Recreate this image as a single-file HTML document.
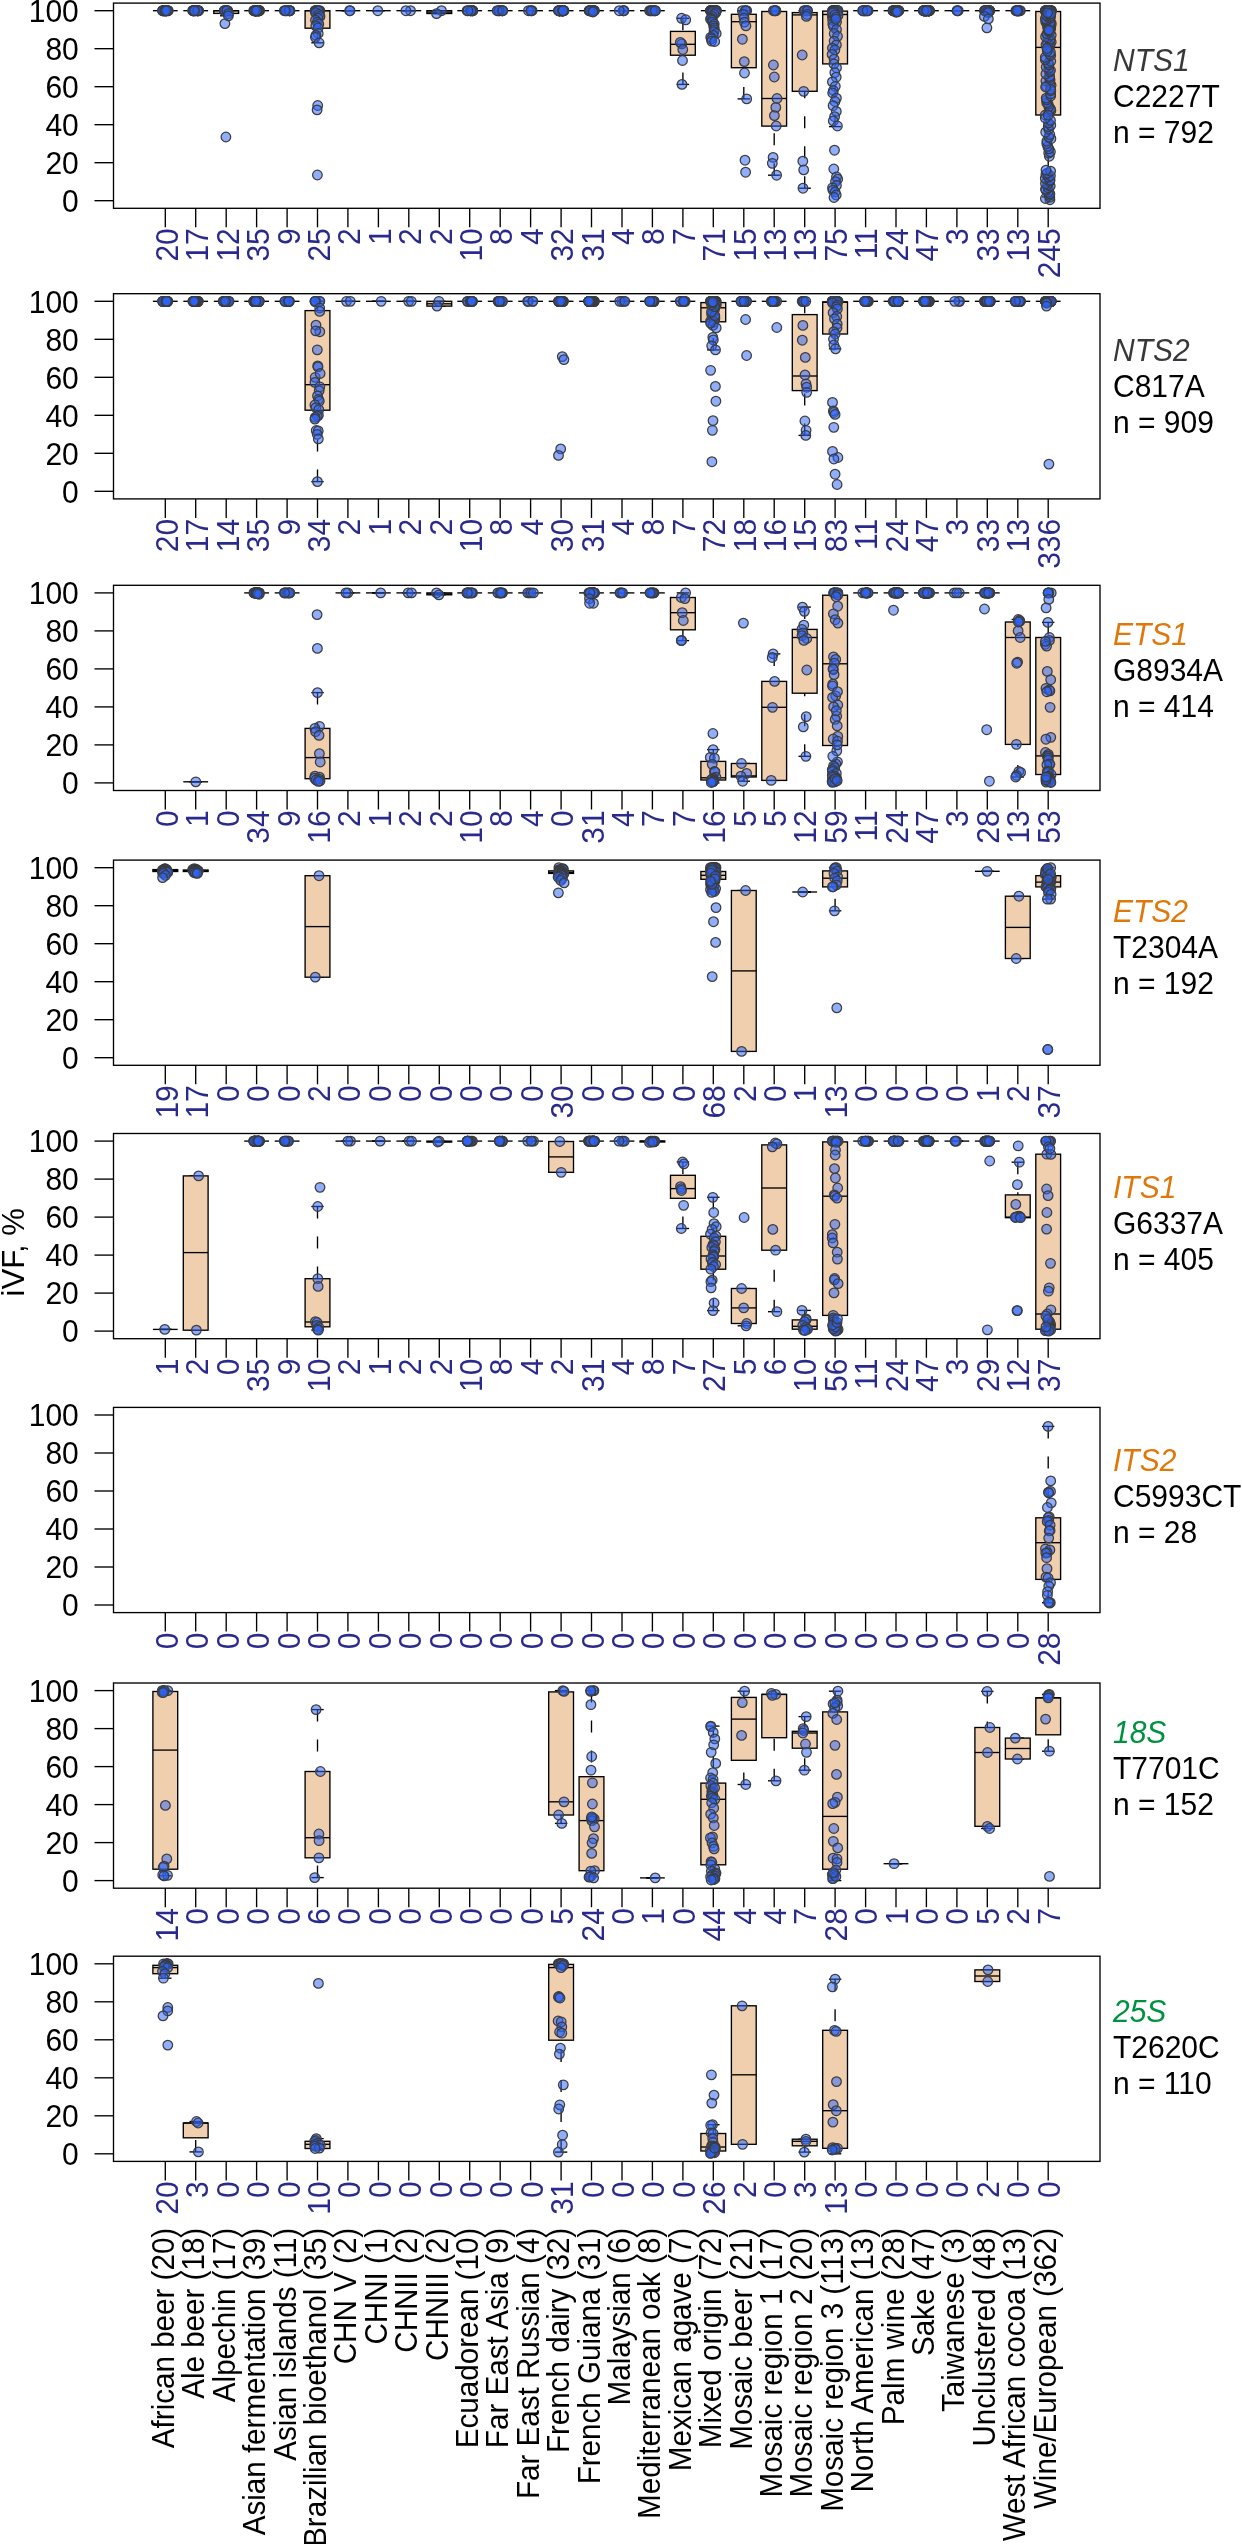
<!DOCTYPE html>
<html><head><meta charset="utf-8"><style>
html,body{margin:0;padding:0;background:#fff;}
body{width:1242px;height:2544px;overflow:hidden;}
svg{display:block;will-change:transform;}
.t{font-family:"Liberation Sans",sans-serif;font-size:30px;fill:#000;}
.c{fill:#2a2a8c;}
.p{fill:rgba(45,100,250,0.52);stroke:#3c3c3c;stroke-width:1.25;}
</style></head><body>
<svg width="1242" height="2544" viewBox="0 0 1242 2544">
<rect width="1242" height="2544" fill="#fff"/>
<line x1="159.1" y1="10.7" x2="171.5" y2="10.7" stroke="#000" stroke-width="1.35"/>
<line x1="159.1" y1="10.7" x2="171.5" y2="10.7" stroke="#000" stroke-width="1.35"/>
<rect x="152.9" y="10.7" width="24.8" height="0.0" fill="#f0cfaf" stroke="#000" stroke-width="1.35"/>
<line x1="152.9" y1="10.7" x2="177.7" y2="10.7" stroke="#000" stroke-width="1.35"/>
<circle class="p" cx="166.9" cy="10.7" r="4.8"/>
<circle class="p" cx="166.3" cy="10.7" r="4.8"/>
<circle class="p" cx="162.9" cy="10.7" r="4.8"/>
<circle class="p" cx="164.4" cy="10.7" r="4.8"/>
<circle class="p" cx="165.1" cy="10.7" r="4.8"/>
<circle class="p" cx="165.5" cy="10.7" r="4.8"/>
<circle class="p" cx="168.1" cy="10.7" r="4.8"/>
<circle class="p" cx="163.0" cy="10.7" r="4.8"/>
<circle class="p" cx="166.3" cy="10.7" r="4.8"/>
<circle class="p" cx="164.4" cy="10.7" r="4.8"/>
<circle class="p" cx="165.2" cy="10.7" r="4.8"/>
<circle class="p" cx="163.5" cy="10.7" r="4.8"/>
<circle class="p" cx="166.3" cy="10.7" r="4.8"/>
<circle class="p" cx="163.6" cy="10.7" r="4.8"/>
<circle class="p" cx="165.0" cy="10.7" r="4.8"/>
<circle class="p" cx="162.5" cy="10.7" r="4.8"/>
<circle class="p" cx="168.1" cy="10.7" r="4.8"/>
<circle class="p" cx="165.2" cy="10.7" r="4.8"/>
<circle class="p" cx="165.0" cy="10.7" r="4.8"/>
<circle class="p" cx="166.5" cy="10.7" r="4.8"/>
<line x1="189.5" y1="10.7" x2="201.9" y2="10.7" stroke="#000" stroke-width="1.35"/>
<line x1="189.5" y1="10.7" x2="201.9" y2="10.7" stroke="#000" stroke-width="1.35"/>
<rect x="183.3" y="10.7" width="24.8" height="0.0" fill="#f0cfaf" stroke="#000" stroke-width="1.35"/>
<line x1="183.3" y1="10.7" x2="208.1" y2="10.7" stroke="#000" stroke-width="1.35"/>
<circle class="p" cx="195.2" cy="10.7" r="4.8"/>
<circle class="p" cx="198.0" cy="10.7" r="4.8"/>
<circle class="p" cx="192.8" cy="10.7" r="4.8"/>
<circle class="p" cx="197.7" cy="10.7" r="4.8"/>
<circle class="p" cx="195.5" cy="10.7" r="4.8"/>
<circle class="p" cx="197.6" cy="10.7" r="4.8"/>
<circle class="p" cx="198.4" cy="10.7" r="4.8"/>
<circle class="p" cx="198.6" cy="10.7" r="4.8"/>
<circle class="p" cx="193.8" cy="10.7" r="4.8"/>
<circle class="p" cx="196.9" cy="10.7" r="4.8"/>
<circle class="p" cx="193.4" cy="10.7" r="4.8"/>
<circle class="p" cx="193.7" cy="10.7" r="4.8"/>
<circle class="p" cx="193.3" cy="10.7" r="4.8"/>
<circle class="p" cx="194.6" cy="10.7" r="4.8"/>
<circle class="p" cx="192.8" cy="10.7" r="4.8"/>
<circle class="p" cx="197.8" cy="10.7" r="4.8"/>
<circle class="p" cx="194.5" cy="10.7" r="4.8"/>
<line x1="226.2" y1="15.8" x2="226.2" y2="13.4" stroke="#000" stroke-width="1.35" stroke-dasharray="12 18"/>
<line x1="220.0" y1="10.7" x2="232.4" y2="10.7" stroke="#000" stroke-width="1.35"/>
<line x1="220.0" y1="15.8" x2="232.4" y2="15.8" stroke="#000" stroke-width="1.35"/>
<rect x="213.8" y="10.7" width="24.8" height="2.7" fill="#f0cfaf" stroke="#000" stroke-width="1.35"/>
<line x1="213.8" y1="10.7" x2="238.6" y2="10.7" stroke="#000" stroke-width="1.35"/>
<circle class="p" cx="227.8" cy="10.7" r="4.8"/>
<circle class="p" cx="226.4" cy="10.7" r="4.8"/>
<circle class="p" cx="224.3" cy="10.7" r="4.8"/>
<circle class="p" cx="224.9" cy="10.7" r="4.8"/>
<circle class="p" cx="225.1" cy="10.7" r="4.8"/>
<circle class="p" cx="227.1" cy="10.7" r="4.8"/>
<circle class="p" cx="224.5" cy="10.7" r="4.8"/>
<circle class="p" cx="226.9" cy="10.7" r="4.8"/>
<circle class="p" cx="228.5" cy="13.6" r="4.8"/>
<circle class="p" cx="228.4" cy="15.8" r="4.8"/>
<circle class="p" cx="224.9" cy="23.6" r="4.8"/>
<circle class="p" cx="225.9" cy="137.0" r="4.8"/>
<line x1="250.4" y1="10.7" x2="262.8" y2="10.7" stroke="#000" stroke-width="1.35"/>
<line x1="250.4" y1="10.7" x2="262.8" y2="10.7" stroke="#000" stroke-width="1.35"/>
<rect x="244.2" y="10.7" width="24.8" height="0.0" fill="#f0cfaf" stroke="#000" stroke-width="1.35"/>
<line x1="244.2" y1="10.7" x2="269.0" y2="10.7" stroke="#000" stroke-width="1.35"/>
<circle class="p" cx="256.5" cy="10.7" r="4.8"/>
<circle class="p" cx="255.3" cy="10.7" r="4.8"/>
<circle class="p" cx="255.6" cy="10.7" r="4.8"/>
<circle class="p" cx="259.5" cy="10.7" r="4.8"/>
<circle class="p" cx="253.7" cy="10.7" r="4.8"/>
<circle class="p" cx="254.5" cy="10.7" r="4.8"/>
<circle class="p" cx="257.5" cy="10.7" r="4.8"/>
<circle class="p" cx="254.1" cy="10.7" r="4.8"/>
<circle class="p" cx="255.4" cy="10.7" r="4.8"/>
<circle class="p" cx="258.4" cy="10.7" r="4.8"/>
<circle class="p" cx="259.1" cy="10.7" r="4.8"/>
<circle class="p" cx="255.8" cy="10.7" r="4.8"/>
<circle class="p" cx="254.8" cy="10.7" r="4.8"/>
<circle class="p" cx="258.9" cy="10.7" r="4.8"/>
<circle class="p" cx="257.4" cy="10.7" r="4.8"/>
<circle class="p" cx="256.6" cy="10.7" r="4.8"/>
<circle class="p" cx="255.6" cy="10.7" r="4.8"/>
<circle class="p" cx="255.7" cy="10.7" r="4.8"/>
<circle class="p" cx="255.4" cy="10.7" r="4.8"/>
<circle class="p" cx="258.2" cy="10.7" r="4.8"/>
<circle class="p" cx="256.5" cy="10.7" r="4.8"/>
<circle class="p" cx="254.8" cy="10.7" r="4.8"/>
<circle class="p" cx="258.8" cy="10.7" r="4.8"/>
<circle class="p" cx="258.1" cy="10.7" r="4.8"/>
<circle class="p" cx="258.8" cy="10.7" r="4.8"/>
<circle class="p" cx="259.2" cy="10.7" r="4.8"/>
<circle class="p" cx="255.1" cy="10.7" r="4.8"/>
<circle class="p" cx="259.0" cy="10.7" r="4.8"/>
<circle class="p" cx="258.2" cy="10.7" r="4.8"/>
<circle class="p" cx="256.1" cy="10.7" r="4.8"/>
<circle class="p" cx="255.5" cy="10.7" r="4.8"/>
<circle class="p" cx="257.0" cy="10.7" r="4.8"/>
<circle class="p" cx="257.1" cy="10.7" r="4.8"/>
<circle class="p" cx="254.6" cy="10.7" r="4.8"/>
<circle class="p" cx="256.5" cy="10.7" r="4.8"/>
<line x1="280.9" y1="10.7" x2="293.3" y2="10.7" stroke="#000" stroke-width="1.35"/>
<line x1="280.9" y1="10.7" x2="293.3" y2="10.7" stroke="#000" stroke-width="1.35"/>
<rect x="274.7" y="10.7" width="24.8" height="0.0" fill="#f0cfaf" stroke="#000" stroke-width="1.35"/>
<line x1="274.7" y1="10.7" x2="299.5" y2="10.7" stroke="#000" stroke-width="1.35"/>
<circle class="p" cx="289.7" cy="10.7" r="4.8"/>
<circle class="p" cx="286.9" cy="10.7" r="4.8"/>
<circle class="p" cx="286.4" cy="10.7" r="4.8"/>
<circle class="p" cx="289.6" cy="10.7" r="4.8"/>
<circle class="p" cx="290.0" cy="10.7" r="4.8"/>
<circle class="p" cx="289.7" cy="10.7" r="4.8"/>
<circle class="p" cx="284.3" cy="10.7" r="4.8"/>
<circle class="p" cx="289.2" cy="10.7" r="4.8"/>
<circle class="p" cx="285.3" cy="10.7" r="4.8"/>
<line x1="317.5" y1="42.8" x2="317.5" y2="28.2" stroke="#000" stroke-width="1.35" stroke-dasharray="12 18"/>
<line x1="311.3" y1="10.7" x2="323.7" y2="10.7" stroke="#000" stroke-width="1.35"/>
<line x1="311.3" y1="42.8" x2="323.7" y2="42.8" stroke="#000" stroke-width="1.35"/>
<rect x="305.1" y="10.7" width="24.8" height="17.5" fill="#f0cfaf" stroke="#000" stroke-width="1.35"/>
<line x1="305.1" y1="10.7" x2="329.9" y2="10.7" stroke="#000" stroke-width="1.35"/>
<circle class="p" cx="316.6" cy="10.7" r="4.8"/>
<circle class="p" cx="319.8" cy="10.7" r="4.8"/>
<circle class="p" cx="315.1" cy="10.7" r="4.8"/>
<circle class="p" cx="315.3" cy="10.7" r="4.8"/>
<circle class="p" cx="316.1" cy="10.7" r="4.8"/>
<circle class="p" cx="315.8" cy="10.7" r="4.8"/>
<circle class="p" cx="316.5" cy="10.7" r="4.8"/>
<circle class="p" cx="318.9" cy="10.7" r="4.8"/>
<circle class="p" cx="318.3" cy="10.7" r="4.8"/>
<circle class="p" cx="315.5" cy="12.6" r="4.8"/>
<circle class="p" cx="319.1" cy="14.5" r="4.8"/>
<circle class="p" cx="320.0" cy="16.4" r="4.8"/>
<circle class="p" cx="318.0" cy="18.3" r="4.8"/>
<circle class="p" cx="315.5" cy="20.2" r="4.8"/>
<circle class="p" cx="317.4" cy="22.1" r="4.8"/>
<circle class="p" cx="318.8" cy="24.0" r="4.8"/>
<circle class="p" cx="315.8" cy="25.9" r="4.8"/>
<circle class="p" cx="318.2" cy="27.8" r="4.8"/>
<circle class="p" cx="318.2" cy="33.5" r="4.8"/>
<circle class="p" cx="315.9" cy="35.4" r="4.8"/>
<circle class="p" cx="315.4" cy="37.3" r="4.8"/>
<circle class="p" cx="319.1" cy="42.8" r="4.8"/>
<circle class="p" cx="317.7" cy="105.5" r="4.8"/>
<circle class="p" cx="317.1" cy="109.9" r="4.8"/>
<circle class="p" cx="317.4" cy="175.0" r="4.8"/>
<line x1="341.7" y1="10.7" x2="354.1" y2="10.7" stroke="#000" stroke-width="1.35"/>
<line x1="341.7" y1="10.7" x2="354.1" y2="10.7" stroke="#000" stroke-width="1.35"/>
<rect x="335.5" y="10.7" width="24.8" height="0.0" fill="#f0cfaf" stroke="#000" stroke-width="1.35"/>
<line x1="335.5" y1="10.7" x2="360.3" y2="10.7" stroke="#000" stroke-width="1.35"/>
<circle class="p" cx="349.7" cy="10.7" r="4.8"/>
<circle class="p" cx="350.0" cy="10.7" r="4.8"/>
<line x1="372.2" y1="10.7" x2="384.6" y2="10.7" stroke="#000" stroke-width="1.35"/>
<line x1="372.2" y1="10.7" x2="384.6" y2="10.7" stroke="#000" stroke-width="1.35"/>
<rect x="366.0" y="10.7" width="24.8" height="0.0" fill="#f0cfaf" stroke="#000" stroke-width="1.35"/>
<line x1="366.0" y1="10.7" x2="390.8" y2="10.7" stroke="#000" stroke-width="1.35"/>
<circle class="p" cx="377.8" cy="10.7" r="4.8"/>
<line x1="402.6" y1="10.7" x2="415.0" y2="10.7" stroke="#000" stroke-width="1.35"/>
<line x1="402.6" y1="10.7" x2="415.0" y2="10.7" stroke="#000" stroke-width="1.35"/>
<rect x="396.4" y="10.7" width="24.8" height="0.0" fill="#f0cfaf" stroke="#000" stroke-width="1.35"/>
<line x1="396.4" y1="10.7" x2="421.2" y2="10.7" stroke="#000" stroke-width="1.35"/>
<circle class="p" cx="410.5" cy="10.7" r="4.8"/>
<circle class="p" cx="405.9" cy="10.7" r="4.8"/>
<line x1="433.1" y1="10.7" x2="445.5" y2="10.7" stroke="#000" stroke-width="1.35"/>
<line x1="433.1" y1="13.6" x2="445.5" y2="13.6" stroke="#000" stroke-width="1.35"/>
<rect x="426.9" y="10.7" width="24.8" height="2.8" fill="#f0cfaf" stroke="#000" stroke-width="1.35"/>
<line x1="426.9" y1="12.1" x2="451.7" y2="12.1" stroke="#000" stroke-width="1.35"/>
<circle class="p" cx="441.5" cy="10.7" r="4.8"/>
<circle class="p" cx="436.5" cy="13.6" r="4.8"/>
<line x1="463.5" y1="10.7" x2="475.9" y2="10.7" stroke="#000" stroke-width="1.35"/>
<line x1="463.5" y1="10.7" x2="475.9" y2="10.7" stroke="#000" stroke-width="1.35"/>
<rect x="457.3" y="10.7" width="24.8" height="0.0" fill="#f0cfaf" stroke="#000" stroke-width="1.35"/>
<line x1="457.3" y1="10.7" x2="482.1" y2="10.7" stroke="#000" stroke-width="1.35"/>
<circle class="p" cx="472.6" cy="10.7" r="4.8"/>
<circle class="p" cx="472.7" cy="10.7" r="4.8"/>
<circle class="p" cx="470.4" cy="10.7" r="4.8"/>
<circle class="p" cx="472.1" cy="10.7" r="4.8"/>
<circle class="p" cx="470.8" cy="10.7" r="4.8"/>
<circle class="p" cx="467.1" cy="10.7" r="4.8"/>
<circle class="p" cx="470.9" cy="10.7" r="4.8"/>
<circle class="p" cx="472.7" cy="10.7" r="4.8"/>
<circle class="p" cx="471.0" cy="10.7" r="4.8"/>
<circle class="p" cx="468.0" cy="10.7" r="4.8"/>
<line x1="494.0" y1="10.7" x2="506.4" y2="10.7" stroke="#000" stroke-width="1.35"/>
<line x1="494.0" y1="10.7" x2="506.4" y2="10.7" stroke="#000" stroke-width="1.35"/>
<rect x="487.8" y="10.7" width="24.8" height="0.0" fill="#f0cfaf" stroke="#000" stroke-width="1.35"/>
<line x1="487.8" y1="10.7" x2="512.6" y2="10.7" stroke="#000" stroke-width="1.35"/>
<circle class="p" cx="499.7" cy="10.7" r="4.8"/>
<circle class="p" cx="502.4" cy="10.7" r="4.8"/>
<circle class="p" cx="502.0" cy="10.7" r="4.8"/>
<circle class="p" cx="498.5" cy="10.7" r="4.8"/>
<circle class="p" cx="502.1" cy="10.7" r="4.8"/>
<circle class="p" cx="499.2" cy="10.7" r="4.8"/>
<circle class="p" cx="497.2" cy="10.7" r="4.8"/>
<circle class="p" cx="502.8" cy="10.7" r="4.8"/>
<line x1="524.4" y1="10.7" x2="536.8" y2="10.7" stroke="#000" stroke-width="1.35"/>
<line x1="524.4" y1="10.7" x2="536.8" y2="10.7" stroke="#000" stroke-width="1.35"/>
<rect x="518.2" y="10.7" width="24.8" height="0.0" fill="#f0cfaf" stroke="#000" stroke-width="1.35"/>
<line x1="518.2" y1="10.7" x2="543.0" y2="10.7" stroke="#000" stroke-width="1.35"/>
<circle class="p" cx="531.1" cy="10.7" r="4.8"/>
<circle class="p" cx="532.1" cy="10.7" r="4.8"/>
<circle class="p" cx="528.5" cy="10.7" r="4.8"/>
<circle class="p" cx="530.9" cy="10.7" r="4.8"/>
<line x1="554.9" y1="10.7" x2="567.3" y2="10.7" stroke="#000" stroke-width="1.35"/>
<line x1="554.9" y1="10.7" x2="567.3" y2="10.7" stroke="#000" stroke-width="1.35"/>
<rect x="548.7" y="10.7" width="24.8" height="0.0" fill="#f0cfaf" stroke="#000" stroke-width="1.35"/>
<line x1="548.7" y1="10.7" x2="573.5" y2="10.7" stroke="#000" stroke-width="1.35"/>
<circle class="p" cx="563.6" cy="10.7" r="4.8"/>
<circle class="p" cx="559.0" cy="10.7" r="4.8"/>
<circle class="p" cx="563.9" cy="10.7" r="4.8"/>
<circle class="p" cx="561.8" cy="10.7" r="4.8"/>
<circle class="p" cx="562.4" cy="10.7" r="4.8"/>
<circle class="p" cx="562.2" cy="10.7" r="4.8"/>
<circle class="p" cx="562.7" cy="10.7" r="4.8"/>
<circle class="p" cx="559.3" cy="10.7" r="4.8"/>
<circle class="p" cx="561.7" cy="10.7" r="4.8"/>
<circle class="p" cx="559.5" cy="10.7" r="4.8"/>
<circle class="p" cx="558.7" cy="10.7" r="4.8"/>
<circle class="p" cx="560.0" cy="10.7" r="4.8"/>
<circle class="p" cx="563.5" cy="10.7" r="4.8"/>
<circle class="p" cx="563.7" cy="10.7" r="4.8"/>
<circle class="p" cx="561.0" cy="10.7" r="4.8"/>
<circle class="p" cx="561.8" cy="10.7" r="4.8"/>
<circle class="p" cx="559.2" cy="10.7" r="4.8"/>
<circle class="p" cx="559.8" cy="10.7" r="4.8"/>
<circle class="p" cx="562.0" cy="10.7" r="4.8"/>
<circle class="p" cx="559.8" cy="10.7" r="4.8"/>
<circle class="p" cx="562.7" cy="10.7" r="4.8"/>
<circle class="p" cx="563.0" cy="10.7" r="4.8"/>
<circle class="p" cx="560.8" cy="10.7" r="4.8"/>
<circle class="p" cx="560.5" cy="10.7" r="4.8"/>
<circle class="p" cx="559.1" cy="10.7" r="4.8"/>
<circle class="p" cx="559.4" cy="10.7" r="4.8"/>
<circle class="p" cx="563.0" cy="10.7" r="4.8"/>
<circle class="p" cx="559.6" cy="10.7" r="4.8"/>
<circle class="p" cx="558.5" cy="10.7" r="4.8"/>
<circle class="p" cx="562.5" cy="10.7" r="4.8"/>
<circle class="p" cx="562.9" cy="10.7" r="4.8"/>
<circle class="p" cx="563.2" cy="10.7" r="4.8"/>
<line x1="585.3" y1="10.7" x2="597.7" y2="10.7" stroke="#000" stroke-width="1.35"/>
<line x1="585.3" y1="10.7" x2="597.7" y2="10.7" stroke="#000" stroke-width="1.35"/>
<rect x="579.1" y="10.7" width="24.8" height="0.0" fill="#f0cfaf" stroke="#000" stroke-width="1.35"/>
<line x1="579.1" y1="10.7" x2="603.9" y2="10.7" stroke="#000" stroke-width="1.35"/>
<circle class="p" cx="593.1" cy="10.7" r="4.8"/>
<circle class="p" cx="589.4" cy="10.7" r="4.8"/>
<circle class="p" cx="591.4" cy="10.7" r="4.8"/>
<circle class="p" cx="591.2" cy="10.7" r="4.8"/>
<circle class="p" cx="591.6" cy="10.7" r="4.8"/>
<circle class="p" cx="592.8" cy="10.7" r="4.8"/>
<circle class="p" cx="592.7" cy="10.7" r="4.8"/>
<circle class="p" cx="592.8" cy="10.7" r="4.8"/>
<circle class="p" cx="594.2" cy="10.7" r="4.8"/>
<circle class="p" cx="593.3" cy="10.7" r="4.8"/>
<circle class="p" cx="593.2" cy="10.7" r="4.8"/>
<circle class="p" cx="591.1" cy="10.7" r="4.8"/>
<circle class="p" cx="593.5" cy="10.7" r="4.8"/>
<circle class="p" cx="594.3" cy="10.7" r="4.8"/>
<circle class="p" cx="592.6" cy="10.7" r="4.8"/>
<circle class="p" cx="589.1" cy="10.7" r="4.8"/>
<circle class="p" cx="592.5" cy="10.7" r="4.8"/>
<circle class="p" cx="591.6" cy="10.7" r="4.8"/>
<circle class="p" cx="589.8" cy="10.7" r="4.8"/>
<circle class="p" cx="590.8" cy="10.7" r="4.8"/>
<circle class="p" cx="593.2" cy="10.7" r="4.8"/>
<circle class="p" cx="592.5" cy="10.7" r="4.8"/>
<circle class="p" cx="591.0" cy="10.7" r="4.8"/>
<circle class="p" cx="592.7" cy="10.7" r="4.8"/>
<circle class="p" cx="593.0" cy="10.7" r="4.8"/>
<circle class="p" cx="591.2" cy="10.7" r="4.8"/>
<circle class="p" cx="593.9" cy="10.7" r="4.8"/>
<circle class="p" cx="591.2" cy="10.7" r="4.8"/>
<circle class="p" cx="589.7" cy="10.7" r="4.8"/>
<circle class="p" cx="593.7" cy="10.7" r="4.8"/>
<circle class="p" cx="593.0" cy="12.0" r="4.8"/>
<line x1="615.8" y1="10.7" x2="628.2" y2="10.7" stroke="#000" stroke-width="1.35"/>
<line x1="615.8" y1="10.7" x2="628.2" y2="10.7" stroke="#000" stroke-width="1.35"/>
<rect x="609.6" y="10.7" width="24.8" height="0.0" fill="#f0cfaf" stroke="#000" stroke-width="1.35"/>
<line x1="609.6" y1="10.7" x2="634.4" y2="10.7" stroke="#000" stroke-width="1.35"/>
<circle class="p" cx="623.2" cy="10.7" r="4.8"/>
<circle class="p" cx="623.8" cy="10.7" r="4.8"/>
<circle class="p" cx="623.9" cy="10.7" r="4.8"/>
<circle class="p" cx="619.3" cy="10.7" r="4.8"/>
<line x1="646.2" y1="10.7" x2="658.6" y2="10.7" stroke="#000" stroke-width="1.35"/>
<line x1="646.2" y1="10.7" x2="658.6" y2="10.7" stroke="#000" stroke-width="1.35"/>
<rect x="640.0" y="10.7" width="24.8" height="0.0" fill="#f0cfaf" stroke="#000" stroke-width="1.35"/>
<line x1="640.0" y1="10.7" x2="664.8" y2="10.7" stroke="#000" stroke-width="1.35"/>
<circle class="p" cx="651.0" cy="10.7" r="4.8"/>
<circle class="p" cx="654.0" cy="10.7" r="4.8"/>
<circle class="p" cx="649.6" cy="10.7" r="4.8"/>
<circle class="p" cx="653.9" cy="10.7" r="4.8"/>
<circle class="p" cx="650.8" cy="10.7" r="4.8"/>
<circle class="p" cx="655.3" cy="10.7" r="4.8"/>
<circle class="p" cx="652.4" cy="10.7" r="4.8"/>
<circle class="p" cx="655.3" cy="10.7" r="4.8"/>
<line x1="682.9" y1="18.3" x2="682.9" y2="31.4" stroke="#000" stroke-width="1.35" stroke-dasharray="12 18"/>
<line x1="682.9" y1="84.4" x2="682.9" y2="55.2" stroke="#000" stroke-width="1.35" stroke-dasharray="12 18"/>
<line x1="676.7" y1="18.3" x2="689.1" y2="18.3" stroke="#000" stroke-width="1.35"/>
<line x1="676.7" y1="84.4" x2="689.1" y2="84.4" stroke="#000" stroke-width="1.35"/>
<rect x="670.5" y="31.4" width="24.8" height="23.8" fill="#f0cfaf" stroke="#000" stroke-width="1.35"/>
<line x1="670.5" y1="44.3" x2="695.3" y2="44.3" stroke="#000" stroke-width="1.35"/>
<circle class="p" cx="681.6" cy="18.3" r="4.8"/>
<circle class="p" cx="685.7" cy="19.8" r="4.8"/>
<circle class="p" cx="681.7" cy="43.9" r="4.8"/>
<circle class="p" cx="680.3" cy="42.4" r="4.8"/>
<circle class="p" cx="682.8" cy="49.5" r="4.8"/>
<circle class="p" cx="682.5" cy="60.5" r="4.8"/>
<circle class="p" cx="682.0" cy="84.4" r="4.8"/>
<line x1="707.1" y1="10.7" x2="719.5" y2="10.7" stroke="#000" stroke-width="1.35"/>
<line x1="707.1" y1="10.7" x2="719.5" y2="10.7" stroke="#000" stroke-width="1.35"/>
<rect x="700.9" y="10.7" width="24.8" height="0.0" fill="#f0cfaf" stroke="#000" stroke-width="1.35"/>
<line x1="700.9" y1="10.7" x2="725.7" y2="10.7" stroke="#000" stroke-width="1.35"/>
<circle class="p" cx="711.1" cy="10.7" r="4.8"/>
<circle class="p" cx="715.6" cy="10.7" r="4.8"/>
<circle class="p" cx="711.6" cy="10.7" r="4.8"/>
<circle class="p" cx="712.9" cy="10.7" r="4.8"/>
<circle class="p" cx="712.8" cy="10.7" r="4.8"/>
<circle class="p" cx="710.6" cy="10.7" r="4.8"/>
<circle class="p" cx="714.3" cy="10.7" r="4.8"/>
<circle class="p" cx="711.6" cy="10.7" r="4.8"/>
<circle class="p" cx="712.4" cy="10.7" r="4.8"/>
<circle class="p" cx="713.6" cy="10.7" r="4.8"/>
<circle class="p" cx="712.9" cy="10.7" r="4.8"/>
<circle class="p" cx="713.4" cy="10.7" r="4.8"/>
<circle class="p" cx="716.3" cy="10.7" r="4.8"/>
<circle class="p" cx="713.3" cy="10.7" r="4.8"/>
<circle class="p" cx="716.1" cy="10.7" r="4.8"/>
<circle class="p" cx="715.4" cy="10.7" r="4.8"/>
<circle class="p" cx="714.1" cy="10.7" r="4.8"/>
<circle class="p" cx="711.0" cy="10.7" r="4.8"/>
<circle class="p" cx="713.1" cy="10.7" r="4.8"/>
<circle class="p" cx="714.3" cy="10.7" r="4.8"/>
<circle class="p" cx="714.4" cy="10.7" r="4.8"/>
<circle class="p" cx="710.9" cy="10.7" r="4.8"/>
<circle class="p" cx="713.0" cy="10.7" r="4.8"/>
<circle class="p" cx="713.2" cy="10.7" r="4.8"/>
<circle class="p" cx="710.5" cy="10.7" r="4.8"/>
<circle class="p" cx="713.2" cy="10.7" r="4.8"/>
<circle class="p" cx="715.8" cy="10.7" r="4.8"/>
<circle class="p" cx="711.3" cy="10.7" r="4.8"/>
<circle class="p" cx="712.6" cy="10.7" r="4.8"/>
<circle class="p" cx="711.6" cy="10.7" r="4.8"/>
<circle class="p" cx="713.4" cy="10.7" r="4.8"/>
<circle class="p" cx="714.6" cy="10.7" r="4.8"/>
<circle class="p" cx="714.3" cy="10.7" r="4.8"/>
<circle class="p" cx="711.1" cy="10.7" r="4.8"/>
<circle class="p" cx="714.6" cy="10.7" r="4.8"/>
<circle class="p" cx="714.2" cy="10.7" r="4.8"/>
<circle class="p" cx="716.0" cy="10.7" r="4.8"/>
<circle class="p" cx="714.2" cy="10.7" r="4.8"/>
<circle class="p" cx="710.9" cy="10.7" r="4.8"/>
<circle class="p" cx="714.4" cy="10.7" r="4.8"/>
<circle class="p" cx="712.3" cy="10.7" r="4.8"/>
<circle class="p" cx="710.6" cy="10.7" r="4.8"/>
<circle class="p" cx="715.0" cy="10.7" r="4.8"/>
<circle class="p" cx="713.6" cy="10.7" r="4.8"/>
<circle class="p" cx="712.9" cy="10.7" r="4.8"/>
<circle class="p" cx="713.7" cy="10.7" r="4.8"/>
<circle class="p" cx="713.0" cy="10.7" r="4.8"/>
<circle class="p" cx="715.0" cy="10.7" r="4.8"/>
<circle class="p" cx="716.2" cy="10.7" r="4.8"/>
<circle class="p" cx="712.4" cy="10.7" r="4.8"/>
<circle class="p" cx="714.7" cy="10.7" r="4.8"/>
<circle class="p" cx="715.7" cy="10.7" r="4.8"/>
<circle class="p" cx="712.6" cy="11.7" r="4.8"/>
<circle class="p" cx="715.8" cy="12.6" r="4.8"/>
<circle class="p" cx="714.1" cy="14.5" r="4.8"/>
<circle class="p" cx="712.2" cy="16.4" r="4.8"/>
<circle class="p" cx="711.2" cy="18.3" r="4.8"/>
<circle class="p" cx="710.5" cy="19.2" r="4.8"/>
<circle class="p" cx="712.4" cy="20.2" r="4.8"/>
<circle class="p" cx="712.5" cy="22.1" r="4.8"/>
<circle class="p" cx="714.2" cy="24.0" r="4.8"/>
<circle class="p" cx="713.7" cy="25.9" r="4.8"/>
<circle class="p" cx="714.2" cy="27.8" r="4.8"/>
<circle class="p" cx="714.1" cy="29.7" r="4.8"/>
<circle class="p" cx="714.1" cy="31.6" r="4.8"/>
<circle class="p" cx="716.2" cy="33.5" r="4.8"/>
<circle class="p" cx="713.2" cy="35.4" r="4.8"/>
<circle class="p" cx="710.7" cy="37.3" r="4.8"/>
<circle class="p" cx="711.4" cy="38.8" r="4.8"/>
<circle class="p" cx="711.7" cy="41.1" r="4.8"/>
<circle class="p" cx="714.7" cy="41.5" r="4.8"/>
<line x1="743.8" y1="10.7" x2="743.8" y2="14.3" stroke="#000" stroke-width="1.35" stroke-dasharray="12 18"/>
<line x1="743.8" y1="98.9" x2="743.8" y2="67.7" stroke="#000" stroke-width="1.35" stroke-dasharray="12 18"/>
<line x1="737.6" y1="10.7" x2="750.0" y2="10.7" stroke="#000" stroke-width="1.35"/>
<line x1="737.6" y1="98.9" x2="750.0" y2="98.9" stroke="#000" stroke-width="1.35"/>
<rect x="731.4" y="14.3" width="24.8" height="53.4" fill="#f0cfaf" stroke="#000" stroke-width="1.35"/>
<line x1="731.4" y1="21.7" x2="756.2" y2="21.7" stroke="#000" stroke-width="1.35"/>
<circle class="p" cx="742.4" cy="10.7" r="4.8"/>
<circle class="p" cx="746.7" cy="10.7" r="4.8"/>
<circle class="p" cx="745.4" cy="10.7" r="4.8"/>
<circle class="p" cx="745.6" cy="10.7" r="4.8"/>
<circle class="p" cx="743.4" cy="14.5" r="4.8"/>
<circle class="p" cx="744.1" cy="18.3" r="4.8"/>
<circle class="p" cx="744.4" cy="22.1" r="4.8"/>
<circle class="p" cx="745.9" cy="25.9" r="4.8"/>
<circle class="p" cx="742.4" cy="39.2" r="4.8"/>
<circle class="p" cx="744.3" cy="61.6" r="4.8"/>
<circle class="p" cx="744.5" cy="73.0" r="4.8"/>
<circle class="p" cx="746.7" cy="98.9" r="4.8"/>
<circle class="p" cx="745.0" cy="160.2" r="4.8"/>
<circle class="p" cx="745.6" cy="172.2" r="4.8"/>
<line x1="774.2" y1="10.7" x2="774.2" y2="11.5" stroke="#000" stroke-width="1.35" stroke-dasharray="12 18"/>
<line x1="774.2" y1="175.2" x2="774.2" y2="126.0" stroke="#000" stroke-width="1.35" stroke-dasharray="12 18"/>
<line x1="768.0" y1="10.7" x2="780.4" y2="10.7" stroke="#000" stroke-width="1.35"/>
<line x1="768.0" y1="175.2" x2="780.4" y2="175.2" stroke="#000" stroke-width="1.35"/>
<rect x="761.8" y="11.5" width="24.8" height="114.6" fill="#f0cfaf" stroke="#000" stroke-width="1.35"/>
<line x1="761.8" y1="98.5" x2="786.6" y2="98.5" stroke="#000" stroke-width="1.35"/>
<circle class="p" cx="775.9" cy="10.7" r="4.8"/>
<circle class="p" cx="773.4" cy="10.7" r="4.8"/>
<circle class="p" cx="775.6" cy="10.7" r="4.8"/>
<circle class="p" cx="774.7" cy="10.7" r="4.8"/>
<circle class="p" cx="773.4" cy="65.0" r="4.8"/>
<circle class="p" cx="774.3" cy="77.0" r="4.8"/>
<circle class="p" cx="777.0" cy="98.5" r="4.8"/>
<circle class="p" cx="775.8" cy="107.4" r="4.8"/>
<circle class="p" cx="774.4" cy="115.6" r="4.8"/>
<circle class="p" cx="776.2" cy="126.0" r="4.8"/>
<circle class="p" cx="773.1" cy="157.4" r="4.8"/>
<circle class="p" cx="772.3" cy="163.3" r="4.8"/>
<circle class="p" cx="776.6" cy="175.2" r="4.8"/>
<line x1="804.7" y1="10.7" x2="804.7" y2="12.6" stroke="#000" stroke-width="1.35" stroke-dasharray="12 18"/>
<line x1="804.7" y1="188.2" x2="804.7" y2="91.3" stroke="#000" stroke-width="1.35" stroke-dasharray="12 18"/>
<line x1="798.5" y1="10.7" x2="810.9" y2="10.7" stroke="#000" stroke-width="1.35"/>
<line x1="798.5" y1="188.2" x2="810.9" y2="188.2" stroke="#000" stroke-width="1.35"/>
<rect x="792.3" y="12.6" width="24.8" height="78.7" fill="#f0cfaf" stroke="#000" stroke-width="1.35"/>
<line x1="792.3" y1="14.9" x2="817.1" y2="14.9" stroke="#000" stroke-width="1.35"/>
<circle class="p" cx="807.1" cy="10.7" r="4.8"/>
<circle class="p" cx="806.8" cy="10.7" r="4.8"/>
<circle class="p" cx="804.1" cy="10.7" r="4.8"/>
<circle class="p" cx="806.7" cy="10.7" r="4.8"/>
<circle class="p" cx="804.7" cy="10.7" r="4.8"/>
<circle class="p" cx="807.6" cy="10.7" r="4.8"/>
<circle class="p" cx="807.1" cy="14.5" r="4.8"/>
<circle class="p" cx="806.4" cy="16.4" r="4.8"/>
<circle class="p" cx="802.2" cy="55.0" r="4.8"/>
<circle class="p" cx="803.7" cy="91.3" r="4.8"/>
<circle class="p" cx="802.8" cy="161.2" r="4.8"/>
<circle class="p" cx="803.7" cy="169.9" r="4.8"/>
<circle class="p" cx="803.0" cy="188.2" r="4.8"/>
<line x1="835.1" y1="10.7" x2="835.1" y2="11.1" stroke="#000" stroke-width="1.35" stroke-dasharray="12 18"/>
<line x1="835.1" y1="126.6" x2="835.1" y2="63.9" stroke="#000" stroke-width="1.35" stroke-dasharray="12 18"/>
<line x1="828.9" y1="10.7" x2="841.3" y2="10.7" stroke="#000" stroke-width="1.35"/>
<line x1="828.9" y1="126.6" x2="841.3" y2="126.6" stroke="#000" stroke-width="1.35"/>
<rect x="822.7" y="11.1" width="24.8" height="52.8" fill="#f0cfaf" stroke="#000" stroke-width="1.35"/>
<line x1="822.7" y1="14.5" x2="847.5" y2="14.5" stroke="#000" stroke-width="1.35"/>
<circle class="p" cx="835.1" cy="10.7" r="4.8"/>
<circle class="p" cx="835.0" cy="10.7" r="4.8"/>
<circle class="p" cx="835.6" cy="10.7" r="4.8"/>
<circle class="p" cx="833.3" cy="10.7" r="4.8"/>
<circle class="p" cx="838.0" cy="10.7" r="4.8"/>
<circle class="p" cx="835.4" cy="10.7" r="4.8"/>
<circle class="p" cx="835.2" cy="10.7" r="4.8"/>
<circle class="p" cx="833.2" cy="10.7" r="4.8"/>
<circle class="p" cx="833.3" cy="10.7" r="4.8"/>
<circle class="p" cx="837.2" cy="10.7" r="4.8"/>
<circle class="p" cx="836.7" cy="10.7" r="4.8"/>
<circle class="p" cx="837.0" cy="10.7" r="4.8"/>
<circle class="p" cx="832.7" cy="10.7" r="4.8"/>
<circle class="p" cx="832.8" cy="10.7" r="4.8"/>
<circle class="p" cx="836.9" cy="10.7" r="4.8"/>
<circle class="p" cx="837.0" cy="10.7" r="4.8"/>
<circle class="p" cx="833.2" cy="10.7" r="4.8"/>
<circle class="p" cx="836.2" cy="10.7" r="4.8"/>
<circle class="p" cx="832.7" cy="10.7" r="4.8"/>
<circle class="p" cx="834.5" cy="10.7" r="4.8"/>
<circle class="p" cx="833.9" cy="10.7" r="4.8"/>
<circle class="p" cx="837.9" cy="10.7" r="4.8"/>
<circle class="p" cx="832.3" cy="11.7" r="4.8"/>
<circle class="p" cx="837.5" cy="12.6" r="4.8"/>
<circle class="p" cx="835.3" cy="13.6" r="4.8"/>
<circle class="p" cx="832.6" cy="14.5" r="4.8"/>
<circle class="p" cx="838.0" cy="15.4" r="4.8"/>
<circle class="p" cx="832.4" cy="16.4" r="4.8"/>
<circle class="p" cx="834.7" cy="18.3" r="4.8"/>
<circle class="p" cx="832.7" cy="20.2" r="4.8"/>
<circle class="p" cx="836.5" cy="22.1" r="4.8"/>
<circle class="p" cx="832.8" cy="24.0" r="4.8"/>
<circle class="p" cx="833.4" cy="26.3" r="4.8"/>
<circle class="p" cx="836.5" cy="29.5" r="4.8"/>
<circle class="p" cx="834.2" cy="33.5" r="4.8"/>
<circle class="p" cx="837.5" cy="36.3" r="4.8"/>
<circle class="p" cx="834.1" cy="41.1" r="4.8"/>
<circle class="p" cx="836.4" cy="44.9" r="4.8"/>
<circle class="p" cx="832.4" cy="48.1" r="4.8"/>
<circle class="p" cx="834.9" cy="49.8" r="4.8"/>
<circle class="p" cx="832.1" cy="54.4" r="4.8"/>
<circle class="p" cx="834.1" cy="59.2" r="4.8"/>
<circle class="p" cx="833.9" cy="63.9" r="4.8"/>
<circle class="p" cx="836.5" cy="67.7" r="4.8"/>
<circle class="p" cx="834.8" cy="72.6" r="4.8"/>
<circle class="p" cx="836.2" cy="77.2" r="4.8"/>
<circle class="p" cx="832.4" cy="81.9" r="4.8"/>
<circle class="p" cx="835.3" cy="86.3" r="4.8"/>
<circle class="p" cx="833.4" cy="90.5" r="4.8"/>
<circle class="p" cx="832.7" cy="93.0" r="4.8"/>
<circle class="p" cx="836.4" cy="98.1" r="4.8"/>
<circle class="p" cx="835.0" cy="101.5" r="4.8"/>
<circle class="p" cx="833.1" cy="105.7" r="4.8"/>
<circle class="p" cx="836.3" cy="111.4" r="4.8"/>
<circle class="p" cx="834.6" cy="116.7" r="4.8"/>
<circle class="p" cx="833.3" cy="120.9" r="4.8"/>
<circle class="p" cx="837.4" cy="126.0" r="4.8"/>
<circle class="p" cx="834.5" cy="150.2" r="4.8"/>
<circle class="p" cx="833.8" cy="169.0" r="4.8"/>
<circle class="p" cx="836.5" cy="176.8" r="4.8"/>
<circle class="p" cx="837.7" cy="179.2" r="4.8"/>
<circle class="p" cx="835.5" cy="181.7" r="4.8"/>
<circle class="p" cx="836.4" cy="185.5" r="4.8"/>
<circle class="p" cx="832.5" cy="187.8" r="4.8"/>
<circle class="p" cx="832.9" cy="190.2" r="4.8"/>
<circle class="p" cx="835.1" cy="192.0" r="4.8"/>
<circle class="p" cx="836.2" cy="195.0" r="4.8"/>
<circle class="p" cx="834.0" cy="197.5" r="4.8"/>
<circle class="p" cx="833.6" cy="11.3" r="4.8"/>
<circle class="p" cx="833.7" cy="12.2" r="4.8"/>
<circle class="p" cx="832.5" cy="13.0" r="4.8"/>
<circle class="p" cx="834.9" cy="14.9" r="4.8"/>
<circle class="p" cx="836.0" cy="17.3" r="4.8"/>
<circle class="p" cx="835.9" cy="19.2" r="4.8"/>
<line x1="859.4" y1="10.7" x2="871.8" y2="10.7" stroke="#000" stroke-width="1.35"/>
<line x1="859.4" y1="10.7" x2="871.8" y2="10.7" stroke="#000" stroke-width="1.35"/>
<rect x="853.2" y="10.7" width="24.8" height="0.0" fill="#f0cfaf" stroke="#000" stroke-width="1.35"/>
<line x1="853.2" y1="10.7" x2="878.0" y2="10.7" stroke="#000" stroke-width="1.35"/>
<circle class="p" cx="864.5" cy="10.7" r="4.8"/>
<circle class="p" cx="865.2" cy="10.7" r="4.8"/>
<circle class="p" cx="863.5" cy="10.7" r="4.8"/>
<circle class="p" cx="864.3" cy="10.7" r="4.8"/>
<circle class="p" cx="865.3" cy="10.7" r="4.8"/>
<circle class="p" cx="867.1" cy="10.7" r="4.8"/>
<circle class="p" cx="866.9" cy="10.7" r="4.8"/>
<circle class="p" cx="868.1" cy="10.7" r="4.8"/>
<circle class="p" cx="862.8" cy="10.7" r="4.8"/>
<circle class="p" cx="862.8" cy="10.7" r="4.8"/>
<circle class="p" cx="867.1" cy="10.7" r="4.8"/>
<line x1="889.8" y1="10.7" x2="902.2" y2="10.7" stroke="#000" stroke-width="1.35"/>
<line x1="889.8" y1="10.7" x2="902.2" y2="10.7" stroke="#000" stroke-width="1.35"/>
<rect x="883.6" y="10.7" width="24.8" height="0.0" fill="#f0cfaf" stroke="#000" stroke-width="1.35"/>
<line x1="883.6" y1="10.7" x2="908.4" y2="10.7" stroke="#000" stroke-width="1.35"/>
<circle class="p" cx="893.3" cy="10.7" r="4.8"/>
<circle class="p" cx="898.9" cy="10.7" r="4.8"/>
<circle class="p" cx="893.6" cy="10.7" r="4.8"/>
<circle class="p" cx="894.9" cy="10.7" r="4.8"/>
<circle class="p" cx="894.2" cy="10.7" r="4.8"/>
<circle class="p" cx="895.8" cy="10.7" r="4.8"/>
<circle class="p" cx="893.7" cy="10.7" r="4.8"/>
<circle class="p" cx="893.0" cy="10.7" r="4.8"/>
<circle class="p" cx="895.1" cy="10.7" r="4.8"/>
<circle class="p" cx="894.3" cy="10.7" r="4.8"/>
<circle class="p" cx="898.2" cy="10.7" r="4.8"/>
<circle class="p" cx="895.6" cy="10.7" r="4.8"/>
<circle class="p" cx="897.6" cy="10.7" r="4.8"/>
<circle class="p" cx="896.3" cy="10.7" r="4.8"/>
<circle class="p" cx="898.2" cy="10.7" r="4.8"/>
<circle class="p" cx="893.5" cy="10.7" r="4.8"/>
<circle class="p" cx="893.1" cy="10.7" r="4.8"/>
<circle class="p" cx="897.1" cy="10.7" r="4.8"/>
<circle class="p" cx="898.5" cy="10.7" r="4.8"/>
<circle class="p" cx="895.0" cy="10.7" r="4.8"/>
<circle class="p" cx="895.1" cy="10.7" r="4.8"/>
<circle class="p" cx="896.5" cy="10.7" r="4.8"/>
<circle class="p" cx="896.1" cy="12.2" r="4.8"/>
<circle class="p" cx="897.5" cy="11.8" r="4.8"/>
<line x1="920.2" y1="10.7" x2="932.6" y2="10.7" stroke="#000" stroke-width="1.35"/>
<line x1="920.2" y1="10.7" x2="932.6" y2="10.7" stroke="#000" stroke-width="1.35"/>
<rect x="914.0" y="10.7" width="24.8" height="0.0" fill="#f0cfaf" stroke="#000" stroke-width="1.35"/>
<line x1="914.0" y1="10.7" x2="938.8" y2="10.7" stroke="#000" stroke-width="1.35"/>
<circle class="p" cx="923.7" cy="10.7" r="4.8"/>
<circle class="p" cx="924.3" cy="10.7" r="4.8"/>
<circle class="p" cx="925.2" cy="10.7" r="4.8"/>
<circle class="p" cx="924.9" cy="10.7" r="4.8"/>
<circle class="p" cx="925.8" cy="10.7" r="4.8"/>
<circle class="p" cx="926.6" cy="10.7" r="4.8"/>
<circle class="p" cx="928.3" cy="10.7" r="4.8"/>
<circle class="p" cx="924.8" cy="10.7" r="4.8"/>
<circle class="p" cx="929.2" cy="10.7" r="4.8"/>
<circle class="p" cx="928.8" cy="10.7" r="4.8"/>
<circle class="p" cx="925.2" cy="10.7" r="4.8"/>
<circle class="p" cx="929.1" cy="10.7" r="4.8"/>
<circle class="p" cx="928.6" cy="10.7" r="4.8"/>
<circle class="p" cx="924.1" cy="10.7" r="4.8"/>
<circle class="p" cx="926.2" cy="10.7" r="4.8"/>
<circle class="p" cx="925.8" cy="10.7" r="4.8"/>
<circle class="p" cx="928.7" cy="10.7" r="4.8"/>
<circle class="p" cx="928.5" cy="10.7" r="4.8"/>
<circle class="p" cx="923.5" cy="10.7" r="4.8"/>
<circle class="p" cx="929.4" cy="10.7" r="4.8"/>
<circle class="p" cx="928.9" cy="10.7" r="4.8"/>
<circle class="p" cx="928.2" cy="10.7" r="4.8"/>
<circle class="p" cx="927.5" cy="10.7" r="4.8"/>
<circle class="p" cx="926.3" cy="10.7" r="4.8"/>
<circle class="p" cx="925.7" cy="10.7" r="4.8"/>
<circle class="p" cx="925.4" cy="10.7" r="4.8"/>
<circle class="p" cx="928.1" cy="10.7" r="4.8"/>
<circle class="p" cx="924.2" cy="10.7" r="4.8"/>
<circle class="p" cx="923.6" cy="10.7" r="4.8"/>
<circle class="p" cx="926.5" cy="10.7" r="4.8"/>
<circle class="p" cx="924.3" cy="10.7" r="4.8"/>
<circle class="p" cx="926.2" cy="10.7" r="4.8"/>
<circle class="p" cx="926.5" cy="10.7" r="4.8"/>
<circle class="p" cx="928.7" cy="10.7" r="4.8"/>
<circle class="p" cx="928.6" cy="10.7" r="4.8"/>
<circle class="p" cx="926.1" cy="10.7" r="4.8"/>
<circle class="p" cx="928.1" cy="10.7" r="4.8"/>
<circle class="p" cx="923.6" cy="10.7" r="4.8"/>
<circle class="p" cx="925.4" cy="10.7" r="4.8"/>
<circle class="p" cx="924.8" cy="10.7" r="4.8"/>
<circle class="p" cx="926.5" cy="10.7" r="4.8"/>
<circle class="p" cx="928.8" cy="10.7" r="4.8"/>
<circle class="p" cx="929.4" cy="10.7" r="4.8"/>
<circle class="p" cx="928.4" cy="10.7" r="4.8"/>
<circle class="p" cx="926.8" cy="10.7" r="4.8"/>
<circle class="p" cx="923.7" cy="10.7" r="4.8"/>
<circle class="p" cx="926.6" cy="10.7" r="4.8"/>
<line x1="950.7" y1="10.7" x2="963.1" y2="10.7" stroke="#000" stroke-width="1.35"/>
<line x1="950.7" y1="10.7" x2="963.1" y2="10.7" stroke="#000" stroke-width="1.35"/>
<rect x="944.5" y="10.7" width="24.8" height="0.0" fill="#f0cfaf" stroke="#000" stroke-width="1.35"/>
<line x1="944.5" y1="10.7" x2="969.3" y2="10.7" stroke="#000" stroke-width="1.35"/>
<circle class="p" cx="958.2" cy="10.7" r="4.8"/>
<circle class="p" cx="957.1" cy="10.7" r="4.8"/>
<circle class="p" cx="957.2" cy="10.7" r="4.8"/>
<line x1="981.1" y1="10.7" x2="993.5" y2="10.7" stroke="#000" stroke-width="1.35"/>
<line x1="981.1" y1="10.7" x2="993.5" y2="10.7" stroke="#000" stroke-width="1.35"/>
<rect x="974.9" y="10.7" width="24.8" height="0.0" fill="#f0cfaf" stroke="#000" stroke-width="1.35"/>
<line x1="974.9" y1="10.7" x2="999.7" y2="10.7" stroke="#000" stroke-width="1.35"/>
<circle class="p" cx="989.1" cy="10.7" r="4.8"/>
<circle class="p" cx="987.8" cy="10.7" r="4.8"/>
<circle class="p" cx="985.9" cy="10.7" r="4.8"/>
<circle class="p" cx="987.0" cy="10.7" r="4.8"/>
<circle class="p" cx="987.2" cy="10.7" r="4.8"/>
<circle class="p" cx="984.5" cy="10.7" r="4.8"/>
<circle class="p" cx="987.3" cy="10.7" r="4.8"/>
<circle class="p" cx="987.2" cy="10.7" r="4.8"/>
<circle class="p" cx="989.2" cy="10.7" r="4.8"/>
<circle class="p" cx="985.0" cy="10.7" r="4.8"/>
<circle class="p" cx="988.1" cy="10.7" r="4.8"/>
<circle class="p" cx="989.6" cy="10.7" r="4.8"/>
<circle class="p" cx="985.4" cy="10.7" r="4.8"/>
<circle class="p" cx="984.8" cy="10.7" r="4.8"/>
<circle class="p" cx="987.2" cy="10.7" r="4.8"/>
<circle class="p" cx="986.3" cy="10.7" r="4.8"/>
<circle class="p" cx="986.0" cy="10.7" r="4.8"/>
<circle class="p" cx="987.8" cy="10.7" r="4.8"/>
<circle class="p" cx="989.3" cy="10.7" r="4.8"/>
<circle class="p" cx="989.0" cy="10.7" r="4.8"/>
<circle class="p" cx="988.9" cy="10.7" r="4.8"/>
<circle class="p" cx="988.1" cy="10.7" r="4.8"/>
<circle class="p" cx="989.4" cy="10.7" r="4.8"/>
<circle class="p" cx="989.5" cy="10.7" r="4.8"/>
<circle class="p" cx="988.7" cy="10.7" r="4.8"/>
<circle class="p" cx="986.3" cy="10.7" r="4.8"/>
<circle class="p" cx="986.3" cy="10.7" r="4.8"/>
<circle class="p" cx="985.4" cy="10.7" r="4.8"/>
<circle class="p" cx="987.3" cy="11.7" r="4.8"/>
<circle class="p" cx="988.3" cy="12.6" r="4.8"/>
<circle class="p" cx="984.4" cy="16.4" r="4.8"/>
<circle class="p" cx="988.4" cy="18.9" r="4.8"/>
<circle class="p" cx="986.9" cy="27.8" r="4.8"/>
<line x1="1011.6" y1="10.7" x2="1024.0" y2="10.7" stroke="#000" stroke-width="1.35"/>
<line x1="1011.6" y1="10.7" x2="1024.0" y2="10.7" stroke="#000" stroke-width="1.35"/>
<rect x="1005.4" y="10.7" width="24.8" height="0.0" fill="#f0cfaf" stroke="#000" stroke-width="1.35"/>
<line x1="1005.4" y1="10.7" x2="1030.2" y2="10.7" stroke="#000" stroke-width="1.35"/>
<circle class="p" cx="1017.6" cy="10.7" r="4.8"/>
<circle class="p" cx="1017.3" cy="10.7" r="4.8"/>
<circle class="p" cx="1018.6" cy="10.7" r="4.8"/>
<circle class="p" cx="1018.2" cy="10.7" r="4.8"/>
<circle class="p" cx="1015.9" cy="10.7" r="4.8"/>
<circle class="p" cx="1016.6" cy="10.7" r="4.8"/>
<circle class="p" cx="1019.1" cy="10.7" r="4.8"/>
<circle class="p" cx="1018.9" cy="10.7" r="4.8"/>
<circle class="p" cx="1019.5" cy="10.7" r="4.8"/>
<circle class="p" cx="1020.3" cy="10.7" r="4.8"/>
<circle class="p" cx="1016.5" cy="10.7" r="4.8"/>
<circle class="p" cx="1018.0" cy="10.7" r="4.8"/>
<circle class="p" cx="1017.0" cy="10.7" r="4.8"/>
<line x1="1048.2" y1="10.7" x2="1048.2" y2="11.5" stroke="#000" stroke-width="1.35" stroke-dasharray="12 18"/>
<line x1="1048.2" y1="196.9" x2="1048.2" y2="115.0" stroke="#000" stroke-width="1.35" stroke-dasharray="12 18"/>
<line x1="1042.0" y1="10.7" x2="1054.4" y2="10.7" stroke="#000" stroke-width="1.35"/>
<line x1="1042.0" y1="196.9" x2="1054.4" y2="196.9" stroke="#000" stroke-width="1.35"/>
<rect x="1035.8" y="11.5" width="24.8" height="103.5" fill="#f0cfaf" stroke="#000" stroke-width="1.35"/>
<line x1="1035.8" y1="47.4" x2="1060.6" y2="47.4" stroke="#000" stroke-width="1.35"/>
<circle class="p" cx="1048.2" cy="10.7" r="4.8"/>
<circle class="p" cx="1046.4" cy="10.7" r="4.8"/>
<circle class="p" cx="1046.0" cy="10.7" r="4.8"/>
<circle class="p" cx="1046.0" cy="10.7" r="4.8"/>
<circle class="p" cx="1051.1" cy="10.7" r="4.8"/>
<circle class="p" cx="1046.3" cy="10.7" r="4.8"/>
<circle class="p" cx="1048.7" cy="10.7" r="4.8"/>
<circle class="p" cx="1049.8" cy="10.7" r="4.8"/>
<circle class="p" cx="1051.2" cy="10.7" r="4.8"/>
<circle class="p" cx="1049.6" cy="10.7" r="4.8"/>
<circle class="p" cx="1050.3" cy="10.7" r="4.8"/>
<circle class="p" cx="1046.9" cy="10.7" r="4.8"/>
<circle class="p" cx="1047.8" cy="10.7" r="4.8"/>
<circle class="p" cx="1048.6" cy="10.7" r="4.8"/>
<circle class="p" cx="1045.3" cy="10.7" r="4.8"/>
<circle class="p" cx="1048.5" cy="10.7" r="4.8"/>
<circle class="p" cx="1049.8" cy="10.7" r="4.8"/>
<circle class="p" cx="1047.5" cy="10.7" r="4.8"/>
<circle class="p" cx="1046.9" cy="10.7" r="4.8"/>
<circle class="p" cx="1047.0" cy="10.7" r="4.8"/>
<circle class="p" cx="1046.6" cy="10.7" r="4.8"/>
<circle class="p" cx="1051.2" cy="10.7" r="4.8"/>
<circle class="p" cx="1046.5" cy="10.7" r="4.8"/>
<circle class="p" cx="1048.5" cy="10.7" r="4.8"/>
<circle class="p" cx="1048.2" cy="10.7" r="4.8"/>
<circle class="p" cx="1049.7" cy="10.7" r="4.8"/>
<circle class="p" cx="1045.4" cy="10.7" r="4.8"/>
<circle class="p" cx="1051.1" cy="10.7" r="4.8"/>
<circle class="p" cx="1047.8" cy="10.7" r="4.8"/>
<circle class="p" cx="1050.4" cy="10.7" r="4.8"/>
<circle class="p" cx="1046.3" cy="11.3" r="4.8"/>
<circle class="p" cx="1047.1" cy="11.0" r="4.8"/>
<circle class="p" cx="1050.2" cy="11.9" r="4.8"/>
<circle class="p" cx="1051.0" cy="10.8" r="4.8"/>
<circle class="p" cx="1048.5" cy="11.7" r="4.8"/>
<circle class="p" cx="1046.2" cy="11.4" r="4.8"/>
<circle class="p" cx="1050.0" cy="10.8" r="4.8"/>
<circle class="p" cx="1048.4" cy="11.7" r="4.8"/>
<circle class="p" cx="1046.5" cy="10.8" r="4.8"/>
<circle class="p" cx="1046.8" cy="11.5" r="4.8"/>
<circle class="p" cx="1045.5" cy="10.8" r="4.8"/>
<circle class="p" cx="1046.3" cy="10.9" r="4.8"/>
<circle class="p" cx="1047.5" cy="11.5" r="4.8"/>
<circle class="p" cx="1049.4" cy="12.3" r="4.8"/>
<circle class="p" cx="1048.2" cy="10.9" r="4.8"/>
<circle class="p" cx="1048.5" cy="29.8" r="4.8"/>
<circle class="p" cx="1050.7" cy="28.7" r="4.8"/>
<circle class="p" cx="1047.7" cy="27.7" r="4.8"/>
<circle class="p" cx="1050.0" cy="27.0" r="4.8"/>
<circle class="p" cx="1047.6" cy="26.2" r="4.8"/>
<circle class="p" cx="1051.1" cy="24.9" r="4.8"/>
<circle class="p" cx="1049.5" cy="24.5" r="4.8"/>
<circle class="p" cx="1051.2" cy="23.2" r="4.8"/>
<circle class="p" cx="1050.1" cy="22.6" r="4.8"/>
<circle class="p" cx="1045.7" cy="21.8" r="4.8"/>
<circle class="p" cx="1046.4" cy="20.9" r="4.8"/>
<circle class="p" cx="1046.6" cy="19.9" r="4.8"/>
<circle class="p" cx="1045.4" cy="18.7" r="4.8"/>
<circle class="p" cx="1050.2" cy="18.2" r="4.8"/>
<circle class="p" cx="1048.3" cy="17.1" r="4.8"/>
<circle class="p" cx="1050.6" cy="16.1" r="4.8"/>
<circle class="p" cx="1046.3" cy="15.4" r="4.8"/>
<circle class="p" cx="1049.1" cy="14.4" r="4.8"/>
<circle class="p" cx="1050.9" cy="13.7" r="4.8"/>
<circle class="p" cx="1047.6" cy="12.8" r="4.8"/>
<circle class="p" cx="1047.9" cy="48.9" r="4.8"/>
<circle class="p" cx="1048.0" cy="47.2" r="4.8"/>
<circle class="p" cx="1049.9" cy="46.0" r="4.8"/>
<circle class="p" cx="1046.0" cy="44.8" r="4.8"/>
<circle class="p" cx="1047.6" cy="43.2" r="4.8"/>
<circle class="p" cx="1051.2" cy="42.0" r="4.8"/>
<circle class="p" cx="1050.0" cy="40.7" r="4.8"/>
<circle class="p" cx="1050.3" cy="39.0" r="4.8"/>
<circle class="p" cx="1047.9" cy="37.7" r="4.8"/>
<circle class="p" cx="1045.6" cy="36.7" r="4.8"/>
<circle class="p" cx="1051.2" cy="35.1" r="4.8"/>
<circle class="p" cx="1047.0" cy="33.8" r="4.8"/>
<circle class="p" cx="1049.7" cy="32.1" r="4.8"/>
<circle class="p" cx="1048.2" cy="30.9" r="4.8"/>
<circle class="p" cx="1048.9" cy="29.9" r="4.8"/>
<circle class="p" cx="1046.5" cy="86.2" r="4.8"/>
<circle class="p" cx="1051.1" cy="85.3" r="4.8"/>
<circle class="p" cx="1049.9" cy="83.2" r="4.8"/>
<circle class="p" cx="1045.9" cy="81.0" r="4.8"/>
<circle class="p" cx="1050.1" cy="79.8" r="4.8"/>
<circle class="p" cx="1049.6" cy="77.7" r="4.8"/>
<circle class="p" cx="1049.6" cy="76.3" r="4.8"/>
<circle class="p" cx="1045.9" cy="73.9" r="4.8"/>
<circle class="p" cx="1049.6" cy="71.9" r="4.8"/>
<circle class="p" cx="1050.5" cy="70.3" r="4.8"/>
<circle class="p" cx="1048.8" cy="68.2" r="4.8"/>
<circle class="p" cx="1046.2" cy="67.0" r="4.8"/>
<circle class="p" cx="1048.8" cy="64.8" r="4.8"/>
<circle class="p" cx="1048.3" cy="63.1" r="4.8"/>
<circle class="p" cx="1050.8" cy="61.3" r="4.8"/>
<circle class="p" cx="1045.3" cy="59.6" r="4.8"/>
<circle class="p" cx="1045.3" cy="57.4" r="4.8"/>
<circle class="p" cx="1050.7" cy="55.5" r="4.8"/>
<circle class="p" cx="1049.8" cy="54.2" r="4.8"/>
<circle class="p" cx="1050.4" cy="52.1" r="4.8"/>
<circle class="p" cx="1047.3" cy="51.0" r="4.8"/>
<circle class="p" cx="1047.0" cy="48.5" r="4.8"/>
<circle class="p" cx="1045.3" cy="115.0" r="4.8"/>
<circle class="p" cx="1048.8" cy="112.4" r="4.8"/>
<circle class="p" cx="1050.9" cy="110.4" r="4.8"/>
<circle class="p" cx="1050.4" cy="108.9" r="4.8"/>
<circle class="p" cx="1048.8" cy="106.6" r="4.8"/>
<circle class="p" cx="1048.1" cy="104.0" r="4.8"/>
<circle class="p" cx="1046.7" cy="102.7" r="4.8"/>
<circle class="p" cx="1046.6" cy="99.9" r="4.8"/>
<circle class="p" cx="1046.2" cy="98.1" r="4.8"/>
<circle class="p" cx="1050.7" cy="96.0" r="4.8"/>
<circle class="p" cx="1050.6" cy="93.9" r="4.8"/>
<circle class="p" cx="1050.8" cy="90.7" r="4.8"/>
<circle class="p" cx="1050.6" cy="89.4" r="4.8"/>
<circle class="p" cx="1045.6" cy="87.0" r="4.8"/>
<circle class="p" cx="1049.3" cy="156.2" r="4.8"/>
<circle class="p" cx="1048.7" cy="153.1" r="4.8"/>
<circle class="p" cx="1050.4" cy="151.8" r="4.8"/>
<circle class="p" cx="1048.9" cy="148.9" r="4.8"/>
<circle class="p" cx="1047.8" cy="146.4" r="4.8"/>
<circle class="p" cx="1046.8" cy="143.5" r="4.8"/>
<circle class="p" cx="1046.9" cy="141.2" r="4.8"/>
<circle class="p" cx="1050.9" cy="138.7" r="4.8"/>
<circle class="p" cx="1048.8" cy="137.1" r="4.8"/>
<circle class="p" cx="1049.8" cy="134.5" r="4.8"/>
<circle class="p" cx="1045.7" cy="132.2" r="4.8"/>
<circle class="p" cx="1048.6" cy="129.1" r="4.8"/>
<circle class="p" cx="1048.2" cy="126.6" r="4.8"/>
<circle class="p" cx="1050.8" cy="125.3" r="4.8"/>
<circle class="p" cx="1048.5" cy="122.9" r="4.8"/>
<circle class="p" cx="1050.5" cy="120.4" r="4.8"/>
<circle class="p" cx="1045.3" cy="118.0" r="4.8"/>
<circle class="p" cx="1048.2" cy="115.2" r="4.8"/>
<circle class="p" cx="1049.9" cy="199.7" r="4.8"/>
<circle class="p" cx="1045.4" cy="198.5" r="4.8"/>
<circle class="p" cx="1049.8" cy="197.2" r="4.8"/>
<circle class="p" cx="1049.2" cy="195.3" r="4.8"/>
<circle class="p" cx="1049.9" cy="193.9" r="4.8"/>
<circle class="p" cx="1048.1" cy="192.2" r="4.8"/>
<circle class="p" cx="1046.0" cy="190.3" r="4.8"/>
<circle class="p" cx="1045.5" cy="189.1" r="4.8"/>
<circle class="p" cx="1048.2" cy="187.7" r="4.8"/>
<circle class="p" cx="1050.2" cy="186.1" r="4.8"/>
<circle class="p" cx="1047.7" cy="184.6" r="4.8"/>
<circle class="p" cx="1045.5" cy="183.6" r="4.8"/>
<circle class="p" cx="1049.7" cy="181.4" r="4.8"/>
<circle class="p" cx="1050.1" cy="180.0" r="4.8"/>
<circle class="p" cx="1045.3" cy="178.4" r="4.8"/>
<circle class="p" cx="1048.3" cy="177.0" r="4.8"/>
<circle class="p" cx="1050.4" cy="175.8" r="4.8"/>
<circle class="p" cx="1045.9" cy="174.3" r="4.8"/>
<circle class="p" cx="1047.3" cy="173.1" r="4.8"/>
<circle class="p" cx="1050.6" cy="171.1" r="4.8"/>
<circle class="p" cx="1046.0" cy="170.1" r="4.8"/>
<rect x="113.5" y="3.1" width="986.5" height="205.2" fill="none" stroke="#000" stroke-width="1.35"/>
<line x1="94.5" y1="200.7" x2="113.5" y2="200.7" stroke="#000" stroke-width="1.35"/>
<text transform="translate(78.8,212.0) scale(1,1.06)" text-anchor="end" class="t">0</text>
<line x1="94.5" y1="162.7" x2="113.5" y2="162.7" stroke="#000" stroke-width="1.35"/>
<text transform="translate(78.8,174.0) scale(1,1.06)" text-anchor="end" class="t">20</text>
<line x1="94.5" y1="124.7" x2="113.5" y2="124.7" stroke="#000" stroke-width="1.35"/>
<text transform="translate(78.8,136.0) scale(1,1.06)" text-anchor="end" class="t">40</text>
<line x1="94.5" y1="86.7" x2="113.5" y2="86.7" stroke="#000" stroke-width="1.35"/>
<text transform="translate(78.8,98.0) scale(1,1.06)" text-anchor="end" class="t">60</text>
<line x1="94.5" y1="48.7" x2="113.5" y2="48.7" stroke="#000" stroke-width="1.35"/>
<text transform="translate(78.8,60.0) scale(1,1.06)" text-anchor="end" class="t">80</text>
<line x1="94.5" y1="10.7" x2="113.5" y2="10.7" stroke="#000" stroke-width="1.35"/>
<text transform="translate(78.8,22.0) scale(1,1.06)" text-anchor="end" class="t">100</text>
<line x1="165.3" y1="208.3" x2="165.3" y2="227.3" stroke="#000" stroke-width="1.35"/>
<text transform="translate(177.9,228.2) rotate(-90) scale(1,1.06)" text-anchor="end" class="t c">20</text>
<line x1="195.7" y1="208.3" x2="195.7" y2="227.3" stroke="#000" stroke-width="1.35"/>
<text transform="translate(208.3,228.2) rotate(-90) scale(1,1.06)" text-anchor="end" class="t c">17</text>
<line x1="226.2" y1="208.3" x2="226.2" y2="227.3" stroke="#000" stroke-width="1.35"/>
<text transform="translate(238.7,228.2) rotate(-90) scale(1,1.06)" text-anchor="end" class="t c">12</text>
<line x1="256.6" y1="208.3" x2="256.6" y2="227.3" stroke="#000" stroke-width="1.35"/>
<text transform="translate(269.1,228.2) rotate(-90) scale(1,1.06)" text-anchor="end" class="t c">35</text>
<line x1="287.1" y1="208.3" x2="287.1" y2="227.3" stroke="#000" stroke-width="1.35"/>
<text transform="translate(299.5,228.2) rotate(-90) scale(1,1.06)" text-anchor="end" class="t c">9</text>
<line x1="317.5" y1="208.3" x2="317.5" y2="227.3" stroke="#000" stroke-width="1.35"/>
<text transform="translate(329.9,228.2) rotate(-90) scale(1,1.06)" text-anchor="end" class="t c">25</text>
<line x1="347.9" y1="208.3" x2="347.9" y2="227.3" stroke="#000" stroke-width="1.35"/>
<text transform="translate(360.3,228.2) rotate(-90) scale(1,1.06)" text-anchor="end" class="t c">2</text>
<line x1="378.4" y1="208.3" x2="378.4" y2="227.3" stroke="#000" stroke-width="1.35"/>
<text transform="translate(390.7,228.2) rotate(-90) scale(1,1.06)" text-anchor="end" class="t c">1</text>
<line x1="408.8" y1="208.3" x2="408.8" y2="227.3" stroke="#000" stroke-width="1.35"/>
<text transform="translate(421.1,228.2) rotate(-90) scale(1,1.06)" text-anchor="end" class="t c">2</text>
<line x1="439.3" y1="208.3" x2="439.3" y2="227.3" stroke="#000" stroke-width="1.35"/>
<text transform="translate(451.5,228.2) rotate(-90) scale(1,1.06)" text-anchor="end" class="t c">2</text>
<line x1="469.7" y1="208.3" x2="469.7" y2="227.3" stroke="#000" stroke-width="1.35"/>
<text transform="translate(481.9,228.2) rotate(-90) scale(1,1.06)" text-anchor="end" class="t c">10</text>
<line x1="500.2" y1="208.3" x2="500.2" y2="227.3" stroke="#000" stroke-width="1.35"/>
<text transform="translate(512.3,228.2) rotate(-90) scale(1,1.06)" text-anchor="end" class="t c">8</text>
<line x1="530.6" y1="208.3" x2="530.6" y2="227.3" stroke="#000" stroke-width="1.35"/>
<text transform="translate(542.7,228.2) rotate(-90) scale(1,1.06)" text-anchor="end" class="t c">4</text>
<line x1="561.1" y1="208.3" x2="561.1" y2="227.3" stroke="#000" stroke-width="1.35"/>
<text transform="translate(573.1,228.2) rotate(-90) scale(1,1.06)" text-anchor="end" class="t c">32</text>
<line x1="591.5" y1="208.3" x2="591.5" y2="227.3" stroke="#000" stroke-width="1.35"/>
<text transform="translate(603.5,228.2) rotate(-90) scale(1,1.06)" text-anchor="end" class="t c">31</text>
<line x1="622.0" y1="208.3" x2="622.0" y2="227.3" stroke="#000" stroke-width="1.35"/>
<text transform="translate(633.9,228.2) rotate(-90) scale(1,1.06)" text-anchor="end" class="t c">4</text>
<line x1="652.4" y1="208.3" x2="652.4" y2="227.3" stroke="#000" stroke-width="1.35"/>
<text transform="translate(664.3,228.2) rotate(-90) scale(1,1.06)" text-anchor="end" class="t c">8</text>
<line x1="682.9" y1="208.3" x2="682.9" y2="227.3" stroke="#000" stroke-width="1.35"/>
<text transform="translate(694.7,228.2) rotate(-90) scale(1,1.06)" text-anchor="end" class="t c">7</text>
<line x1="713.3" y1="208.3" x2="713.3" y2="227.3" stroke="#000" stroke-width="1.35"/>
<text transform="translate(725.1,228.2) rotate(-90) scale(1,1.06)" text-anchor="end" class="t c">71</text>
<line x1="743.8" y1="208.3" x2="743.8" y2="227.3" stroke="#000" stroke-width="1.35"/>
<text transform="translate(755.5,228.2) rotate(-90) scale(1,1.06)" text-anchor="end" class="t c">15</text>
<line x1="774.2" y1="208.3" x2="774.2" y2="227.3" stroke="#000" stroke-width="1.35"/>
<text transform="translate(785.9,228.2) rotate(-90) scale(1,1.06)" text-anchor="end" class="t c">13</text>
<line x1="804.7" y1="208.3" x2="804.7" y2="227.3" stroke="#000" stroke-width="1.35"/>
<text transform="translate(816.3,228.2) rotate(-90) scale(1,1.06)" text-anchor="end" class="t c">13</text>
<line x1="835.1" y1="208.3" x2="835.1" y2="227.3" stroke="#000" stroke-width="1.35"/>
<text transform="translate(846.7,228.2) rotate(-90) scale(1,1.06)" text-anchor="end" class="t c">75</text>
<line x1="865.6" y1="208.3" x2="865.6" y2="227.3" stroke="#000" stroke-width="1.35"/>
<text transform="translate(877.1,228.2) rotate(-90) scale(1,1.06)" text-anchor="end" class="t c">11</text>
<line x1="896.0" y1="208.3" x2="896.0" y2="227.3" stroke="#000" stroke-width="1.35"/>
<text transform="translate(907.5,228.2) rotate(-90) scale(1,1.06)" text-anchor="end" class="t c">24</text>
<line x1="926.4" y1="208.3" x2="926.4" y2="227.3" stroke="#000" stroke-width="1.35"/>
<text transform="translate(937.9,228.2) rotate(-90) scale(1,1.06)" text-anchor="end" class="t c">47</text>
<line x1="956.9" y1="208.3" x2="956.9" y2="227.3" stroke="#000" stroke-width="1.35"/>
<text transform="translate(968.3,228.2) rotate(-90) scale(1,1.06)" text-anchor="end" class="t c">3</text>
<line x1="987.3" y1="208.3" x2="987.3" y2="227.3" stroke="#000" stroke-width="1.35"/>
<text transform="translate(998.7,228.2) rotate(-90) scale(1,1.06)" text-anchor="end" class="t c">33</text>
<line x1="1017.8" y1="208.3" x2="1017.8" y2="227.3" stroke="#000" stroke-width="1.35"/>
<text transform="translate(1029.1,228.2) rotate(-90) scale(1,1.06)" text-anchor="end" class="t c">13</text>
<line x1="1048.2" y1="208.3" x2="1048.2" y2="227.3" stroke="#000" stroke-width="1.35"/>
<text transform="translate(1059.5,228.2) rotate(-90) scale(1,1.06)" text-anchor="end" class="t c">245</text>
<text transform="translate(1113,70.6) scale(1,1.06)" class="t" style="font-style:italic;fill:#38383b">NTS1</text>
<text transform="translate(1113,106.6) scale(1,1.06)" class="t">C2227T</text>
<text transform="translate(1113,142.6) scale(1,1.06)" class="t">n = 792</text>
<line x1="159.1" y1="301.3" x2="171.5" y2="301.3" stroke="#000" stroke-width="1.35"/>
<line x1="159.1" y1="301.3" x2="171.5" y2="301.3" stroke="#000" stroke-width="1.35"/>
<rect x="152.9" y="301.3" width="24.8" height="0.0" fill="#f0cfaf" stroke="#000" stroke-width="1.35"/>
<line x1="152.9" y1="301.3" x2="177.7" y2="301.3" stroke="#000" stroke-width="1.35"/>
<circle class="p" cx="167.0" cy="301.3" r="4.8"/>
<circle class="p" cx="162.6" cy="301.3" r="4.8"/>
<circle class="p" cx="166.8" cy="301.3" r="4.8"/>
<circle class="p" cx="167.4" cy="301.3" r="4.8"/>
<circle class="p" cx="162.8" cy="301.3" r="4.8"/>
<circle class="p" cx="167.7" cy="301.3" r="4.8"/>
<circle class="p" cx="167.0" cy="301.3" r="4.8"/>
<circle class="p" cx="164.7" cy="301.3" r="4.8"/>
<circle class="p" cx="164.5" cy="301.3" r="4.8"/>
<circle class="p" cx="166.2" cy="301.3" r="4.8"/>
<circle class="p" cx="164.7" cy="301.3" r="4.8"/>
<circle class="p" cx="165.7" cy="301.3" r="4.8"/>
<circle class="p" cx="165.9" cy="301.3" r="4.8"/>
<circle class="p" cx="162.6" cy="301.3" r="4.8"/>
<circle class="p" cx="166.7" cy="301.3" r="4.8"/>
<circle class="p" cx="166.5" cy="301.3" r="4.8"/>
<circle class="p" cx="167.8" cy="301.3" r="4.8"/>
<circle class="p" cx="166.6" cy="301.3" r="4.8"/>
<circle class="p" cx="166.2" cy="301.3" r="4.8"/>
<circle class="p" cx="166.7" cy="301.3" r="4.8"/>
<line x1="189.5" y1="301.3" x2="201.9" y2="301.3" stroke="#000" stroke-width="1.35"/>
<line x1="189.5" y1="301.3" x2="201.9" y2="301.3" stroke="#000" stroke-width="1.35"/>
<rect x="183.3" y="301.3" width="24.8" height="0.0" fill="#f0cfaf" stroke="#000" stroke-width="1.35"/>
<line x1="183.3" y1="301.3" x2="208.1" y2="301.3" stroke="#000" stroke-width="1.35"/>
<circle class="p" cx="193.8" cy="301.3" r="4.8"/>
<circle class="p" cx="195.7" cy="301.3" r="4.8"/>
<circle class="p" cx="198.1" cy="301.3" r="4.8"/>
<circle class="p" cx="198.3" cy="301.3" r="4.8"/>
<circle class="p" cx="192.8" cy="301.3" r="4.8"/>
<circle class="p" cx="198.0" cy="301.3" r="4.8"/>
<circle class="p" cx="196.5" cy="301.3" r="4.8"/>
<circle class="p" cx="195.1" cy="301.3" r="4.8"/>
<circle class="p" cx="193.5" cy="301.3" r="4.8"/>
<circle class="p" cx="197.9" cy="301.3" r="4.8"/>
<circle class="p" cx="194.2" cy="301.3" r="4.8"/>
<circle class="p" cx="196.3" cy="301.3" r="4.8"/>
<circle class="p" cx="193.2" cy="301.3" r="4.8"/>
<circle class="p" cx="196.0" cy="301.3" r="4.8"/>
<circle class="p" cx="195.1" cy="301.3" r="4.8"/>
<circle class="p" cx="194.5" cy="301.3" r="4.8"/>
<circle class="p" cx="193.7" cy="301.3" r="4.8"/>
<line x1="220.0" y1="301.3" x2="232.4" y2="301.3" stroke="#000" stroke-width="1.35"/>
<line x1="220.0" y1="301.3" x2="232.4" y2="301.3" stroke="#000" stroke-width="1.35"/>
<rect x="213.8" y="301.3" width="24.8" height="0.0" fill="#f0cfaf" stroke="#000" stroke-width="1.35"/>
<line x1="213.8" y1="301.3" x2="238.6" y2="301.3" stroke="#000" stroke-width="1.35"/>
<circle class="p" cx="223.4" cy="301.3" r="4.8"/>
<circle class="p" cx="228.4" cy="301.3" r="4.8"/>
<circle class="p" cx="226.8" cy="301.3" r="4.8"/>
<circle class="p" cx="223.2" cy="301.3" r="4.8"/>
<circle class="p" cx="226.6" cy="301.3" r="4.8"/>
<circle class="p" cx="227.8" cy="301.3" r="4.8"/>
<circle class="p" cx="224.4" cy="301.3" r="4.8"/>
<circle class="p" cx="228.7" cy="301.3" r="4.8"/>
<circle class="p" cx="228.2" cy="301.3" r="4.8"/>
<circle class="p" cx="226.4" cy="301.3" r="4.8"/>
<circle class="p" cx="229.1" cy="301.3" r="4.8"/>
<circle class="p" cx="224.5" cy="301.3" r="4.8"/>
<circle class="p" cx="223.4" cy="301.3" r="4.8"/>
<circle class="p" cx="225.4" cy="301.3" r="4.8"/>
<line x1="250.4" y1="301.3" x2="262.8" y2="301.3" stroke="#000" stroke-width="1.35"/>
<line x1="250.4" y1="301.3" x2="262.8" y2="301.3" stroke="#000" stroke-width="1.35"/>
<rect x="244.2" y="301.3" width="24.8" height="0.0" fill="#f0cfaf" stroke="#000" stroke-width="1.35"/>
<line x1="244.2" y1="301.3" x2="269.0" y2="301.3" stroke="#000" stroke-width="1.35"/>
<circle class="p" cx="254.7" cy="301.3" r="4.8"/>
<circle class="p" cx="259.3" cy="301.3" r="4.8"/>
<circle class="p" cx="254.3" cy="301.3" r="4.8"/>
<circle class="p" cx="255.7" cy="301.3" r="4.8"/>
<circle class="p" cx="258.8" cy="301.3" r="4.8"/>
<circle class="p" cx="253.9" cy="301.3" r="4.8"/>
<circle class="p" cx="254.1" cy="301.3" r="4.8"/>
<circle class="p" cx="256.7" cy="301.3" r="4.8"/>
<circle class="p" cx="255.8" cy="301.3" r="4.8"/>
<circle class="p" cx="253.7" cy="301.3" r="4.8"/>
<circle class="p" cx="257.6" cy="301.3" r="4.8"/>
<circle class="p" cx="258.7" cy="301.3" r="4.8"/>
<circle class="p" cx="253.9" cy="301.3" r="4.8"/>
<circle class="p" cx="254.4" cy="301.3" r="4.8"/>
<circle class="p" cx="254.3" cy="301.3" r="4.8"/>
<circle class="p" cx="256.5" cy="301.3" r="4.8"/>
<circle class="p" cx="257.5" cy="301.3" r="4.8"/>
<circle class="p" cx="255.2" cy="301.3" r="4.8"/>
<circle class="p" cx="258.6" cy="301.3" r="4.8"/>
<circle class="p" cx="254.2" cy="301.3" r="4.8"/>
<circle class="p" cx="259.0" cy="301.3" r="4.8"/>
<circle class="p" cx="254.9" cy="301.3" r="4.8"/>
<circle class="p" cx="254.3" cy="301.3" r="4.8"/>
<circle class="p" cx="254.8" cy="301.3" r="4.8"/>
<circle class="p" cx="256.9" cy="301.3" r="4.8"/>
<circle class="p" cx="259.0" cy="301.3" r="4.8"/>
<circle class="p" cx="254.3" cy="301.3" r="4.8"/>
<circle class="p" cx="257.3" cy="301.3" r="4.8"/>
<circle class="p" cx="256.8" cy="301.3" r="4.8"/>
<circle class="p" cx="256.5" cy="301.3" r="4.8"/>
<circle class="p" cx="258.3" cy="301.3" r="4.8"/>
<circle class="p" cx="255.1" cy="301.3" r="4.8"/>
<circle class="p" cx="259.0" cy="301.3" r="4.8"/>
<circle class="p" cx="255.6" cy="301.3" r="4.8"/>
<circle class="p" cx="255.9" cy="301.3" r="4.8"/>
<line x1="280.9" y1="301.3" x2="293.3" y2="301.3" stroke="#000" stroke-width="1.35"/>
<line x1="280.9" y1="301.3" x2="293.3" y2="301.3" stroke="#000" stroke-width="1.35"/>
<rect x="274.7" y="301.3" width="24.8" height="0.0" fill="#f0cfaf" stroke="#000" stroke-width="1.35"/>
<line x1="274.7" y1="301.3" x2="299.5" y2="301.3" stroke="#000" stroke-width="1.35"/>
<circle class="p" cx="287.1" cy="301.3" r="4.8"/>
<circle class="p" cx="287.3" cy="301.3" r="4.8"/>
<circle class="p" cx="288.3" cy="301.3" r="4.8"/>
<circle class="p" cx="289.0" cy="301.3" r="4.8"/>
<circle class="p" cx="289.5" cy="301.3" r="4.8"/>
<circle class="p" cx="284.8" cy="301.3" r="4.8"/>
<circle class="p" cx="285.2" cy="301.3" r="4.8"/>
<circle class="p" cx="288.7" cy="301.3" r="4.8"/>
<circle class="p" cx="288.8" cy="301.3" r="4.8"/>
<line x1="317.5" y1="301.3" x2="317.5" y2="310.6" stroke="#000" stroke-width="1.35" stroke-dasharray="12 18"/>
<line x1="317.5" y1="481.6" x2="317.5" y2="410.2" stroke="#000" stroke-width="1.35" stroke-dasharray="12 18"/>
<line x1="311.3" y1="301.3" x2="323.7" y2="301.3" stroke="#000" stroke-width="1.35"/>
<line x1="311.3" y1="481.6" x2="323.7" y2="481.6" stroke="#000" stroke-width="1.35"/>
<rect x="305.1" y="310.6" width="24.8" height="99.6" fill="#f0cfaf" stroke="#000" stroke-width="1.35"/>
<line x1="305.1" y1="384.7" x2="329.9" y2="384.7" stroke="#000" stroke-width="1.35"/>
<circle class="p" cx="316.0" cy="301.3" r="4.8"/>
<circle class="p" cx="319.8" cy="301.3" r="4.8"/>
<circle class="p" cx="319.7" cy="301.3" r="4.8"/>
<circle class="p" cx="314.9" cy="301.3" r="4.8"/>
<circle class="p" cx="315.2" cy="301.3" r="4.8"/>
<circle class="p" cx="315.1" cy="301.3" r="4.8"/>
<circle class="p" cx="319.7" cy="308.0" r="4.8"/>
<circle class="p" cx="319.7" cy="311.4" r="4.8"/>
<circle class="p" cx="316.0" cy="325.1" r="4.8"/>
<circle class="p" cx="319.8" cy="331.7" r="4.8"/>
<circle class="p" cx="315.7" cy="330.8" r="4.8"/>
<circle class="p" cx="317.3" cy="349.8" r="4.8"/>
<circle class="p" cx="317.7" cy="365.9" r="4.8"/>
<circle class="p" cx="318.0" cy="366.9" r="4.8"/>
<circle class="p" cx="315.2" cy="377.3" r="4.8"/>
<circle class="p" cx="314.9" cy="382.4" r="4.8"/>
<circle class="p" cx="319.8" cy="386.8" r="4.8"/>
<circle class="p" cx="319.2" cy="390.6" r="4.8"/>
<circle class="p" cx="317.5" cy="395.9" r="4.8"/>
<circle class="p" cx="318.5" cy="399.3" r="4.8"/>
<circle class="p" cx="319.3" cy="401.1" r="4.8"/>
<circle class="p" cx="314.9" cy="405.0" r="4.8"/>
<circle class="p" cx="315.9" cy="407.7" r="4.8"/>
<circle class="p" cx="318.8" cy="409.6" r="4.8"/>
<circle class="p" cx="318.4" cy="415.3" r="4.8"/>
<circle class="p" cx="317.2" cy="416.2" r="4.8"/>
<circle class="p" cx="315.3" cy="417.4" r="4.8"/>
<circle class="p" cx="314.9" cy="419.1" r="4.8"/>
<circle class="p" cx="316.2" cy="430.5" r="4.8"/>
<circle class="p" cx="318.2" cy="430.9" r="4.8"/>
<circle class="p" cx="317.2" cy="434.3" r="4.8"/>
<circle class="p" cx="318.3" cy="438.9" r="4.8"/>
<circle class="p" cx="320.1" cy="373.5" r="4.8"/>
<circle class="p" cx="317.4" cy="481.6" r="4.8"/>
<line x1="341.7" y1="301.3" x2="354.1" y2="301.3" stroke="#000" stroke-width="1.35"/>
<line x1="341.7" y1="301.3" x2="354.1" y2="301.3" stroke="#000" stroke-width="1.35"/>
<rect x="335.5" y="301.3" width="24.8" height="0.0" fill="#f0cfaf" stroke="#000" stroke-width="1.35"/>
<line x1="335.5" y1="301.3" x2="360.3" y2="301.3" stroke="#000" stroke-width="1.35"/>
<circle class="p" cx="346.5" cy="301.3" r="4.8"/>
<circle class="p" cx="350.3" cy="301.3" r="4.8"/>
<line x1="372.2" y1="301.3" x2="384.6" y2="301.3" stroke="#000" stroke-width="1.35"/>
<line x1="372.2" y1="301.3" x2="384.6" y2="301.3" stroke="#000" stroke-width="1.35"/>
<rect x="366.0" y="301.3" width="24.8" height="0.0" fill="#f0cfaf" stroke="#000" stroke-width="1.35"/>
<line x1="366.0" y1="301.3" x2="390.8" y2="301.3" stroke="#000" stroke-width="1.35"/>
<circle class="p" cx="381.2" cy="301.3" r="4.8"/>
<line x1="402.6" y1="301.3" x2="415.0" y2="301.3" stroke="#000" stroke-width="1.35"/>
<line x1="402.6" y1="301.3" x2="415.0" y2="301.3" stroke="#000" stroke-width="1.35"/>
<rect x="396.4" y="301.3" width="24.8" height="0.0" fill="#f0cfaf" stroke="#000" stroke-width="1.35"/>
<line x1="396.4" y1="301.3" x2="421.2" y2="301.3" stroke="#000" stroke-width="1.35"/>
<circle class="p" cx="408.6" cy="301.3" r="4.8"/>
<circle class="p" cx="411.3" cy="301.3" r="4.8"/>
<line x1="433.1" y1="301.3" x2="445.5" y2="301.3" stroke="#000" stroke-width="1.35"/>
<line x1="433.1" y1="306.1" x2="445.5" y2="306.1" stroke="#000" stroke-width="1.35"/>
<rect x="426.9" y="301.3" width="24.8" height="4.8" fill="#f0cfaf" stroke="#000" stroke-width="1.35"/>
<line x1="426.9" y1="303.8" x2="451.7" y2="303.8" stroke="#000" stroke-width="1.35"/>
<circle class="p" cx="438.9" cy="301.3" r="4.8"/>
<circle class="p" cx="437.0" cy="306.1" r="4.8"/>
<line x1="463.5" y1="301.3" x2="475.9" y2="301.3" stroke="#000" stroke-width="1.35"/>
<line x1="463.5" y1="301.3" x2="475.9" y2="301.3" stroke="#000" stroke-width="1.35"/>
<rect x="457.3" y="301.3" width="24.8" height="0.0" fill="#f0cfaf" stroke="#000" stroke-width="1.35"/>
<line x1="457.3" y1="301.3" x2="482.1" y2="301.3" stroke="#000" stroke-width="1.35"/>
<circle class="p" cx="469.9" cy="301.3" r="4.8"/>
<circle class="p" cx="472.3" cy="301.3" r="4.8"/>
<circle class="p" cx="470.9" cy="301.3" r="4.8"/>
<circle class="p" cx="468.0" cy="301.3" r="4.8"/>
<circle class="p" cx="467.3" cy="301.3" r="4.8"/>
<circle class="p" cx="472.5" cy="301.3" r="4.8"/>
<circle class="p" cx="470.6" cy="301.3" r="4.8"/>
<circle class="p" cx="470.3" cy="301.3" r="4.8"/>
<circle class="p" cx="471.1" cy="301.3" r="4.8"/>
<circle class="p" cx="472.1" cy="301.3" r="4.8"/>
<line x1="494.0" y1="301.3" x2="506.4" y2="301.3" stroke="#000" stroke-width="1.35"/>
<line x1="494.0" y1="301.3" x2="506.4" y2="301.3" stroke="#000" stroke-width="1.35"/>
<rect x="487.8" y="301.3" width="24.8" height="0.0" fill="#f0cfaf" stroke="#000" stroke-width="1.35"/>
<line x1="487.8" y1="301.3" x2="512.6" y2="301.3" stroke="#000" stroke-width="1.35"/>
<circle class="p" cx="501.8" cy="301.3" r="4.8"/>
<circle class="p" cx="500.1" cy="301.3" r="4.8"/>
<circle class="p" cx="498.2" cy="301.3" r="4.8"/>
<circle class="p" cx="498.1" cy="301.3" r="4.8"/>
<circle class="p" cx="500.4" cy="301.3" r="4.8"/>
<circle class="p" cx="498.9" cy="301.3" r="4.8"/>
<circle class="p" cx="502.6" cy="301.3" r="4.8"/>
<circle class="p" cx="499.5" cy="301.3" r="4.8"/>
<line x1="524.4" y1="301.3" x2="536.8" y2="301.3" stroke="#000" stroke-width="1.35"/>
<line x1="524.4" y1="301.3" x2="536.8" y2="301.3" stroke="#000" stroke-width="1.35"/>
<rect x="518.2" y="301.3" width="24.8" height="0.0" fill="#f0cfaf" stroke="#000" stroke-width="1.35"/>
<line x1="518.2" y1="301.3" x2="543.0" y2="301.3" stroke="#000" stroke-width="1.35"/>
<circle class="p" cx="532.7" cy="301.3" r="4.8"/>
<circle class="p" cx="527.6" cy="301.3" r="4.8"/>
<circle class="p" cx="528.3" cy="301.3" r="4.8"/>
<circle class="p" cx="532.8" cy="301.3" r="4.8"/>
<line x1="554.9" y1="301.3" x2="567.3" y2="301.3" stroke="#000" stroke-width="1.35"/>
<line x1="554.9" y1="301.3" x2="567.3" y2="301.3" stroke="#000" stroke-width="1.35"/>
<rect x="548.7" y="301.3" width="24.8" height="0.0" fill="#f0cfaf" stroke="#000" stroke-width="1.35"/>
<line x1="548.7" y1="301.3" x2="573.5" y2="301.3" stroke="#000" stroke-width="1.35"/>
<circle class="p" cx="561.3" cy="301.3" r="4.8"/>
<circle class="p" cx="559.9" cy="301.3" r="4.8"/>
<circle class="p" cx="561.7" cy="301.3" r="4.8"/>
<circle class="p" cx="560.3" cy="301.3" r="4.8"/>
<circle class="p" cx="561.4" cy="301.3" r="4.8"/>
<circle class="p" cx="563.4" cy="301.3" r="4.8"/>
<circle class="p" cx="561.1" cy="301.3" r="4.8"/>
<circle class="p" cx="562.3" cy="301.3" r="4.8"/>
<circle class="p" cx="560.8" cy="301.3" r="4.8"/>
<circle class="p" cx="560.5" cy="301.3" r="4.8"/>
<circle class="p" cx="561.6" cy="301.3" r="4.8"/>
<circle class="p" cx="559.4" cy="301.3" r="4.8"/>
<circle class="p" cx="561.3" cy="301.3" r="4.8"/>
<circle class="p" cx="563.4" cy="301.3" r="4.8"/>
<circle class="p" cx="562.5" cy="301.3" r="4.8"/>
<circle class="p" cx="560.2" cy="301.3" r="4.8"/>
<circle class="p" cx="558.8" cy="301.3" r="4.8"/>
<circle class="p" cx="558.4" cy="301.3" r="4.8"/>
<circle class="p" cx="560.6" cy="301.3" r="4.8"/>
<circle class="p" cx="559.3" cy="301.3" r="4.8"/>
<circle class="p" cx="560.6" cy="301.3" r="4.8"/>
<circle class="p" cx="559.3" cy="301.3" r="4.8"/>
<circle class="p" cx="562.6" cy="301.3" r="4.8"/>
<circle class="p" cx="558.8" cy="301.3" r="4.8"/>
<circle class="p" cx="562.0" cy="301.3" r="4.8"/>
<circle class="p" cx="560.5" cy="301.3" r="4.8"/>
<circle class="p" cx="562.3" cy="356.6" r="4.8"/>
<circle class="p" cx="563.9" cy="359.6" r="4.8"/>
<circle class="p" cx="560.7" cy="448.9" r="4.8"/>
<circle class="p" cx="558.5" cy="455.4" r="4.8"/>
<line x1="585.3" y1="301.3" x2="597.7" y2="301.3" stroke="#000" stroke-width="1.35"/>
<line x1="585.3" y1="301.3" x2="597.7" y2="301.3" stroke="#000" stroke-width="1.35"/>
<rect x="579.1" y="301.3" width="24.8" height="0.0" fill="#f0cfaf" stroke="#000" stroke-width="1.35"/>
<line x1="579.1" y1="301.3" x2="603.9" y2="301.3" stroke="#000" stroke-width="1.35"/>
<circle class="p" cx="591.2" cy="301.3" r="4.8"/>
<circle class="p" cx="593.9" cy="301.3" r="4.8"/>
<circle class="p" cx="591.4" cy="301.3" r="4.8"/>
<circle class="p" cx="592.2" cy="301.3" r="4.8"/>
<circle class="p" cx="588.8" cy="301.3" r="4.8"/>
<circle class="p" cx="589.2" cy="301.3" r="4.8"/>
<circle class="p" cx="588.8" cy="301.3" r="4.8"/>
<circle class="p" cx="592.9" cy="301.3" r="4.8"/>
<circle class="p" cx="590.6" cy="301.3" r="4.8"/>
<circle class="p" cx="593.9" cy="301.3" r="4.8"/>
<circle class="p" cx="592.2" cy="301.3" r="4.8"/>
<circle class="p" cx="588.9" cy="301.3" r="4.8"/>
<circle class="p" cx="594.5" cy="301.3" r="4.8"/>
<circle class="p" cx="592.1" cy="301.3" r="4.8"/>
<circle class="p" cx="588.7" cy="301.3" r="4.8"/>
<circle class="p" cx="589.3" cy="301.3" r="4.8"/>
<circle class="p" cx="593.5" cy="301.3" r="4.8"/>
<circle class="p" cx="593.8" cy="301.3" r="4.8"/>
<circle class="p" cx="593.0" cy="301.3" r="4.8"/>
<circle class="p" cx="589.5" cy="301.3" r="4.8"/>
<circle class="p" cx="590.5" cy="301.3" r="4.8"/>
<circle class="p" cx="592.2" cy="301.3" r="4.8"/>
<circle class="p" cx="593.9" cy="301.3" r="4.8"/>
<circle class="p" cx="592.6" cy="301.3" r="4.8"/>
<circle class="p" cx="591.7" cy="301.3" r="4.8"/>
<circle class="p" cx="590.3" cy="301.3" r="4.8"/>
<circle class="p" cx="591.9" cy="301.3" r="4.8"/>
<circle class="p" cx="590.9" cy="301.3" r="4.8"/>
<circle class="p" cx="590.1" cy="301.3" r="4.8"/>
<circle class="p" cx="589.7" cy="301.3" r="4.8"/>
<circle class="p" cx="588.7" cy="301.3" r="4.8"/>
<line x1="615.8" y1="301.3" x2="628.2" y2="301.3" stroke="#000" stroke-width="1.35"/>
<line x1="615.8" y1="301.3" x2="628.2" y2="301.3" stroke="#000" stroke-width="1.35"/>
<rect x="609.6" y="301.3" width="24.8" height="0.0" fill="#f0cfaf" stroke="#000" stroke-width="1.35"/>
<line x1="609.6" y1="301.3" x2="634.4" y2="301.3" stroke="#000" stroke-width="1.35"/>
<circle class="p" cx="621.8" cy="301.3" r="4.8"/>
<circle class="p" cx="623.8" cy="301.3" r="4.8"/>
<circle class="p" cx="619.7" cy="301.3" r="4.8"/>
<circle class="p" cx="624.9" cy="301.3" r="4.8"/>
<line x1="646.2" y1="301.3" x2="658.6" y2="301.3" stroke="#000" stroke-width="1.35"/>
<line x1="646.2" y1="301.3" x2="658.6" y2="301.3" stroke="#000" stroke-width="1.35"/>
<rect x="640.0" y="301.3" width="24.8" height="0.0" fill="#f0cfaf" stroke="#000" stroke-width="1.35"/>
<line x1="640.0" y1="301.3" x2="664.8" y2="301.3" stroke="#000" stroke-width="1.35"/>
<circle class="p" cx="654.0" cy="301.3" r="4.8"/>
<circle class="p" cx="653.8" cy="301.3" r="4.8"/>
<circle class="p" cx="651.3" cy="301.3" r="4.8"/>
<circle class="p" cx="654.1" cy="301.3" r="4.8"/>
<circle class="p" cx="653.0" cy="301.3" r="4.8"/>
<circle class="p" cx="652.4" cy="301.3" r="4.8"/>
<circle class="p" cx="649.5" cy="301.3" r="4.8"/>
<circle class="p" cx="649.9" cy="301.3" r="4.8"/>
<line x1="676.7" y1="301.3" x2="689.1" y2="301.3" stroke="#000" stroke-width="1.35"/>
<line x1="676.7" y1="301.3" x2="689.1" y2="301.3" stroke="#000" stroke-width="1.35"/>
<rect x="670.5" y="301.3" width="24.8" height="0.0" fill="#f0cfaf" stroke="#000" stroke-width="1.35"/>
<line x1="670.5" y1="301.3" x2="695.3" y2="301.3" stroke="#000" stroke-width="1.35"/>
<circle class="p" cx="683.8" cy="301.3" r="4.8"/>
<circle class="p" cx="680.3" cy="301.3" r="4.8"/>
<circle class="p" cx="685.2" cy="301.3" r="4.8"/>
<circle class="p" cx="680.4" cy="301.3" r="4.8"/>
<circle class="p" cx="684.8" cy="301.3" r="4.8"/>
<circle class="p" cx="683.3" cy="301.3" r="4.8"/>
<circle class="p" cx="683.6" cy="301.3" r="4.8"/>
<line x1="713.3" y1="301.3" x2="713.3" y2="302.6" stroke="#000" stroke-width="1.35" stroke-dasharray="12 18"/>
<line x1="713.3" y1="349.9" x2="713.3" y2="321.8" stroke="#000" stroke-width="1.35" stroke-dasharray="12 18"/>
<line x1="707.1" y1="301.3" x2="719.5" y2="301.3" stroke="#000" stroke-width="1.35"/>
<line x1="707.1" y1="349.9" x2="719.5" y2="349.9" stroke="#000" stroke-width="1.35"/>
<rect x="700.9" y="302.6" width="24.8" height="19.2" fill="#f0cfaf" stroke="#000" stroke-width="1.35"/>
<line x1="700.9" y1="307.8" x2="725.7" y2="307.8" stroke="#000" stroke-width="1.35"/>
<circle class="p" cx="713.8" cy="301.3" r="4.8"/>
<circle class="p" cx="710.5" cy="301.3" r="4.8"/>
<circle class="p" cx="714.0" cy="301.3" r="4.8"/>
<circle class="p" cx="712.2" cy="301.3" r="4.8"/>
<circle class="p" cx="715.4" cy="301.3" r="4.8"/>
<circle class="p" cx="712.8" cy="301.3" r="4.8"/>
<circle class="p" cx="710.4" cy="301.3" r="4.8"/>
<circle class="p" cx="713.6" cy="301.3" r="4.8"/>
<circle class="p" cx="714.2" cy="301.3" r="4.8"/>
<circle class="p" cx="715.0" cy="301.3" r="4.8"/>
<circle class="p" cx="715.9" cy="301.3" r="4.8"/>
<circle class="p" cx="715.6" cy="301.3" r="4.8"/>
<circle class="p" cx="713.0" cy="301.3" r="4.8"/>
<circle class="p" cx="711.0" cy="301.3" r="4.8"/>
<circle class="p" cx="712.0" cy="301.3" r="4.8"/>
<circle class="p" cx="714.4" cy="301.3" r="4.8"/>
<circle class="p" cx="713.5" cy="301.3" r="4.8"/>
<circle class="p" cx="712.0" cy="301.3" r="4.8"/>
<circle class="p" cx="711.0" cy="301.3" r="4.8"/>
<circle class="p" cx="715.1" cy="301.3" r="4.8"/>
<circle class="p" cx="713.5" cy="301.3" r="4.8"/>
<circle class="p" cx="713.8" cy="301.3" r="4.8"/>
<circle class="p" cx="714.3" cy="301.3" r="4.8"/>
<circle class="p" cx="712.4" cy="301.3" r="4.8"/>
<circle class="p" cx="712.0" cy="301.3" r="4.8"/>
<circle class="p" cx="715.3" cy="301.3" r="4.8"/>
<circle class="p" cx="714.3" cy="301.3" r="4.8"/>
<circle class="p" cx="711.4" cy="301.3" r="4.8"/>
<circle class="p" cx="716.1" cy="301.3" r="4.8"/>
<circle class="p" cx="716.0" cy="301.3" r="4.8"/>
<circle class="p" cx="713.6" cy="301.3" r="4.8"/>
<circle class="p" cx="710.9" cy="301.3" r="4.8"/>
<circle class="p" cx="714.5" cy="301.3" r="4.8"/>
<circle class="p" cx="710.8" cy="301.3" r="4.8"/>
<circle class="p" cx="715.0" cy="301.3" r="4.8"/>
<circle class="p" cx="713.8" cy="301.3" r="4.8"/>
<circle class="p" cx="714.7" cy="302.2" r="4.8"/>
<circle class="p" cx="715.0" cy="303.2" r="4.8"/>
<circle class="p" cx="716.0" cy="304.2" r="4.8"/>
<circle class="p" cx="716.2" cy="305.1" r="4.8"/>
<circle class="p" cx="714.7" cy="306.1" r="4.8"/>
<circle class="p" cx="714.7" cy="307.0" r="4.8"/>
<circle class="p" cx="714.4" cy="308.0" r="4.8"/>
<circle class="p" cx="713.8" cy="308.9" r="4.8"/>
<circle class="p" cx="714.3" cy="309.9" r="4.8"/>
<circle class="p" cx="713.0" cy="310.8" r="4.8"/>
<circle class="p" cx="713.0" cy="312.7" r="4.8"/>
<circle class="p" cx="711.7" cy="314.6" r="4.8"/>
<circle class="p" cx="714.8" cy="316.5" r="4.8"/>
<circle class="p" cx="714.9" cy="318.4" r="4.8"/>
<circle class="p" cx="712.8" cy="320.3" r="4.8"/>
<circle class="p" cx="710.6" cy="321.2" r="4.8"/>
<circle class="p" cx="713.9" cy="322.2" r="4.8"/>
<circle class="p" cx="712.9" cy="325.4" r="4.8"/>
<circle class="p" cx="716.2" cy="327.9" r="4.8"/>
<circle class="p" cx="712.8" cy="337.4" r="4.8"/>
<circle class="p" cx="713.3" cy="339.9" r="4.8"/>
<circle class="p" cx="711.7" cy="345.8" r="4.8"/>
<circle class="p" cx="715.5" cy="349.9" r="4.8"/>
<circle class="p" cx="710.6" cy="370.3" r="4.8"/>
<circle class="p" cx="715.4" cy="386.4" r="4.8"/>
<circle class="p" cx="715.9" cy="401.2" r="4.8"/>
<circle class="p" cx="713.0" cy="420.6" r="4.8"/>
<circle class="p" cx="712.4" cy="430.3" r="4.8"/>
<circle class="p" cx="711.9" cy="461.7" r="4.8"/>
<circle class="p" cx="710.5" cy="323.1" r="4.8"/>
<circle class="p" cx="714.8" cy="315.6" r="4.8"/>
<circle class="p" cx="711.5" cy="311.8" r="4.8"/>
<circle class="p" cx="714.5" cy="306.6" r="4.8"/>
<circle class="p" cx="711.6" cy="304.7" r="4.8"/>
<circle class="p" cx="711.9" cy="302.8" r="4.8"/>
<circle class="p" cx="712.9" cy="301.9" r="4.8"/>
<line x1="737.6" y1="301.3" x2="750.0" y2="301.3" stroke="#000" stroke-width="1.35"/>
<line x1="737.6" y1="301.3" x2="750.0" y2="301.3" stroke="#000" stroke-width="1.35"/>
<rect x="731.4" y="301.3" width="24.8" height="0.0" fill="#f0cfaf" stroke="#000" stroke-width="1.35"/>
<line x1="731.4" y1="301.3" x2="756.2" y2="301.3" stroke="#000" stroke-width="1.35"/>
<circle class="p" cx="744.7" cy="301.3" r="4.8"/>
<circle class="p" cx="745.6" cy="301.3" r="4.8"/>
<circle class="p" cx="743.6" cy="301.3" r="4.8"/>
<circle class="p" cx="742.8" cy="301.3" r="4.8"/>
<circle class="p" cx="746.4" cy="301.3" r="4.8"/>
<circle class="p" cx="746.2" cy="301.3" r="4.8"/>
<circle class="p" cx="742.9" cy="301.3" r="4.8"/>
<circle class="p" cx="744.1" cy="301.3" r="4.8"/>
<circle class="p" cx="741.1" cy="301.3" r="4.8"/>
<circle class="p" cx="741.2" cy="301.3" r="4.8"/>
<circle class="p" cx="746.5" cy="301.3" r="4.8"/>
<circle class="p" cx="741.4" cy="301.3" r="4.8"/>
<circle class="p" cx="742.5" cy="301.3" r="4.8"/>
<circle class="p" cx="741.8" cy="301.3" r="4.8"/>
<circle class="p" cx="740.9" cy="301.3" r="4.8"/>
<circle class="p" cx="744.2" cy="301.3" r="4.8"/>
<circle class="p" cx="745.6" cy="319.5" r="4.8"/>
<circle class="p" cx="746.6" cy="355.5" r="4.8"/>
<line x1="768.0" y1="301.3" x2="780.4" y2="301.3" stroke="#000" stroke-width="1.35"/>
<line x1="768.0" y1="301.3" x2="780.4" y2="301.3" stroke="#000" stroke-width="1.35"/>
<rect x="761.8" y="301.3" width="24.8" height="0.0" fill="#f0cfaf" stroke="#000" stroke-width="1.35"/>
<line x1="761.8" y1="301.3" x2="786.6" y2="301.3" stroke="#000" stroke-width="1.35"/>
<circle class="p" cx="771.7" cy="301.3" r="4.8"/>
<circle class="p" cx="772.8" cy="301.3" r="4.8"/>
<circle class="p" cx="771.3" cy="301.3" r="4.8"/>
<circle class="p" cx="774.8" cy="301.3" r="4.8"/>
<circle class="p" cx="771.5" cy="301.3" r="4.8"/>
<circle class="p" cx="772.2" cy="301.3" r="4.8"/>
<circle class="p" cx="775.3" cy="301.3" r="4.8"/>
<circle class="p" cx="776.7" cy="301.3" r="4.8"/>
<circle class="p" cx="772.1" cy="301.3" r="4.8"/>
<circle class="p" cx="774.0" cy="301.3" r="4.8"/>
<circle class="p" cx="774.0" cy="301.3" r="4.8"/>
<circle class="p" cx="774.7" cy="301.3" r="4.8"/>
<circle class="p" cx="774.4" cy="301.3" r="4.8"/>
<circle class="p" cx="772.4" cy="301.3" r="4.8"/>
<circle class="p" cx="772.7" cy="301.3" r="4.8"/>
<circle class="p" cx="776.8" cy="327.5" r="4.8"/>
<line x1="804.7" y1="301.3" x2="804.7" y2="314.6" stroke="#000" stroke-width="1.35" stroke-dasharray="12 18"/>
<line x1="804.7" y1="435.4" x2="804.7" y2="390.6" stroke="#000" stroke-width="1.35" stroke-dasharray="12 18"/>
<line x1="798.5" y1="301.3" x2="810.9" y2="301.3" stroke="#000" stroke-width="1.35"/>
<line x1="798.5" y1="435.4" x2="810.9" y2="435.4" stroke="#000" stroke-width="1.35"/>
<rect x="792.3" y="314.6" width="24.8" height="76.0" fill="#f0cfaf" stroke="#000" stroke-width="1.35"/>
<line x1="792.3" y1="376.0" x2="817.1" y2="376.0" stroke="#000" stroke-width="1.35"/>
<circle class="p" cx="804.1" cy="301.3" r="4.8"/>
<circle class="p" cx="802.2" cy="301.3" r="4.8"/>
<circle class="p" cx="802.6" cy="301.3" r="4.8"/>
<circle class="p" cx="803.6" cy="301.3" r="4.8"/>
<circle class="p" cx="805.8" cy="301.3" r="4.8"/>
<circle class="p" cx="802.9" cy="325.4" r="4.8"/>
<circle class="p" cx="802.3" cy="340.2" r="4.8"/>
<circle class="p" cx="805.3" cy="357.4" r="4.8"/>
<circle class="p" cx="805.0" cy="375.0" r="4.8"/>
<circle class="p" cx="806.0" cy="383.8" r="4.8"/>
<circle class="p" cx="806.7" cy="387.2" r="4.8"/>
<circle class="p" cx="806.7" cy="392.3" r="4.8"/>
<circle class="p" cx="804.9" cy="421.0" r="4.8"/>
<circle class="p" cx="806.1" cy="430.3" r="4.8"/>
<circle class="p" cx="805.8" cy="435.4" r="4.8"/>
<line x1="835.1" y1="301.3" x2="835.1" y2="301.9" stroke="#000" stroke-width="1.35" stroke-dasharray="12 18"/>
<line x1="835.1" y1="348.8" x2="835.1" y2="334.0" stroke="#000" stroke-width="1.35" stroke-dasharray="12 18"/>
<line x1="828.9" y1="301.3" x2="841.3" y2="301.3" stroke="#000" stroke-width="1.35"/>
<line x1="828.9" y1="348.8" x2="841.3" y2="348.8" stroke="#000" stroke-width="1.35"/>
<rect x="822.7" y="301.9" width="24.8" height="32.1" fill="#f0cfaf" stroke="#000" stroke-width="1.35"/>
<line x1="822.7" y1="302.2" x2="847.5" y2="302.2" stroke="#000" stroke-width="1.35"/>
<circle class="p" cx="836.1" cy="301.3" r="4.8"/>
<circle class="p" cx="832.2" cy="301.3" r="4.8"/>
<circle class="p" cx="835.1" cy="301.3" r="4.8"/>
<circle class="p" cx="835.2" cy="301.3" r="4.8"/>
<circle class="p" cx="837.1" cy="301.3" r="4.8"/>
<circle class="p" cx="832.2" cy="301.3" r="4.8"/>
<circle class="p" cx="832.9" cy="301.3" r="4.8"/>
<circle class="p" cx="834.9" cy="301.3" r="4.8"/>
<circle class="p" cx="836.0" cy="301.3" r="4.8"/>
<circle class="p" cx="835.2" cy="301.3" r="4.8"/>
<circle class="p" cx="834.6" cy="301.3" r="4.8"/>
<circle class="p" cx="835.1" cy="301.3" r="4.8"/>
<circle class="p" cx="832.7" cy="301.3" r="4.8"/>
<circle class="p" cx="836.9" cy="301.3" r="4.8"/>
<circle class="p" cx="834.5" cy="301.3" r="4.8"/>
<circle class="p" cx="835.1" cy="301.3" r="4.8"/>
<circle class="p" cx="832.7" cy="301.3" r="4.8"/>
<circle class="p" cx="837.3" cy="301.3" r="4.8"/>
<circle class="p" cx="836.2" cy="301.3" r="4.8"/>
<circle class="p" cx="836.4" cy="301.3" r="4.8"/>
<circle class="p" cx="836.3" cy="301.3" r="4.8"/>
<circle class="p" cx="835.4" cy="301.3" r="4.8"/>
<circle class="p" cx="837.9" cy="301.3" r="4.8"/>
<circle class="p" cx="835.0" cy="301.3" r="4.8"/>
<circle class="p" cx="834.1" cy="301.3" r="4.8"/>
<circle class="p" cx="837.2" cy="301.3" r="4.8"/>
<circle class="p" cx="836.1" cy="301.3" r="4.8"/>
<circle class="p" cx="835.9" cy="301.3" r="4.8"/>
<circle class="p" cx="836.4" cy="301.3" r="4.8"/>
<circle class="p" cx="832.6" cy="301.3" r="4.8"/>
<circle class="p" cx="833.2" cy="301.3" r="4.8"/>
<circle class="p" cx="837.2" cy="301.3" r="4.8"/>
<circle class="p" cx="835.4" cy="301.3" r="4.8"/>
<circle class="p" cx="833.4" cy="301.3" r="4.8"/>
<circle class="p" cx="834.0" cy="301.3" r="4.8"/>
<circle class="p" cx="834.8" cy="301.3" r="4.8"/>
<circle class="p" cx="836.4" cy="301.3" r="4.8"/>
<circle class="p" cx="837.2" cy="301.3" r="4.8"/>
<circle class="p" cx="837.1" cy="301.3" r="4.8"/>
<circle class="p" cx="836.3" cy="301.3" r="4.8"/>
<circle class="p" cx="832.2" cy="301.3" r="4.8"/>
<circle class="p" cx="833.0" cy="301.3" r="4.8"/>
<circle class="p" cx="837.5" cy="301.3" r="4.8"/>
<circle class="p" cx="834.8" cy="301.3" r="4.8"/>
<circle class="p" cx="835.9" cy="301.3" r="4.8"/>
<circle class="p" cx="834.7" cy="301.3" r="4.8"/>
<circle class="p" cx="835.3" cy="301.3" r="4.8"/>
<circle class="p" cx="838.0" cy="301.3" r="4.8"/>
<circle class="p" cx="832.5" cy="301.3" r="4.8"/>
<circle class="p" cx="835.8" cy="301.3" r="4.8"/>
<circle class="p" cx="833.2" cy="301.3" r="4.8"/>
<circle class="p" cx="835.8" cy="301.3" r="4.8"/>
<circle class="p" cx="837.1" cy="301.3" r="4.8"/>
<circle class="p" cx="836.6" cy="301.3" r="4.8"/>
<circle class="p" cx="835.9" cy="301.3" r="4.8"/>
<circle class="p" cx="834.2" cy="301.3" r="4.8"/>
<circle class="p" cx="836.9" cy="301.3" r="4.8"/>
<circle class="p" cx="832.9" cy="301.3" r="4.8"/>
<circle class="p" cx="836.9" cy="302.2" r="4.8"/>
<circle class="p" cx="832.6" cy="303.2" r="4.8"/>
<circle class="p" cx="837.2" cy="305.1" r="4.8"/>
<circle class="p" cx="836.4" cy="307.0" r="4.8"/>
<circle class="p" cx="837.4" cy="308.9" r="4.8"/>
<circle class="p" cx="833.1" cy="312.7" r="4.8"/>
<circle class="p" cx="836.8" cy="316.5" r="4.8"/>
<circle class="p" cx="834.5" cy="318.8" r="4.8"/>
<circle class="p" cx="837.2" cy="324.1" r="4.8"/>
<circle class="p" cx="837.0" cy="327.9" r="4.8"/>
<circle class="p" cx="833.8" cy="331.7" r="4.8"/>
<circle class="p" cx="835.2" cy="334.0" r="4.8"/>
<circle class="p" cx="833.5" cy="339.3" r="4.8"/>
<circle class="p" cx="833.9" cy="345.0" r="4.8"/>
<circle class="p" cx="835.6" cy="348.8" r="4.8"/>
<circle class="p" cx="832.5" cy="402.4" r="4.8"/>
<circle class="p" cx="833.4" cy="410.9" r="4.8"/>
<circle class="p" cx="833.9" cy="412.5" r="4.8"/>
<circle class="p" cx="835.1" cy="414.4" r="4.8"/>
<circle class="p" cx="833.8" cy="427.3" r="4.8"/>
<circle class="p" cx="832.5" cy="451.4" r="4.8"/>
<circle class="p" cx="837.9" cy="457.5" r="4.8"/>
<circle class="p" cx="833.9" cy="459.0" r="4.8"/>
<circle class="p" cx="835.1" cy="474.2" r="4.8"/>
<circle class="p" cx="837.1" cy="484.5" r="4.8"/>
<line x1="859.4" y1="301.3" x2="871.8" y2="301.3" stroke="#000" stroke-width="1.35"/>
<line x1="859.4" y1="301.3" x2="871.8" y2="301.3" stroke="#000" stroke-width="1.35"/>
<rect x="853.2" y="301.3" width="24.8" height="0.0" fill="#f0cfaf" stroke="#000" stroke-width="1.35"/>
<line x1="853.2" y1="301.3" x2="878.0" y2="301.3" stroke="#000" stroke-width="1.35"/>
<circle class="p" cx="864.8" cy="301.3" r="4.8"/>
<circle class="p" cx="866.3" cy="301.3" r="4.8"/>
<circle class="p" cx="864.7" cy="301.3" r="4.8"/>
<circle class="p" cx="867.0" cy="301.3" r="4.8"/>
<circle class="p" cx="868.0" cy="301.3" r="4.8"/>
<circle class="p" cx="868.4" cy="301.3" r="4.8"/>
<circle class="p" cx="867.7" cy="301.3" r="4.8"/>
<circle class="p" cx="866.5" cy="301.3" r="4.8"/>
<circle class="p" cx="867.0" cy="301.3" r="4.8"/>
<circle class="p" cx="866.4" cy="301.3" r="4.8"/>
<circle class="p" cx="864.6" cy="301.3" r="4.8"/>
<line x1="889.8" y1="301.3" x2="902.2" y2="301.3" stroke="#000" stroke-width="1.35"/>
<line x1="889.8" y1="301.3" x2="902.2" y2="301.3" stroke="#000" stroke-width="1.35"/>
<rect x="883.6" y="301.3" width="24.8" height="0.0" fill="#f0cfaf" stroke="#000" stroke-width="1.35"/>
<line x1="883.6" y1="301.3" x2="908.4" y2="301.3" stroke="#000" stroke-width="1.35"/>
<circle class="p" cx="896.6" cy="301.3" r="4.8"/>
<circle class="p" cx="895.0" cy="301.3" r="4.8"/>
<circle class="p" cx="898.6" cy="301.3" r="4.8"/>
<circle class="p" cx="898.9" cy="301.3" r="4.8"/>
<circle class="p" cx="893.9" cy="301.3" r="4.8"/>
<circle class="p" cx="893.6" cy="301.3" r="4.8"/>
<circle class="p" cx="897.0" cy="301.3" r="4.8"/>
<circle class="p" cx="896.2" cy="301.3" r="4.8"/>
<circle class="p" cx="896.9" cy="301.3" r="4.8"/>
<circle class="p" cx="893.1" cy="301.3" r="4.8"/>
<circle class="p" cx="897.8" cy="301.3" r="4.8"/>
<circle class="p" cx="896.4" cy="301.3" r="4.8"/>
<circle class="p" cx="897.5" cy="301.3" r="4.8"/>
<circle class="p" cx="896.6" cy="301.3" r="4.8"/>
<circle class="p" cx="894.6" cy="301.3" r="4.8"/>
<circle class="p" cx="895.2" cy="301.3" r="4.8"/>
<circle class="p" cx="897.4" cy="301.3" r="4.8"/>
<circle class="p" cx="898.9" cy="301.3" r="4.8"/>
<circle class="p" cx="898.6" cy="301.3" r="4.8"/>
<circle class="p" cx="894.1" cy="301.3" r="4.8"/>
<circle class="p" cx="894.9" cy="301.3" r="4.8"/>
<circle class="p" cx="894.4" cy="301.3" r="4.8"/>
<circle class="p" cx="898.4" cy="301.3" r="4.8"/>
<circle class="p" cx="897.9" cy="301.3" r="4.8"/>
<line x1="920.2" y1="301.3" x2="932.6" y2="301.3" stroke="#000" stroke-width="1.35"/>
<line x1="920.2" y1="301.3" x2="932.6" y2="301.3" stroke="#000" stroke-width="1.35"/>
<rect x="914.0" y="301.3" width="24.8" height="0.0" fill="#f0cfaf" stroke="#000" stroke-width="1.35"/>
<line x1="914.0" y1="301.3" x2="938.8" y2="301.3" stroke="#000" stroke-width="1.35"/>
<circle class="p" cx="928.4" cy="301.3" r="4.8"/>
<circle class="p" cx="926.0" cy="301.3" r="4.8"/>
<circle class="p" cx="927.8" cy="301.3" r="4.8"/>
<circle class="p" cx="927.9" cy="301.3" r="4.8"/>
<circle class="p" cx="927.3" cy="301.3" r="4.8"/>
<circle class="p" cx="927.7" cy="301.3" r="4.8"/>
<circle class="p" cx="924.5" cy="301.3" r="4.8"/>
<circle class="p" cx="924.3" cy="301.3" r="4.8"/>
<circle class="p" cx="928.1" cy="301.3" r="4.8"/>
<circle class="p" cx="925.4" cy="301.3" r="4.8"/>
<circle class="p" cx="929.2" cy="301.3" r="4.8"/>
<circle class="p" cx="925.0" cy="301.3" r="4.8"/>
<circle class="p" cx="928.6" cy="301.3" r="4.8"/>
<circle class="p" cx="929.3" cy="301.3" r="4.8"/>
<circle class="p" cx="928.9" cy="301.3" r="4.8"/>
<circle class="p" cx="927.5" cy="301.3" r="4.8"/>
<circle class="p" cx="925.9" cy="301.3" r="4.8"/>
<circle class="p" cx="928.0" cy="301.3" r="4.8"/>
<circle class="p" cx="928.7" cy="301.3" r="4.8"/>
<circle class="p" cx="925.0" cy="301.3" r="4.8"/>
<circle class="p" cx="926.2" cy="301.3" r="4.8"/>
<circle class="p" cx="926.5" cy="301.3" r="4.8"/>
<circle class="p" cx="927.0" cy="301.3" r="4.8"/>
<circle class="p" cx="929.2" cy="301.3" r="4.8"/>
<circle class="p" cx="924.8" cy="301.3" r="4.8"/>
<circle class="p" cx="926.8" cy="301.3" r="4.8"/>
<circle class="p" cx="924.9" cy="301.3" r="4.8"/>
<circle class="p" cx="923.5" cy="301.3" r="4.8"/>
<circle class="p" cx="924.5" cy="301.3" r="4.8"/>
<circle class="p" cx="924.9" cy="301.3" r="4.8"/>
<circle class="p" cx="924.1" cy="301.3" r="4.8"/>
<circle class="p" cx="928.3" cy="301.3" r="4.8"/>
<circle class="p" cx="926.6" cy="301.3" r="4.8"/>
<circle class="p" cx="926.1" cy="301.3" r="4.8"/>
<circle class="p" cx="926.1" cy="301.3" r="4.8"/>
<circle class="p" cx="923.9" cy="301.3" r="4.8"/>
<circle class="p" cx="927.5" cy="301.3" r="4.8"/>
<circle class="p" cx="925.4" cy="301.3" r="4.8"/>
<circle class="p" cx="926.4" cy="301.3" r="4.8"/>
<circle class="p" cx="928.0" cy="301.3" r="4.8"/>
<circle class="p" cx="924.6" cy="301.3" r="4.8"/>
<circle class="p" cx="927.8" cy="301.3" r="4.8"/>
<circle class="p" cx="923.7" cy="301.3" r="4.8"/>
<circle class="p" cx="926.5" cy="301.3" r="4.8"/>
<circle class="p" cx="925.2" cy="301.3" r="4.8"/>
<circle class="p" cx="923.6" cy="301.3" r="4.8"/>
<circle class="p" cx="925.1" cy="301.3" r="4.8"/>
<line x1="950.7" y1="301.3" x2="963.1" y2="301.3" stroke="#000" stroke-width="1.35"/>
<line x1="950.7" y1="301.3" x2="963.1" y2="301.3" stroke="#000" stroke-width="1.35"/>
<rect x="944.5" y="301.3" width="24.8" height="0.0" fill="#f0cfaf" stroke="#000" stroke-width="1.35"/>
<line x1="944.5" y1="301.3" x2="969.3" y2="301.3" stroke="#000" stroke-width="1.35"/>
<circle class="p" cx="959.6" cy="301.3" r="4.8"/>
<circle class="p" cx="958.8" cy="301.3" r="4.8"/>
<circle class="p" cx="954.7" cy="301.3" r="4.8"/>
<line x1="981.1" y1="301.3" x2="993.5" y2="301.3" stroke="#000" stroke-width="1.35"/>
<line x1="981.1" y1="301.3" x2="993.5" y2="301.3" stroke="#000" stroke-width="1.35"/>
<rect x="974.9" y="301.3" width="24.8" height="0.0" fill="#f0cfaf" stroke="#000" stroke-width="1.35"/>
<line x1="974.9" y1="301.3" x2="999.7" y2="301.3" stroke="#000" stroke-width="1.35"/>
<circle class="p" cx="989.9" cy="301.3" r="4.8"/>
<circle class="p" cx="985.7" cy="301.3" r="4.8"/>
<circle class="p" cx="986.1" cy="301.3" r="4.8"/>
<circle class="p" cx="984.6" cy="301.3" r="4.8"/>
<circle class="p" cx="990.3" cy="301.3" r="4.8"/>
<circle class="p" cx="985.5" cy="301.3" r="4.8"/>
<circle class="p" cx="990.1" cy="301.3" r="4.8"/>
<circle class="p" cx="987.3" cy="301.3" r="4.8"/>
<circle class="p" cx="985.4" cy="301.3" r="4.8"/>
<circle class="p" cx="984.5" cy="301.3" r="4.8"/>
<circle class="p" cx="989.3" cy="301.3" r="4.8"/>
<circle class="p" cx="987.0" cy="301.3" r="4.8"/>
<circle class="p" cx="986.7" cy="301.3" r="4.8"/>
<circle class="p" cx="988.7" cy="301.3" r="4.8"/>
<circle class="p" cx="985.0" cy="301.3" r="4.8"/>
<circle class="p" cx="989.3" cy="301.3" r="4.8"/>
<circle class="p" cx="987.0" cy="301.3" r="4.8"/>
<circle class="p" cx="989.3" cy="301.3" r="4.8"/>
<circle class="p" cx="988.2" cy="301.3" r="4.8"/>
<circle class="p" cx="990.3" cy="301.3" r="4.8"/>
<circle class="p" cx="988.9" cy="301.3" r="4.8"/>
<circle class="p" cx="987.1" cy="301.3" r="4.8"/>
<circle class="p" cx="986.6" cy="301.3" r="4.8"/>
<circle class="p" cx="986.5" cy="301.3" r="4.8"/>
<circle class="p" cx="989.7" cy="301.3" r="4.8"/>
<circle class="p" cx="985.7" cy="301.3" r="4.8"/>
<circle class="p" cx="986.3" cy="301.3" r="4.8"/>
<circle class="p" cx="987.7" cy="301.3" r="4.8"/>
<circle class="p" cx="988.5" cy="301.3" r="4.8"/>
<circle class="p" cx="986.1" cy="301.3" r="4.8"/>
<circle class="p" cx="989.6" cy="301.3" r="4.8"/>
<circle class="p" cx="987.3" cy="301.3" r="4.8"/>
<circle class="p" cx="989.3" cy="301.3" r="4.8"/>
<line x1="1011.6" y1="301.3" x2="1024.0" y2="301.3" stroke="#000" stroke-width="1.35"/>
<line x1="1011.6" y1="301.3" x2="1024.0" y2="301.3" stroke="#000" stroke-width="1.35"/>
<rect x="1005.4" y="301.3" width="24.8" height="0.0" fill="#f0cfaf" stroke="#000" stroke-width="1.35"/>
<line x1="1005.4" y1="301.3" x2="1030.2" y2="301.3" stroke="#000" stroke-width="1.35"/>
<circle class="p" cx="1020.4" cy="301.3" r="4.8"/>
<circle class="p" cx="1016.7" cy="301.3" r="4.8"/>
<circle class="p" cx="1017.9" cy="301.3" r="4.8"/>
<circle class="p" cx="1020.5" cy="301.3" r="4.8"/>
<circle class="p" cx="1017.8" cy="301.3" r="4.8"/>
<circle class="p" cx="1019.1" cy="301.3" r="4.8"/>
<circle class="p" cx="1017.9" cy="301.3" r="4.8"/>
<circle class="p" cx="1015.1" cy="301.3" r="4.8"/>
<circle class="p" cx="1015.8" cy="301.3" r="4.8"/>
<circle class="p" cx="1018.9" cy="301.3" r="4.8"/>
<circle class="p" cx="1020.1" cy="301.3" r="4.8"/>
<circle class="p" cx="1019.5" cy="301.3" r="4.8"/>
<circle class="p" cx="1015.4" cy="301.3" r="4.8"/>
<line x1="1042.0" y1="301.3" x2="1054.4" y2="301.3" stroke="#000" stroke-width="1.35"/>
<line x1="1042.0" y1="301.3" x2="1054.4" y2="301.3" stroke="#000" stroke-width="1.35"/>
<rect x="1035.8" y="301.3" width="24.8" height="0.0" fill="#f0cfaf" stroke="#000" stroke-width="1.35"/>
<line x1="1035.8" y1="301.3" x2="1060.6" y2="301.3" stroke="#000" stroke-width="1.35"/>
<circle class="p" cx="1050.8" cy="301.3" r="4.8"/>
<circle class="p" cx="1049.8" cy="301.3" r="4.8"/>
<circle class="p" cx="1046.6" cy="301.3" r="4.8"/>
<circle class="p" cx="1049.3" cy="301.3" r="4.8"/>
<circle class="p" cx="1049.0" cy="301.3" r="4.8"/>
<circle class="p" cx="1051.2" cy="301.3" r="4.8"/>
<circle class="p" cx="1048.8" cy="301.3" r="4.8"/>
<circle class="p" cx="1047.6" cy="301.3" r="4.8"/>
<circle class="p" cx="1047.4" cy="301.3" r="4.8"/>
<circle class="p" cx="1049.9" cy="301.3" r="4.8"/>
<circle class="p" cx="1049.6" cy="301.3" r="4.8"/>
<circle class="p" cx="1047.9" cy="301.3" r="4.8"/>
<circle class="p" cx="1048.8" cy="301.3" r="4.8"/>
<circle class="p" cx="1046.5" cy="301.3" r="4.8"/>
<circle class="p" cx="1050.3" cy="301.3" r="4.8"/>
<circle class="p" cx="1047.2" cy="301.3" r="4.8"/>
<circle class="p" cx="1048.1" cy="301.3" r="4.8"/>
<circle class="p" cx="1047.0" cy="301.3" r="4.8"/>
<circle class="p" cx="1046.0" cy="301.3" r="4.8"/>
<circle class="p" cx="1046.3" cy="301.3" r="4.8"/>
<circle class="p" cx="1048.8" cy="301.3" r="4.8"/>
<circle class="p" cx="1050.3" cy="301.3" r="4.8"/>
<circle class="p" cx="1047.2" cy="301.3" r="4.8"/>
<circle class="p" cx="1045.8" cy="301.3" r="4.8"/>
<circle class="p" cx="1048.4" cy="301.3" r="4.8"/>
<circle class="p" cx="1047.6" cy="301.3" r="4.8"/>
<circle class="p" cx="1048.1" cy="301.3" r="4.8"/>
<circle class="p" cx="1045.6" cy="301.3" r="4.8"/>
<circle class="p" cx="1048.1" cy="301.3" r="4.8"/>
<circle class="p" cx="1045.5" cy="301.3" r="4.8"/>
<circle class="p" cx="1049.5" cy="301.3" r="4.8"/>
<circle class="p" cx="1049.5" cy="301.3" r="4.8"/>
<circle class="p" cx="1048.0" cy="301.3" r="4.8"/>
<circle class="p" cx="1050.9" cy="301.3" r="4.8"/>
<circle class="p" cx="1046.6" cy="301.3" r="4.8"/>
<circle class="p" cx="1048.6" cy="301.3" r="4.8"/>
<circle class="p" cx="1048.7" cy="301.3" r="4.8"/>
<circle class="p" cx="1045.7" cy="301.3" r="4.8"/>
<circle class="p" cx="1045.6" cy="301.3" r="4.8"/>
<circle class="p" cx="1049.3" cy="301.3" r="4.8"/>
<circle class="p" cx="1050.1" cy="301.3" r="4.8"/>
<circle class="p" cx="1048.2" cy="301.3" r="4.8"/>
<circle class="p" cx="1050.3" cy="301.3" r="4.8"/>
<circle class="p" cx="1047.7" cy="301.3" r="4.8"/>
<circle class="p" cx="1048.6" cy="301.3" r="4.8"/>
<circle class="p" cx="1049.5" cy="301.3" r="4.8"/>
<circle class="p" cx="1050.3" cy="301.3" r="4.8"/>
<circle class="p" cx="1048.4" cy="301.3" r="4.8"/>
<circle class="p" cx="1049.4" cy="301.3" r="4.8"/>
<circle class="p" cx="1045.9" cy="301.3" r="4.8"/>
<circle class="p" cx="1047.1" cy="301.3" r="4.8"/>
<circle class="p" cx="1046.8" cy="301.3" r="4.8"/>
<circle class="p" cx="1049.4" cy="301.3" r="4.8"/>
<circle class="p" cx="1048.7" cy="301.3" r="4.8"/>
<circle class="p" cx="1047.5" cy="301.3" r="4.8"/>
<circle class="p" cx="1048.1" cy="301.3" r="4.8"/>
<circle class="p" cx="1050.3" cy="301.3" r="4.8"/>
<circle class="p" cx="1050.7" cy="301.3" r="4.8"/>
<circle class="p" cx="1047.5" cy="301.3" r="4.8"/>
<circle class="p" cx="1048.4" cy="301.3" r="4.8"/>
<circle class="p" cx="1048.1" cy="301.3" r="4.8"/>
<circle class="p" cx="1045.5" cy="301.3" r="4.8"/>
<circle class="p" cx="1050.3" cy="301.3" r="4.8"/>
<circle class="p" cx="1046.8" cy="301.3" r="4.8"/>
<circle class="p" cx="1050.8" cy="301.3" r="4.8"/>
<circle class="p" cx="1051.0" cy="301.3" r="4.8"/>
<circle class="p" cx="1048.8" cy="301.3" r="4.8"/>
<circle class="p" cx="1049.7" cy="301.3" r="4.8"/>
<circle class="p" cx="1051.2" cy="301.3" r="4.8"/>
<circle class="p" cx="1046.6" cy="301.3" r="4.8"/>
<circle class="p" cx="1046.9" cy="301.3" r="4.8"/>
<circle class="p" cx="1048.3" cy="301.3" r="4.8"/>
<circle class="p" cx="1046.1" cy="301.3" r="4.8"/>
<circle class="p" cx="1048.3" cy="301.3" r="4.8"/>
<circle class="p" cx="1047.7" cy="301.3" r="4.8"/>
<circle class="p" cx="1051.0" cy="301.3" r="4.8"/>
<circle class="p" cx="1046.2" cy="301.3" r="4.8"/>
<circle class="p" cx="1048.2" cy="301.3" r="4.8"/>
<circle class="p" cx="1051.0" cy="301.3" r="4.8"/>
<circle class="p" cx="1046.5" cy="301.3" r="4.8"/>
<circle class="p" cx="1045.7" cy="301.3" r="4.8"/>
<circle class="p" cx="1050.9" cy="301.3" r="4.8"/>
<circle class="p" cx="1051.1" cy="301.3" r="4.8"/>
<circle class="p" cx="1047.6" cy="301.3" r="4.8"/>
<circle class="p" cx="1049.0" cy="301.3" r="4.8"/>
<circle class="p" cx="1050.7" cy="301.3" r="4.8"/>
<circle class="p" cx="1050.9" cy="301.3" r="4.8"/>
<circle class="p" cx="1049.2" cy="301.3" r="4.8"/>
<circle class="p" cx="1050.7" cy="301.3" r="4.8"/>
<circle class="p" cx="1045.7" cy="301.3" r="4.8"/>
<circle class="p" cx="1049.9" cy="301.3" r="4.8"/>
<circle class="p" cx="1046.7" cy="301.3" r="4.8"/>
<circle class="p" cx="1050.6" cy="301.3" r="4.8"/>
<circle class="p" cx="1048.7" cy="301.3" r="4.8"/>
<circle class="p" cx="1048.6" cy="301.3" r="4.8"/>
<circle class="p" cx="1047.8" cy="301.3" r="4.8"/>
<circle class="p" cx="1045.6" cy="301.3" r="4.8"/>
<circle class="p" cx="1049.5" cy="301.3" r="4.8"/>
<circle class="p" cx="1048.5" cy="301.3" r="4.8"/>
<circle class="p" cx="1047.0" cy="301.3" r="4.8"/>
<circle class="p" cx="1049.2" cy="301.3" r="4.8"/>
<circle class="p" cx="1048.9" cy="301.3" r="4.8"/>
<circle class="p" cx="1045.9" cy="301.3" r="4.8"/>
<circle class="p" cx="1050.2" cy="301.3" r="4.8"/>
<circle class="p" cx="1045.6" cy="301.3" r="4.8"/>
<circle class="p" cx="1049.3" cy="301.3" r="4.8"/>
<circle class="p" cx="1049.4" cy="301.3" r="4.8"/>
<circle class="p" cx="1047.8" cy="301.3" r="4.8"/>
<circle class="p" cx="1046.1" cy="301.3" r="4.8"/>
<circle class="p" cx="1050.4" cy="301.3" r="4.8"/>
<circle class="p" cx="1046.2" cy="301.3" r="4.8"/>
<circle class="p" cx="1046.4" cy="301.3" r="4.8"/>
<circle class="p" cx="1046.0" cy="301.3" r="4.8"/>
<circle class="p" cx="1048.8" cy="301.3" r="4.8"/>
<circle class="p" cx="1048.8" cy="301.3" r="4.8"/>
<circle class="p" cx="1048.4" cy="301.3" r="4.8"/>
<circle class="p" cx="1047.2" cy="301.3" r="4.8"/>
<circle class="p" cx="1048.6" cy="301.3" r="4.8"/>
<circle class="p" cx="1047.0" cy="301.3" r="4.8"/>
<circle class="p" cx="1051.1" cy="301.3" r="4.8"/>
<circle class="p" cx="1046.1" cy="302.2" r="4.8"/>
<circle class="p" cx="1046.6" cy="303.2" r="4.8"/>
<circle class="p" cx="1046.5" cy="306.1" r="4.8"/>
<circle class="p" cx="1048.9" cy="464.1" r="4.8"/>
<rect x="113.5" y="293.7" width="986.5" height="205.2" fill="none" stroke="#000" stroke-width="1.35"/>
<line x1="94.5" y1="491.3" x2="113.5" y2="491.3" stroke="#000" stroke-width="1.35"/>
<text transform="translate(78.8,502.6) scale(1,1.06)" text-anchor="end" class="t">0</text>
<line x1="94.5" y1="453.3" x2="113.5" y2="453.3" stroke="#000" stroke-width="1.35"/>
<text transform="translate(78.8,464.6) scale(1,1.06)" text-anchor="end" class="t">20</text>
<line x1="94.5" y1="415.3" x2="113.5" y2="415.3" stroke="#000" stroke-width="1.35"/>
<text transform="translate(78.8,426.6) scale(1,1.06)" text-anchor="end" class="t">40</text>
<line x1="94.5" y1="377.3" x2="113.5" y2="377.3" stroke="#000" stroke-width="1.35"/>
<text transform="translate(78.8,388.6) scale(1,1.06)" text-anchor="end" class="t">60</text>
<line x1="94.5" y1="339.3" x2="113.5" y2="339.3" stroke="#000" stroke-width="1.35"/>
<text transform="translate(78.8,350.6) scale(1,1.06)" text-anchor="end" class="t">80</text>
<line x1="94.5" y1="301.3" x2="113.5" y2="301.3" stroke="#000" stroke-width="1.35"/>
<text transform="translate(78.8,312.6) scale(1,1.06)" text-anchor="end" class="t">100</text>
<line x1="165.3" y1="498.9" x2="165.3" y2="517.9" stroke="#000" stroke-width="1.35"/>
<text transform="translate(177.9,518.8) rotate(-90) scale(1,1.06)" text-anchor="end" class="t c">20</text>
<line x1="195.7" y1="498.9" x2="195.7" y2="517.9" stroke="#000" stroke-width="1.35"/>
<text transform="translate(208.3,518.8) rotate(-90) scale(1,1.06)" text-anchor="end" class="t c">17</text>
<line x1="226.2" y1="498.9" x2="226.2" y2="517.9" stroke="#000" stroke-width="1.35"/>
<text transform="translate(238.7,518.8) rotate(-90) scale(1,1.06)" text-anchor="end" class="t c">14</text>
<line x1="256.6" y1="498.9" x2="256.6" y2="517.9" stroke="#000" stroke-width="1.35"/>
<text transform="translate(269.1,518.8) rotate(-90) scale(1,1.06)" text-anchor="end" class="t c">35</text>
<line x1="287.1" y1="498.9" x2="287.1" y2="517.9" stroke="#000" stroke-width="1.35"/>
<text transform="translate(299.5,518.8) rotate(-90) scale(1,1.06)" text-anchor="end" class="t c">9</text>
<line x1="317.5" y1="498.9" x2="317.5" y2="517.9" stroke="#000" stroke-width="1.35"/>
<text transform="translate(329.9,518.8) rotate(-90) scale(1,1.06)" text-anchor="end" class="t c">34</text>
<line x1="347.9" y1="498.9" x2="347.9" y2="517.9" stroke="#000" stroke-width="1.35"/>
<text transform="translate(360.3,518.8) rotate(-90) scale(1,1.06)" text-anchor="end" class="t c">2</text>
<line x1="378.4" y1="498.9" x2="378.4" y2="517.9" stroke="#000" stroke-width="1.35"/>
<text transform="translate(390.7,518.8) rotate(-90) scale(1,1.06)" text-anchor="end" class="t c">1</text>
<line x1="408.8" y1="498.9" x2="408.8" y2="517.9" stroke="#000" stroke-width="1.35"/>
<text transform="translate(421.1,518.8) rotate(-90) scale(1,1.06)" text-anchor="end" class="t c">2</text>
<line x1="439.3" y1="498.9" x2="439.3" y2="517.9" stroke="#000" stroke-width="1.35"/>
<text transform="translate(451.5,518.8) rotate(-90) scale(1,1.06)" text-anchor="end" class="t c">2</text>
<line x1="469.7" y1="498.9" x2="469.7" y2="517.9" stroke="#000" stroke-width="1.35"/>
<text transform="translate(481.9,518.8) rotate(-90) scale(1,1.06)" text-anchor="end" class="t c">10</text>
<line x1="500.2" y1="498.9" x2="500.2" y2="517.9" stroke="#000" stroke-width="1.35"/>
<text transform="translate(512.3,518.8) rotate(-90) scale(1,1.06)" text-anchor="end" class="t c">8</text>
<line x1="530.6" y1="498.9" x2="530.6" y2="517.9" stroke="#000" stroke-width="1.35"/>
<text transform="translate(542.7,518.8) rotate(-90) scale(1,1.06)" text-anchor="end" class="t c">4</text>
<line x1="561.1" y1="498.9" x2="561.1" y2="517.9" stroke="#000" stroke-width="1.35"/>
<text transform="translate(573.1,518.8) rotate(-90) scale(1,1.06)" text-anchor="end" class="t c">30</text>
<line x1="591.5" y1="498.9" x2="591.5" y2="517.9" stroke="#000" stroke-width="1.35"/>
<text transform="translate(603.5,518.8) rotate(-90) scale(1,1.06)" text-anchor="end" class="t c">31</text>
<line x1="622.0" y1="498.9" x2="622.0" y2="517.9" stroke="#000" stroke-width="1.35"/>
<text transform="translate(633.9,518.8) rotate(-90) scale(1,1.06)" text-anchor="end" class="t c">4</text>
<line x1="652.4" y1="498.9" x2="652.4" y2="517.9" stroke="#000" stroke-width="1.35"/>
<text transform="translate(664.3,518.8) rotate(-90) scale(1,1.06)" text-anchor="end" class="t c">8</text>
<line x1="682.9" y1="498.9" x2="682.9" y2="517.9" stroke="#000" stroke-width="1.35"/>
<text transform="translate(694.7,518.8) rotate(-90) scale(1,1.06)" text-anchor="end" class="t c">7</text>
<line x1="713.3" y1="498.9" x2="713.3" y2="517.9" stroke="#000" stroke-width="1.35"/>
<text transform="translate(725.1,518.8) rotate(-90) scale(1,1.06)" text-anchor="end" class="t c">72</text>
<line x1="743.8" y1="498.9" x2="743.8" y2="517.9" stroke="#000" stroke-width="1.35"/>
<text transform="translate(755.5,518.8) rotate(-90) scale(1,1.06)" text-anchor="end" class="t c">18</text>
<line x1="774.2" y1="498.9" x2="774.2" y2="517.9" stroke="#000" stroke-width="1.35"/>
<text transform="translate(785.9,518.8) rotate(-90) scale(1,1.06)" text-anchor="end" class="t c">16</text>
<line x1="804.7" y1="498.9" x2="804.7" y2="517.9" stroke="#000" stroke-width="1.35"/>
<text transform="translate(816.3,518.8) rotate(-90) scale(1,1.06)" text-anchor="end" class="t c">15</text>
<line x1="835.1" y1="498.9" x2="835.1" y2="517.9" stroke="#000" stroke-width="1.35"/>
<text transform="translate(846.7,518.8) rotate(-90) scale(1,1.06)" text-anchor="end" class="t c">83</text>
<line x1="865.6" y1="498.9" x2="865.6" y2="517.9" stroke="#000" stroke-width="1.35"/>
<text transform="translate(877.1,518.8) rotate(-90) scale(1,1.06)" text-anchor="end" class="t c">11</text>
<line x1="896.0" y1="498.9" x2="896.0" y2="517.9" stroke="#000" stroke-width="1.35"/>
<text transform="translate(907.5,518.8) rotate(-90) scale(1,1.06)" text-anchor="end" class="t c">24</text>
<line x1="926.4" y1="498.9" x2="926.4" y2="517.9" stroke="#000" stroke-width="1.35"/>
<text transform="translate(937.9,518.8) rotate(-90) scale(1,1.06)" text-anchor="end" class="t c">47</text>
<line x1="956.9" y1="498.9" x2="956.9" y2="517.9" stroke="#000" stroke-width="1.35"/>
<text transform="translate(968.3,518.8) rotate(-90) scale(1,1.06)" text-anchor="end" class="t c">3</text>
<line x1="987.3" y1="498.9" x2="987.3" y2="517.9" stroke="#000" stroke-width="1.35"/>
<text transform="translate(998.7,518.8) rotate(-90) scale(1,1.06)" text-anchor="end" class="t c">33</text>
<line x1="1017.8" y1="498.9" x2="1017.8" y2="517.9" stroke="#000" stroke-width="1.35"/>
<text transform="translate(1029.1,518.8) rotate(-90) scale(1,1.06)" text-anchor="end" class="t c">13</text>
<line x1="1048.2" y1="498.9" x2="1048.2" y2="517.9" stroke="#000" stroke-width="1.35"/>
<text transform="translate(1059.5,518.8) rotate(-90) scale(1,1.06)" text-anchor="end" class="t c">336</text>
<text transform="translate(1113,361.4) scale(1,1.06)" class="t" style="font-style:italic;fill:#38383b">NTS2</text>
<text transform="translate(1113,397.4) scale(1,1.06)" class="t">C817A</text>
<text transform="translate(1113,433.4) scale(1,1.06)" class="t">n = 909</text>
<line x1="189.5" y1="781.8" x2="201.9" y2="781.8" stroke="#000" stroke-width="1.35"/>
<line x1="189.5" y1="781.8" x2="201.9" y2="781.8" stroke="#000" stroke-width="1.35"/>
<rect x="183.3" y="781.8" width="24.8" height="0.0" fill="#f0cfaf" stroke="#000" stroke-width="1.35"/>
<line x1="183.3" y1="781.8" x2="208.1" y2="781.8" stroke="#000" stroke-width="1.35"/>
<circle class="p" cx="195.8" cy="781.8" r="4.8"/>
<line x1="250.4" y1="592.9" x2="262.8" y2="592.9" stroke="#000" stroke-width="1.35"/>
<line x1="250.4" y1="592.9" x2="262.8" y2="592.9" stroke="#000" stroke-width="1.35"/>
<rect x="244.2" y="592.9" width="24.8" height="0.0" fill="#f0cfaf" stroke="#000" stroke-width="1.35"/>
<line x1="244.2" y1="592.9" x2="269.0" y2="592.9" stroke="#000" stroke-width="1.35"/>
<circle class="p" cx="256.1" cy="592.9" r="4.8"/>
<circle class="p" cx="254.9" cy="592.9" r="4.8"/>
<circle class="p" cx="254.4" cy="592.9" r="4.8"/>
<circle class="p" cx="256.5" cy="592.9" r="4.8"/>
<circle class="p" cx="257.4" cy="592.9" r="4.8"/>
<circle class="p" cx="257.3" cy="592.9" r="4.8"/>
<circle class="p" cx="257.8" cy="592.9" r="4.8"/>
<circle class="p" cx="256.2" cy="592.9" r="4.8"/>
<circle class="p" cx="253.9" cy="592.9" r="4.8"/>
<circle class="p" cx="255.0" cy="592.9" r="4.8"/>
<circle class="p" cx="258.3" cy="592.9" r="4.8"/>
<circle class="p" cx="256.1" cy="592.9" r="4.8"/>
<circle class="p" cx="257.0" cy="592.9" r="4.8"/>
<circle class="p" cx="257.7" cy="592.9" r="4.8"/>
<circle class="p" cx="258.1" cy="592.9" r="4.8"/>
<circle class="p" cx="254.6" cy="592.9" r="4.8"/>
<circle class="p" cx="256.4" cy="592.9" r="4.8"/>
<circle class="p" cx="257.5" cy="592.9" r="4.8"/>
<circle class="p" cx="259.2" cy="592.9" r="4.8"/>
<circle class="p" cx="255.3" cy="592.9" r="4.8"/>
<circle class="p" cx="259.0" cy="592.9" r="4.8"/>
<circle class="p" cx="258.7" cy="592.9" r="4.8"/>
<circle class="p" cx="256.8" cy="592.9" r="4.8"/>
<circle class="p" cx="257.1" cy="592.9" r="4.8"/>
<circle class="p" cx="259.2" cy="592.9" r="4.8"/>
<circle class="p" cx="256.2" cy="592.9" r="4.8"/>
<circle class="p" cx="255.3" cy="592.9" r="4.8"/>
<circle class="p" cx="258.4" cy="592.9" r="4.8"/>
<circle class="p" cx="254.2" cy="592.9" r="4.8"/>
<circle class="p" cx="257.9" cy="592.9" r="4.8"/>
<circle class="p" cx="257.5" cy="592.9" r="4.8"/>
<circle class="p" cx="256.0" cy="592.9" r="4.8"/>
<circle class="p" cx="259.2" cy="594.2" r="4.8"/>
<circle class="p" cx="257.3" cy="593.7" r="4.8"/>
<line x1="280.9" y1="592.9" x2="293.3" y2="592.9" stroke="#000" stroke-width="1.35"/>
<line x1="280.9" y1="592.9" x2="293.3" y2="592.9" stroke="#000" stroke-width="1.35"/>
<rect x="274.7" y="592.9" width="24.8" height="0.0" fill="#f0cfaf" stroke="#000" stroke-width="1.35"/>
<line x1="274.7" y1="592.9" x2="299.5" y2="592.9" stroke="#000" stroke-width="1.35"/>
<circle class="p" cx="285.0" cy="592.9" r="4.8"/>
<circle class="p" cx="286.6" cy="592.9" r="4.8"/>
<circle class="p" cx="289.8" cy="592.9" r="4.8"/>
<circle class="p" cx="284.6" cy="592.9" r="4.8"/>
<circle class="p" cx="288.9" cy="592.9" r="4.8"/>
<circle class="p" cx="287.3" cy="592.9" r="4.8"/>
<circle class="p" cx="288.8" cy="592.9" r="4.8"/>
<circle class="p" cx="289.6" cy="592.9" r="4.8"/>
<circle class="p" cx="284.6" cy="592.9" r="4.8"/>
<line x1="317.5" y1="692.6" x2="317.5" y2="728.4" stroke="#000" stroke-width="1.35" stroke-dasharray="12 18"/>
<line x1="317.5" y1="781.0" x2="317.5" y2="778.7" stroke="#000" stroke-width="1.35" stroke-dasharray="12 18"/>
<line x1="311.3" y1="692.6" x2="323.7" y2="692.6" stroke="#000" stroke-width="1.35"/>
<line x1="311.3" y1="781.0" x2="323.7" y2="781.0" stroke="#000" stroke-width="1.35"/>
<rect x="305.1" y="728.4" width="24.8" height="50.3" fill="#f0cfaf" stroke="#000" stroke-width="1.35"/>
<line x1="305.1" y1="757.6" x2="329.9" y2="757.6" stroke="#000" stroke-width="1.35"/>
<circle class="p" cx="317.1" cy="614.6" r="4.8"/>
<circle class="p" cx="317.4" cy="648.4" r="4.8"/>
<circle class="p" cx="317.5" cy="692.6" r="4.8"/>
<circle class="p" cx="319.5" cy="726.3" r="4.8"/>
<circle class="p" cx="314.9" cy="728.4" r="4.8"/>
<circle class="p" cx="315.6" cy="731.6" r="4.8"/>
<circle class="p" cx="319.0" cy="735.4" r="4.8"/>
<circle class="p" cx="319.4" cy="753.6" r="4.8"/>
<circle class="p" cx="320.2" cy="762.0" r="4.8"/>
<circle class="p" cx="315.0" cy="776.2" r="4.8"/>
<circle class="p" cx="319.5" cy="777.2" r="4.8"/>
<circle class="p" cx="314.6" cy="778.1" r="4.8"/>
<circle class="p" cx="319.2" cy="779.1" r="4.8"/>
<circle class="p" cx="315.9" cy="780.0" r="4.8"/>
<circle class="p" cx="320.0" cy="781.0" r="4.8"/>
<circle class="p" cx="318.3" cy="781.4" r="4.8"/>
<line x1="341.7" y1="592.9" x2="354.1" y2="592.9" stroke="#000" stroke-width="1.35"/>
<line x1="341.7" y1="592.9" x2="354.1" y2="592.9" stroke="#000" stroke-width="1.35"/>
<rect x="335.5" y="592.9" width="24.8" height="0.0" fill="#f0cfaf" stroke="#000" stroke-width="1.35"/>
<line x1="335.5" y1="592.9" x2="360.3" y2="592.9" stroke="#000" stroke-width="1.35"/>
<circle class="p" cx="347.8" cy="592.9" r="4.8"/>
<circle class="p" cx="345.9" cy="592.9" r="4.8"/>
<line x1="372.2" y1="592.9" x2="384.6" y2="592.9" stroke="#000" stroke-width="1.35"/>
<line x1="372.2" y1="592.9" x2="384.6" y2="592.9" stroke="#000" stroke-width="1.35"/>
<rect x="366.0" y="592.9" width="24.8" height="0.0" fill="#f0cfaf" stroke="#000" stroke-width="1.35"/>
<line x1="366.0" y1="592.9" x2="390.8" y2="592.9" stroke="#000" stroke-width="1.35"/>
<circle class="p" cx="380.7" cy="592.9" r="4.8"/>
<line x1="402.6" y1="592.9" x2="415.0" y2="592.9" stroke="#000" stroke-width="1.35"/>
<line x1="402.6" y1="592.9" x2="415.0" y2="592.9" stroke="#000" stroke-width="1.35"/>
<rect x="396.4" y="592.9" width="24.8" height="0.0" fill="#f0cfaf" stroke="#000" stroke-width="1.35"/>
<line x1="396.4" y1="592.9" x2="421.2" y2="592.9" stroke="#000" stroke-width="1.35"/>
<circle class="p" cx="408.2" cy="592.9" r="4.8"/>
<circle class="p" cx="411.5" cy="592.9" r="4.8"/>
<line x1="433.1" y1="592.9" x2="445.5" y2="592.9" stroke="#000" stroke-width="1.35"/>
<line x1="433.1" y1="594.8" x2="445.5" y2="594.8" stroke="#000" stroke-width="1.35"/>
<rect x="426.9" y="592.9" width="24.8" height="1.9" fill="#f0cfaf" stroke="#000" stroke-width="1.35"/>
<line x1="426.9" y1="593.9" x2="451.7" y2="593.9" stroke="#000" stroke-width="1.35"/>
<circle class="p" cx="436.5" cy="592.9" r="4.8"/>
<circle class="p" cx="438.9" cy="594.8" r="4.8"/>
<line x1="463.5" y1="592.9" x2="475.9" y2="592.9" stroke="#000" stroke-width="1.35"/>
<line x1="463.5" y1="592.9" x2="475.9" y2="592.9" stroke="#000" stroke-width="1.35"/>
<rect x="457.3" y="592.9" width="24.8" height="0.0" fill="#f0cfaf" stroke="#000" stroke-width="1.35"/>
<line x1="457.3" y1="592.9" x2="482.1" y2="592.9" stroke="#000" stroke-width="1.35"/>
<circle class="p" cx="467.0" cy="592.9" r="4.8"/>
<circle class="p" cx="468.4" cy="592.9" r="4.8"/>
<circle class="p" cx="472.5" cy="592.9" r="4.8"/>
<circle class="p" cx="468.8" cy="592.9" r="4.8"/>
<circle class="p" cx="467.0" cy="592.9" r="4.8"/>
<circle class="p" cx="469.0" cy="592.9" r="4.8"/>
<circle class="p" cx="471.0" cy="592.9" r="4.8"/>
<circle class="p" cx="471.1" cy="592.9" r="4.8"/>
<circle class="p" cx="471.6" cy="592.9" r="4.8"/>
<circle class="p" cx="467.4" cy="592.9" r="4.8"/>
<line x1="494.0" y1="592.9" x2="506.4" y2="592.9" stroke="#000" stroke-width="1.35"/>
<line x1="494.0" y1="592.9" x2="506.4" y2="592.9" stroke="#000" stroke-width="1.35"/>
<rect x="487.8" y="592.9" width="24.8" height="0.0" fill="#f0cfaf" stroke="#000" stroke-width="1.35"/>
<line x1="487.8" y1="592.9" x2="512.6" y2="592.9" stroke="#000" stroke-width="1.35"/>
<circle class="p" cx="500.3" cy="592.9" r="4.8"/>
<circle class="p" cx="499.7" cy="592.9" r="4.8"/>
<circle class="p" cx="499.7" cy="592.9" r="4.8"/>
<circle class="p" cx="500.8" cy="592.9" r="4.8"/>
<circle class="p" cx="497.8" cy="592.9" r="4.8"/>
<circle class="p" cx="502.4" cy="592.9" r="4.8"/>
<circle class="p" cx="502.1" cy="592.9" r="4.8"/>
<circle class="p" cx="500.7" cy="592.9" r="4.8"/>
<line x1="524.4" y1="592.9" x2="536.8" y2="592.9" stroke="#000" stroke-width="1.35"/>
<line x1="524.4" y1="592.9" x2="536.8" y2="592.9" stroke="#000" stroke-width="1.35"/>
<rect x="518.2" y="592.9" width="24.8" height="0.0" fill="#f0cfaf" stroke="#000" stroke-width="1.35"/>
<line x1="518.2" y1="592.9" x2="543.0" y2="592.9" stroke="#000" stroke-width="1.35"/>
<circle class="p" cx="529.4" cy="592.9" r="4.8"/>
<circle class="p" cx="527.8" cy="592.9" r="4.8"/>
<circle class="p" cx="531.1" cy="592.9" r="4.8"/>
<circle class="p" cx="533.4" cy="592.9" r="4.8"/>
<line x1="585.3" y1="592.9" x2="597.7" y2="592.9" stroke="#000" stroke-width="1.35"/>
<line x1="585.3" y1="592.9" x2="597.7" y2="592.9" stroke="#000" stroke-width="1.35"/>
<rect x="579.1" y="592.9" width="24.8" height="0.0" fill="#f0cfaf" stroke="#000" stroke-width="1.35"/>
<line x1="579.1" y1="592.9" x2="603.9" y2="592.9" stroke="#000" stroke-width="1.35"/>
<circle class="p" cx="594.3" cy="592.9" r="4.8"/>
<circle class="p" cx="593.6" cy="592.9" r="4.8"/>
<circle class="p" cx="594.3" cy="592.9" r="4.8"/>
<circle class="p" cx="592.7" cy="592.9" r="4.8"/>
<circle class="p" cx="590.3" cy="592.9" r="4.8"/>
<circle class="p" cx="593.1" cy="592.9" r="4.8"/>
<circle class="p" cx="592.9" cy="592.9" r="4.8"/>
<circle class="p" cx="592.5" cy="592.9" r="4.8"/>
<circle class="p" cx="593.3" cy="592.9" r="4.8"/>
<circle class="p" cx="593.6" cy="592.9" r="4.8"/>
<circle class="p" cx="594.1" cy="592.9" r="4.8"/>
<circle class="p" cx="590.9" cy="592.9" r="4.8"/>
<circle class="p" cx="594.0" cy="592.9" r="4.8"/>
<circle class="p" cx="589.0" cy="592.9" r="4.8"/>
<circle class="p" cx="592.8" cy="592.9" r="4.8"/>
<circle class="p" cx="592.4" cy="592.9" r="4.8"/>
<circle class="p" cx="590.4" cy="592.9" r="4.8"/>
<circle class="p" cx="591.7" cy="592.9" r="4.8"/>
<circle class="p" cx="590.8" cy="592.9" r="4.8"/>
<circle class="p" cx="593.2" cy="592.9" r="4.8"/>
<circle class="p" cx="592.2" cy="592.9" r="4.8"/>
<circle class="p" cx="592.5" cy="592.9" r="4.8"/>
<circle class="p" cx="593.5" cy="592.9" r="4.8"/>
<circle class="p" cx="589.9" cy="592.9" r="4.8"/>
<circle class="p" cx="589.0" cy="592.9" r="4.8"/>
<circle class="p" cx="593.9" cy="592.9" r="4.8"/>
<circle class="p" cx="593.5" cy="592.9" r="4.8"/>
<circle class="p" cx="589.9" cy="592.9" r="4.8"/>
<circle class="p" cx="589.5" cy="598.6" r="4.8"/>
<circle class="p" cx="593.4" cy="603.2" r="4.8"/>
<circle class="p" cx="589.6" cy="603.2" r="4.8"/>
<line x1="615.8" y1="592.9" x2="628.2" y2="592.9" stroke="#000" stroke-width="1.35"/>
<line x1="615.8" y1="592.9" x2="628.2" y2="592.9" stroke="#000" stroke-width="1.35"/>
<rect x="609.6" y="592.9" width="24.8" height="0.0" fill="#f0cfaf" stroke="#000" stroke-width="1.35"/>
<line x1="609.6" y1="592.9" x2="634.4" y2="592.9" stroke="#000" stroke-width="1.35"/>
<circle class="p" cx="621.4" cy="592.9" r="4.8"/>
<circle class="p" cx="620.5" cy="592.9" r="4.8"/>
<circle class="p" cx="620.0" cy="592.9" r="4.8"/>
<circle class="p" cx="622.6" cy="592.9" r="4.8"/>
<line x1="646.2" y1="592.9" x2="658.6" y2="592.9" stroke="#000" stroke-width="1.35"/>
<line x1="646.2" y1="592.9" x2="658.6" y2="592.9" stroke="#000" stroke-width="1.35"/>
<rect x="640.0" y="592.9" width="24.8" height="0.0" fill="#f0cfaf" stroke="#000" stroke-width="1.35"/>
<line x1="640.0" y1="592.9" x2="664.8" y2="592.9" stroke="#000" stroke-width="1.35"/>
<circle class="p" cx="654.0" cy="592.9" r="4.8"/>
<circle class="p" cx="652.0" cy="592.9" r="4.8"/>
<circle class="p" cx="653.4" cy="592.9" r="4.8"/>
<circle class="p" cx="651.2" cy="592.9" r="4.8"/>
<circle class="p" cx="650.7" cy="592.9" r="4.8"/>
<circle class="p" cx="652.6" cy="592.9" r="4.8"/>
<circle class="p" cx="650.0" cy="592.9" r="4.8"/>
<line x1="682.9" y1="592.9" x2="682.9" y2="597.5" stroke="#000" stroke-width="1.35" stroke-dasharray="12 18"/>
<line x1="682.9" y1="640.6" x2="682.9" y2="629.8" stroke="#000" stroke-width="1.35" stroke-dasharray="12 18"/>
<line x1="676.7" y1="592.9" x2="689.1" y2="592.9" stroke="#000" stroke-width="1.35"/>
<line x1="676.7" y1="640.6" x2="689.1" y2="640.6" stroke="#000" stroke-width="1.35"/>
<rect x="670.5" y="597.5" width="24.8" height="32.3" fill="#f0cfaf" stroke="#000" stroke-width="1.35"/>
<line x1="670.5" y1="612.7" x2="695.3" y2="612.7" stroke="#000" stroke-width="1.35"/>
<circle class="p" cx="685.6" cy="592.9" r="4.8"/>
<circle class="p" cx="681.3" cy="597.5" r="4.8"/>
<circle class="p" cx="684.9" cy="598.6" r="4.8"/>
<circle class="p" cx="682.2" cy="612.7" r="4.8"/>
<circle class="p" cx="683.3" cy="620.5" r="4.8"/>
<circle class="p" cx="681.5" cy="640.4" r="4.8"/>
<circle class="p" cx="681.3" cy="640.6" r="4.8"/>
<line x1="713.3" y1="749.6" x2="713.3" y2="761.4" stroke="#000" stroke-width="1.35" stroke-dasharray="12 18"/>
<line x1="713.3" y1="782.9" x2="713.3" y2="780.0" stroke="#000" stroke-width="1.35" stroke-dasharray="12 18"/>
<line x1="707.1" y1="749.6" x2="719.5" y2="749.6" stroke="#000" stroke-width="1.35"/>
<line x1="707.1" y1="782.9" x2="719.5" y2="782.9" stroke="#000" stroke-width="1.35"/>
<rect x="700.9" y="761.4" width="24.8" height="18.6" fill="#f0cfaf" stroke="#000" stroke-width="1.35"/>
<line x1="700.9" y1="777.8" x2="725.7" y2="777.8" stroke="#000" stroke-width="1.35"/>
<circle class="p" cx="712.9" cy="733.5" r="4.8"/>
<circle class="p" cx="713.1" cy="749.6" r="4.8"/>
<circle class="p" cx="710.3" cy="757.4" r="4.8"/>
<circle class="p" cx="714.4" cy="758.2" r="4.8"/>
<circle class="p" cx="712.2" cy="764.3" r="4.8"/>
<circle class="p" cx="714.4" cy="771.5" r="4.8"/>
<circle class="p" cx="715.0" cy="771.9" r="4.8"/>
<circle class="p" cx="715.9" cy="777.2" r="4.8"/>
<circle class="p" cx="713.2" cy="778.1" r="4.8"/>
<circle class="p" cx="712.3" cy="779.1" r="4.8"/>
<circle class="p" cx="711.1" cy="779.9" r="4.8"/>
<circle class="p" cx="713.8" cy="780.6" r="4.8"/>
<circle class="p" cx="712.9" cy="781.0" r="4.8"/>
<circle class="p" cx="713.1" cy="781.6" r="4.8"/>
<circle class="p" cx="712.8" cy="781.9" r="4.8"/>
<circle class="p" cx="711.3" cy="782.5" r="4.8"/>
<line x1="743.8" y1="781.2" x2="743.8" y2="777.0" stroke="#000" stroke-width="1.35" stroke-dasharray="12 18"/>
<line x1="737.6" y1="763.5" x2="750.0" y2="763.5" stroke="#000" stroke-width="1.35"/>
<line x1="737.6" y1="781.2" x2="750.0" y2="781.2" stroke="#000" stroke-width="1.35"/>
<rect x="731.4" y="763.5" width="24.8" height="13.5" fill="#f0cfaf" stroke="#000" stroke-width="1.35"/>
<line x1="731.4" y1="775.9" x2="756.2" y2="775.9" stroke="#000" stroke-width="1.35"/>
<circle class="p" cx="743.4" cy="623.1" r="4.8"/>
<circle class="p" cx="741.5" cy="763.5" r="4.8"/>
<circle class="p" cx="746.6" cy="773.4" r="4.8"/>
<circle class="p" cx="740.9" cy="776.2" r="4.8"/>
<circle class="p" cx="742.7" cy="781.2" r="4.8"/>
<line x1="774.2" y1="653.9" x2="774.2" y2="681.4" stroke="#000" stroke-width="1.35" stroke-dasharray="12 18"/>
<line x1="768.0" y1="653.9" x2="780.4" y2="653.9" stroke="#000" stroke-width="1.35"/>
<line x1="768.0" y1="780.4" x2="780.4" y2="780.4" stroke="#000" stroke-width="1.35"/>
<rect x="761.8" y="681.4" width="24.8" height="99.0" fill="#f0cfaf" stroke="#000" stroke-width="1.35"/>
<line x1="761.8" y1="707.3" x2="786.6" y2="707.3" stroke="#000" stroke-width="1.35"/>
<circle class="p" cx="773.1" cy="653.9" r="4.8"/>
<circle class="p" cx="772.2" cy="657.5" r="4.8"/>
<circle class="p" cx="774.6" cy="681.4" r="4.8"/>
<circle class="p" cx="772.5" cy="707.3" r="4.8"/>
<circle class="p" cx="771.2" cy="780.4" r="4.8"/>
<line x1="804.7" y1="607.1" x2="804.7" y2="629.4" stroke="#000" stroke-width="1.35" stroke-dasharray="12 18"/>
<line x1="804.7" y1="756.3" x2="804.7" y2="693.2" stroke="#000" stroke-width="1.35" stroke-dasharray="12 18"/>
<line x1="798.5" y1="607.1" x2="810.9" y2="607.1" stroke="#000" stroke-width="1.35"/>
<line x1="798.5" y1="756.3" x2="810.9" y2="756.3" stroke="#000" stroke-width="1.35"/>
<rect x="792.3" y="629.4" width="24.8" height="63.8" fill="#f0cfaf" stroke="#000" stroke-width="1.35"/>
<line x1="792.3" y1="637.5" x2="817.1" y2="637.5" stroke="#000" stroke-width="1.35"/>
<circle class="p" cx="802.5" cy="607.1" r="4.8"/>
<circle class="p" cx="804.4" cy="611.3" r="4.8"/>
<circle class="p" cx="803.8" cy="625.2" r="4.8"/>
<circle class="p" cx="801.9" cy="629.4" r="4.8"/>
<circle class="p" cx="802.9" cy="632.8" r="4.8"/>
<circle class="p" cx="802.0" cy="635.6" r="4.8"/>
<circle class="p" cx="806.8" cy="638.5" r="4.8"/>
<circle class="p" cx="803.9" cy="640.4" r="4.8"/>
<circle class="p" cx="806.8" cy="670.0" r="4.8"/>
<circle class="p" cx="806.2" cy="716.6" r="4.8"/>
<circle class="p" cx="803.3" cy="726.9" r="4.8"/>
<circle class="p" cx="805.9" cy="756.3" r="4.8"/>
<line x1="835.1" y1="592.9" x2="835.1" y2="595.2" stroke="#000" stroke-width="1.35" stroke-dasharray="12 18"/>
<line x1="835.1" y1="782.9" x2="835.1" y2="745.5" stroke="#000" stroke-width="1.35" stroke-dasharray="12 18"/>
<line x1="828.9" y1="592.9" x2="841.3" y2="592.9" stroke="#000" stroke-width="1.35"/>
<line x1="828.9" y1="782.9" x2="841.3" y2="782.9" stroke="#000" stroke-width="1.35"/>
<rect x="822.7" y="595.2" width="24.8" height="150.3" fill="#f0cfaf" stroke="#000" stroke-width="1.35"/>
<line x1="822.7" y1="663.8" x2="847.5" y2="663.8" stroke="#000" stroke-width="1.35"/>
<circle class="p" cx="835.2" cy="592.9" r="4.8"/>
<circle class="p" cx="836.0" cy="592.9" r="4.8"/>
<circle class="p" cx="837.7" cy="592.9" r="4.8"/>
<circle class="p" cx="833.9" cy="592.9" r="4.8"/>
<circle class="p" cx="836.0" cy="592.9" r="4.8"/>
<circle class="p" cx="833.8" cy="592.9" r="4.8"/>
<circle class="p" cx="833.9" cy="592.9" r="4.8"/>
<circle class="p" cx="834.4" cy="592.9" r="4.8"/>
<circle class="p" cx="837.8" cy="592.9" r="4.8"/>
<circle class="p" cx="837.9" cy="594.8" r="4.8"/>
<circle class="p" cx="836.1" cy="596.7" r="4.8"/>
<circle class="p" cx="837.7" cy="606.2" r="4.8"/>
<circle class="p" cx="833.4" cy="613.8" r="4.8"/>
<circle class="p" cx="835.2" cy="619.7" r="4.8"/>
<circle class="p" cx="837.9" cy="623.1" r="4.8"/>
<circle class="p" cx="833.5" cy="656.9" r="4.8"/>
<circle class="p" cx="835.7" cy="659.4" r="4.8"/>
<circle class="p" cx="834.4" cy="663.2" r="4.8"/>
<circle class="p" cx="833.4" cy="669.7" r="4.8"/>
<circle class="p" cx="832.8" cy="684.1" r="4.8"/>
<circle class="p" cx="832.5" cy="686.0" r="4.8"/>
<circle class="p" cx="835.7" cy="695.9" r="4.8"/>
<circle class="p" cx="832.6" cy="697.4" r="4.8"/>
<circle class="p" cx="837.8" cy="705.0" r="4.8"/>
<circle class="p" cx="833.6" cy="706.9" r="4.8"/>
<circle class="p" cx="836.7" cy="716.2" r="4.8"/>
<circle class="p" cx="835.2" cy="719.4" r="4.8"/>
<circle class="p" cx="837.8" cy="736.4" r="4.8"/>
<circle class="p" cx="833.2" cy="739.0" r="4.8"/>
<circle class="p" cx="837.5" cy="741.1" r="4.8"/>
<circle class="p" cx="836.8" cy="750.8" r="4.8"/>
<circle class="p" cx="837.4" cy="761.8" r="4.8"/>
<circle class="p" cx="835.8" cy="763.9" r="4.8"/>
<circle class="p" cx="833.6" cy="765.8" r="4.8"/>
<circle class="p" cx="834.7" cy="767.7" r="4.8"/>
<circle class="p" cx="832.3" cy="769.6" r="4.8"/>
<circle class="p" cx="832.5" cy="771.5" r="4.8"/>
<circle class="p" cx="836.3" cy="773.4" r="4.8"/>
<circle class="p" cx="832.3" cy="775.3" r="4.8"/>
<circle class="p" cx="834.8" cy="776.2" r="4.8"/>
<circle class="p" cx="832.4" cy="777.2" r="4.8"/>
<circle class="p" cx="836.4" cy="778.1" r="4.8"/>
<circle class="p" cx="836.5" cy="779.1" r="4.8"/>
<circle class="p" cx="833.3" cy="780.0" r="4.8"/>
<circle class="p" cx="832.8" cy="781.0" r="4.8"/>
<circle class="p" cx="832.1" cy="781.4" r="4.8"/>
<circle class="p" cx="834.9" cy="781.9" r="4.8"/>
<circle class="p" cx="832.4" cy="782.3" r="4.8"/>
<circle class="p" cx="833.0" cy="668.9" r="4.8"/>
<circle class="p" cx="834.1" cy="674.6" r="4.8"/>
<circle class="p" cx="837.5" cy="691.7" r="4.8"/>
<circle class="p" cx="836.3" cy="710.7" r="4.8"/>
<circle class="p" cx="837.2" cy="725.9" r="4.8"/>
<circle class="p" cx="837.2" cy="744.9" r="4.8"/>
<circle class="p" cx="832.8" cy="756.3" r="4.8"/>
<circle class="p" cx="835.1" cy="778.7" r="4.8"/>
<circle class="p" cx="837.2" cy="780.6" r="4.8"/>
<line x1="859.4" y1="592.9" x2="871.8" y2="592.9" stroke="#000" stroke-width="1.35"/>
<line x1="859.4" y1="592.9" x2="871.8" y2="592.9" stroke="#000" stroke-width="1.35"/>
<rect x="853.2" y="592.9" width="24.8" height="0.0" fill="#f0cfaf" stroke="#000" stroke-width="1.35"/>
<line x1="853.2" y1="592.9" x2="878.0" y2="592.9" stroke="#000" stroke-width="1.35"/>
<circle class="p" cx="862.8" cy="592.9" r="4.8"/>
<circle class="p" cx="867.3" cy="592.9" r="4.8"/>
<circle class="p" cx="866.8" cy="592.9" r="4.8"/>
<circle class="p" cx="866.5" cy="592.9" r="4.8"/>
<circle class="p" cx="866.9" cy="592.9" r="4.8"/>
<circle class="p" cx="865.5" cy="592.9" r="4.8"/>
<circle class="p" cx="867.6" cy="592.9" r="4.8"/>
<circle class="p" cx="866.1" cy="592.9" r="4.8"/>
<circle class="p" cx="868.1" cy="592.9" r="4.8"/>
<circle class="p" cx="865.2" cy="592.9" r="4.8"/>
<circle class="p" cx="865.8" cy="592.9" r="4.8"/>
<line x1="889.8" y1="592.9" x2="902.2" y2="592.9" stroke="#000" stroke-width="1.35"/>
<line x1="889.8" y1="592.9" x2="902.2" y2="592.9" stroke="#000" stroke-width="1.35"/>
<rect x="883.6" y="592.9" width="24.8" height="0.0" fill="#f0cfaf" stroke="#000" stroke-width="1.35"/>
<line x1="883.6" y1="592.9" x2="908.4" y2="592.9" stroke="#000" stroke-width="1.35"/>
<circle class="p" cx="896.5" cy="592.9" r="4.8"/>
<circle class="p" cx="894.7" cy="592.9" r="4.8"/>
<circle class="p" cx="897.0" cy="592.9" r="4.8"/>
<circle class="p" cx="894.8" cy="592.9" r="4.8"/>
<circle class="p" cx="896.1" cy="592.9" r="4.8"/>
<circle class="p" cx="895.3" cy="592.9" r="4.8"/>
<circle class="p" cx="898.4" cy="592.9" r="4.8"/>
<circle class="p" cx="896.7" cy="592.9" r="4.8"/>
<circle class="p" cx="898.0" cy="592.9" r="4.8"/>
<circle class="p" cx="897.2" cy="592.9" r="4.8"/>
<circle class="p" cx="898.9" cy="592.9" r="4.8"/>
<circle class="p" cx="898.9" cy="592.9" r="4.8"/>
<circle class="p" cx="893.5" cy="592.9" r="4.8"/>
<circle class="p" cx="894.0" cy="592.9" r="4.8"/>
<circle class="p" cx="898.1" cy="592.9" r="4.8"/>
<circle class="p" cx="896.3" cy="592.9" r="4.8"/>
<circle class="p" cx="896.2" cy="592.9" r="4.8"/>
<circle class="p" cx="896.9" cy="592.9" r="4.8"/>
<circle class="p" cx="895.0" cy="592.9" r="4.8"/>
<circle class="p" cx="897.6" cy="592.9" r="4.8"/>
<circle class="p" cx="893.9" cy="592.9" r="4.8"/>
<circle class="p" cx="895.9" cy="592.9" r="4.8"/>
<circle class="p" cx="898.7" cy="592.9" r="4.8"/>
<circle class="p" cx="893.5" cy="610.2" r="4.8"/>
<line x1="920.2" y1="592.9" x2="932.6" y2="592.9" stroke="#000" stroke-width="1.35"/>
<line x1="920.2" y1="592.9" x2="932.6" y2="592.9" stroke="#000" stroke-width="1.35"/>
<rect x="914.0" y="592.9" width="24.8" height="0.0" fill="#f0cfaf" stroke="#000" stroke-width="1.35"/>
<line x1="914.0" y1="592.9" x2="938.8" y2="592.9" stroke="#000" stroke-width="1.35"/>
<circle class="p" cx="923.9" cy="592.9" r="4.8"/>
<circle class="p" cx="927.4" cy="592.9" r="4.8"/>
<circle class="p" cx="928.8" cy="592.9" r="4.8"/>
<circle class="p" cx="925.6" cy="592.9" r="4.8"/>
<circle class="p" cx="926.9" cy="592.9" r="4.8"/>
<circle class="p" cx="927.5" cy="592.9" r="4.8"/>
<circle class="p" cx="927.8" cy="592.9" r="4.8"/>
<circle class="p" cx="928.3" cy="592.9" r="4.8"/>
<circle class="p" cx="929.1" cy="592.9" r="4.8"/>
<circle class="p" cx="925.0" cy="592.9" r="4.8"/>
<circle class="p" cx="923.7" cy="592.9" r="4.8"/>
<circle class="p" cx="928.8" cy="592.9" r="4.8"/>
<circle class="p" cx="927.2" cy="592.9" r="4.8"/>
<circle class="p" cx="926.6" cy="592.9" r="4.8"/>
<circle class="p" cx="925.6" cy="592.9" r="4.8"/>
<circle class="p" cx="924.7" cy="592.9" r="4.8"/>
<circle class="p" cx="923.5" cy="592.9" r="4.8"/>
<circle class="p" cx="925.6" cy="592.9" r="4.8"/>
<circle class="p" cx="925.2" cy="592.9" r="4.8"/>
<circle class="p" cx="924.1" cy="592.9" r="4.8"/>
<circle class="p" cx="929.1" cy="592.9" r="4.8"/>
<circle class="p" cx="926.2" cy="592.9" r="4.8"/>
<circle class="p" cx="929.1" cy="592.9" r="4.8"/>
<circle class="p" cx="925.9" cy="592.9" r="4.8"/>
<circle class="p" cx="927.2" cy="592.9" r="4.8"/>
<circle class="p" cx="927.2" cy="592.9" r="4.8"/>
<circle class="p" cx="925.5" cy="592.9" r="4.8"/>
<circle class="p" cx="927.9" cy="592.9" r="4.8"/>
<circle class="p" cx="925.5" cy="592.9" r="4.8"/>
<circle class="p" cx="929.4" cy="592.9" r="4.8"/>
<circle class="p" cx="923.6" cy="592.9" r="4.8"/>
<circle class="p" cx="926.4" cy="592.9" r="4.8"/>
<circle class="p" cx="925.1" cy="592.9" r="4.8"/>
<circle class="p" cx="926.8" cy="592.9" r="4.8"/>
<circle class="p" cx="924.9" cy="592.9" r="4.8"/>
<circle class="p" cx="927.4" cy="592.9" r="4.8"/>
<circle class="p" cx="925.1" cy="592.9" r="4.8"/>
<circle class="p" cx="927.1" cy="592.9" r="4.8"/>
<circle class="p" cx="929.3" cy="592.9" r="4.8"/>
<circle class="p" cx="926.7" cy="592.9" r="4.8"/>
<circle class="p" cx="925.8" cy="592.9" r="4.8"/>
<circle class="p" cx="923.7" cy="592.9" r="4.8"/>
<circle class="p" cx="926.6" cy="592.9" r="4.8"/>
<circle class="p" cx="924.6" cy="592.9" r="4.8"/>
<circle class="p" cx="926.7" cy="592.9" r="4.8"/>
<circle class="p" cx="923.7" cy="592.9" r="4.8"/>
<circle class="p" cx="927.4" cy="592.9" r="4.8"/>
<line x1="950.7" y1="592.9" x2="963.1" y2="592.9" stroke="#000" stroke-width="1.35"/>
<line x1="950.7" y1="592.9" x2="963.1" y2="592.9" stroke="#000" stroke-width="1.35"/>
<rect x="944.5" y="592.9" width="24.8" height="0.0" fill="#f0cfaf" stroke="#000" stroke-width="1.35"/>
<line x1="944.5" y1="592.9" x2="969.3" y2="592.9" stroke="#000" stroke-width="1.35"/>
<circle class="p" cx="954.3" cy="592.9" r="4.8"/>
<circle class="p" cx="959.2" cy="592.9" r="4.8"/>
<circle class="p" cx="956.7" cy="592.9" r="4.8"/>
<line x1="981.1" y1="592.9" x2="993.5" y2="592.9" stroke="#000" stroke-width="1.35"/>
<line x1="981.1" y1="592.9" x2="993.5" y2="592.9" stroke="#000" stroke-width="1.35"/>
<rect x="974.9" y="592.9" width="24.8" height="0.0" fill="#f0cfaf" stroke="#000" stroke-width="1.35"/>
<line x1="974.9" y1="592.9" x2="999.7" y2="592.9" stroke="#000" stroke-width="1.35"/>
<circle class="p" cx="988.1" cy="592.9" r="4.8"/>
<circle class="p" cx="989.7" cy="592.9" r="4.8"/>
<circle class="p" cx="988.3" cy="592.9" r="4.8"/>
<circle class="p" cx="989.7" cy="592.9" r="4.8"/>
<circle class="p" cx="986.8" cy="592.9" r="4.8"/>
<circle class="p" cx="988.7" cy="592.9" r="4.8"/>
<circle class="p" cx="987.1" cy="592.9" r="4.8"/>
<circle class="p" cx="985.1" cy="592.9" r="4.8"/>
<circle class="p" cx="987.9" cy="592.9" r="4.8"/>
<circle class="p" cx="988.3" cy="592.9" r="4.8"/>
<circle class="p" cx="985.9" cy="592.9" r="4.8"/>
<circle class="p" cx="989.5" cy="592.9" r="4.8"/>
<circle class="p" cx="988.6" cy="592.9" r="4.8"/>
<circle class="p" cx="985.3" cy="592.9" r="4.8"/>
<circle class="p" cx="988.4" cy="592.9" r="4.8"/>
<circle class="p" cx="986.8" cy="592.9" r="4.8"/>
<circle class="p" cx="984.8" cy="592.9" r="4.8"/>
<circle class="p" cx="988.0" cy="592.9" r="4.8"/>
<circle class="p" cx="987.4" cy="592.9" r="4.8"/>
<circle class="p" cx="988.4" cy="592.9" r="4.8"/>
<circle class="p" cx="987.4" cy="592.9" r="4.8"/>
<circle class="p" cx="984.6" cy="592.9" r="4.8"/>
<circle class="p" cx="987.3" cy="592.9" r="4.8"/>
<circle class="p" cx="985.2" cy="592.9" r="4.8"/>
<circle class="p" cx="988.7" cy="592.9" r="4.8"/>
<circle class="p" cx="984.5" cy="609.0" r="4.8"/>
<circle class="p" cx="986.7" cy="729.7" r="4.8"/>
<circle class="p" cx="989.4" cy="781.2" r="4.8"/>
<line x1="1017.8" y1="619.5" x2="1017.8" y2="622.0" stroke="#000" stroke-width="1.35" stroke-dasharray="12 18"/>
<line x1="1017.8" y1="777.0" x2="1017.8" y2="744.3" stroke="#000" stroke-width="1.35" stroke-dasharray="12 18"/>
<line x1="1011.6" y1="619.5" x2="1024.0" y2="619.5" stroke="#000" stroke-width="1.35"/>
<line x1="1011.6" y1="777.0" x2="1024.0" y2="777.0" stroke="#000" stroke-width="1.35"/>
<rect x="1005.4" y="622.0" width="24.8" height="122.4" fill="#f0cfaf" stroke="#000" stroke-width="1.35"/>
<line x1="1005.4" y1="637.5" x2="1030.2" y2="637.5" stroke="#000" stroke-width="1.35"/>
<circle class="p" cx="1018.3" cy="619.5" r="4.8"/>
<circle class="p" cx="1019.7" cy="620.5" r="4.8"/>
<circle class="p" cx="1019.6" cy="621.4" r="4.8"/>
<circle class="p" cx="1018.4" cy="622.0" r="4.8"/>
<circle class="p" cx="1018.1" cy="630.9" r="4.8"/>
<circle class="p" cx="1020.2" cy="637.5" r="4.8"/>
<circle class="p" cx="1017.6" cy="662.1" r="4.8"/>
<circle class="p" cx="1016.7" cy="663.2" r="4.8"/>
<circle class="p" cx="1016.4" cy="744.3" r="4.8"/>
<circle class="p" cx="1018.8" cy="771.5" r="4.8"/>
<circle class="p" cx="1020.6" cy="772.4" r="4.8"/>
<circle class="p" cx="1016.5" cy="775.3" r="4.8"/>
<circle class="p" cx="1015.7" cy="777.0" r="4.8"/>
<line x1="1048.2" y1="622.4" x2="1048.2" y2="637.5" stroke="#000" stroke-width="1.35" stroke-dasharray="12 18"/>
<line x1="1048.2" y1="782.9" x2="1048.2" y2="774.5" stroke="#000" stroke-width="1.35" stroke-dasharray="12 18"/>
<line x1="1042.0" y1="622.4" x2="1054.4" y2="622.4" stroke="#000" stroke-width="1.35"/>
<line x1="1042.0" y1="782.9" x2="1054.4" y2="782.9" stroke="#000" stroke-width="1.35"/>
<rect x="1035.8" y="637.5" width="24.8" height="137.0" fill="#f0cfaf" stroke="#000" stroke-width="1.35"/>
<line x1="1035.8" y1="755.9" x2="1060.6" y2="755.9" stroke="#000" stroke-width="1.35"/>
<circle class="p" cx="1051.2" cy="592.9" r="4.8"/>
<circle class="p" cx="1048.8" cy="592.9" r="4.8"/>
<circle class="p" cx="1048.3" cy="592.9" r="4.8"/>
<circle class="p" cx="1048.2" cy="592.9" r="4.8"/>
<circle class="p" cx="1048.1" cy="592.9" r="4.8"/>
<circle class="p" cx="1048.8" cy="599.4" r="4.8"/>
<circle class="p" cx="1046.1" cy="607.9" r="4.8"/>
<circle class="p" cx="1047.9" cy="622.4" r="4.8"/>
<circle class="p" cx="1049.4" cy="637.5" r="4.8"/>
<circle class="p" cx="1049.4" cy="640.4" r="4.8"/>
<circle class="p" cx="1045.4" cy="644.2" r="4.8"/>
<circle class="p" cx="1046.6" cy="646.1" r="4.8"/>
<circle class="p" cx="1047.3" cy="671.4" r="4.8"/>
<circle class="p" cx="1050.7" cy="679.7" r="4.8"/>
<circle class="p" cx="1046.0" cy="688.3" r="4.8"/>
<circle class="p" cx="1049.1" cy="689.8" r="4.8"/>
<circle class="p" cx="1049.9" cy="690.8" r="4.8"/>
<circle class="p" cx="1046.8" cy="691.7" r="4.8"/>
<circle class="p" cx="1050.1" cy="707.3" r="4.8"/>
<circle class="p" cx="1050.8" cy="737.3" r="4.8"/>
<circle class="p" cx="1045.9" cy="739.2" r="4.8"/>
<circle class="p" cx="1045.5" cy="752.5" r="4.8"/>
<circle class="p" cx="1048.3" cy="754.4" r="4.8"/>
<circle class="p" cx="1047.2" cy="755.9" r="4.8"/>
<circle class="p" cx="1048.3" cy="756.3" r="4.8"/>
<circle class="p" cx="1048.2" cy="758.2" r="4.8"/>
<circle class="p" cx="1048.1" cy="760.1" r="4.8"/>
<circle class="p" cx="1049.3" cy="763.9" r="4.8"/>
<circle class="p" cx="1049.9" cy="764.3" r="4.8"/>
<circle class="p" cx="1046.9" cy="764.9" r="4.8"/>
<circle class="p" cx="1047.5" cy="770.9" r="4.8"/>
<circle class="p" cx="1048.8" cy="771.5" r="4.8"/>
<circle class="p" cx="1047.5" cy="772.4" r="4.8"/>
<circle class="p" cx="1051.1" cy="774.5" r="4.8"/>
<circle class="p" cx="1048.7" cy="776.2" r="4.8"/>
<circle class="p" cx="1047.9" cy="777.2" r="4.8"/>
<circle class="p" cx="1046.1" cy="777.6" r="4.8"/>
<circle class="p" cx="1046.4" cy="778.1" r="4.8"/>
<circle class="p" cx="1046.3" cy="778.7" r="4.8"/>
<circle class="p" cx="1050.2" cy="779.1" r="4.8"/>
<circle class="p" cx="1048.6" cy="779.5" r="4.8"/>
<circle class="p" cx="1048.9" cy="780.0" r="4.8"/>
<circle class="p" cx="1048.9" cy="780.6" r="4.8"/>
<circle class="p" cx="1048.6" cy="781.0" r="4.8"/>
<circle class="p" cx="1048.0" cy="781.4" r="4.8"/>
<circle class="p" cx="1050.5" cy="781.8" r="4.8"/>
<circle class="p" cx="1046.2" cy="782.1" r="4.8"/>
<circle class="p" cx="1050.9" cy="782.5" r="4.8"/>
<circle class="p" cx="1046.2" cy="778.0" r="4.8"/>
<circle class="p" cx="1045.9" cy="779.9" r="4.8"/>
<circle class="p" cx="1046.1" cy="776.8" r="4.8"/>
<circle class="p" cx="1045.4" cy="641.4" r="4.8"/>
<rect x="113.5" y="585.3" width="986.5" height="205.2" fill="none" stroke="#000" stroke-width="1.35"/>
<line x1="94.5" y1="782.9" x2="113.5" y2="782.9" stroke="#000" stroke-width="1.35"/>
<text transform="translate(78.8,794.2) scale(1,1.06)" text-anchor="end" class="t">0</text>
<line x1="94.5" y1="744.9" x2="113.5" y2="744.9" stroke="#000" stroke-width="1.35"/>
<text transform="translate(78.8,756.2) scale(1,1.06)" text-anchor="end" class="t">20</text>
<line x1="94.5" y1="706.9" x2="113.5" y2="706.9" stroke="#000" stroke-width="1.35"/>
<text transform="translate(78.8,718.2) scale(1,1.06)" text-anchor="end" class="t">40</text>
<line x1="94.5" y1="668.9" x2="113.5" y2="668.9" stroke="#000" stroke-width="1.35"/>
<text transform="translate(78.8,680.2) scale(1,1.06)" text-anchor="end" class="t">60</text>
<line x1="94.5" y1="630.9" x2="113.5" y2="630.9" stroke="#000" stroke-width="1.35"/>
<text transform="translate(78.8,642.2) scale(1,1.06)" text-anchor="end" class="t">80</text>
<line x1="94.5" y1="592.9" x2="113.5" y2="592.9" stroke="#000" stroke-width="1.35"/>
<text transform="translate(78.8,604.2) scale(1,1.06)" text-anchor="end" class="t">100</text>
<line x1="165.3" y1="790.5" x2="165.3" y2="809.5" stroke="#000" stroke-width="1.35"/>
<text transform="translate(177.9,810.4) rotate(-90) scale(1,1.06)" text-anchor="end" class="t c">0</text>
<line x1="195.7" y1="790.5" x2="195.7" y2="809.5" stroke="#000" stroke-width="1.35"/>
<text transform="translate(208.3,810.4) rotate(-90) scale(1,1.06)" text-anchor="end" class="t c">1</text>
<line x1="226.2" y1="790.5" x2="226.2" y2="809.5" stroke="#000" stroke-width="1.35"/>
<text transform="translate(238.7,810.4) rotate(-90) scale(1,1.06)" text-anchor="end" class="t c">0</text>
<line x1="256.6" y1="790.5" x2="256.6" y2="809.5" stroke="#000" stroke-width="1.35"/>
<text transform="translate(269.1,810.4) rotate(-90) scale(1,1.06)" text-anchor="end" class="t c">34</text>
<line x1="287.1" y1="790.5" x2="287.1" y2="809.5" stroke="#000" stroke-width="1.35"/>
<text transform="translate(299.5,810.4) rotate(-90) scale(1,1.06)" text-anchor="end" class="t c">9</text>
<line x1="317.5" y1="790.5" x2="317.5" y2="809.5" stroke="#000" stroke-width="1.35"/>
<text transform="translate(329.9,810.4) rotate(-90) scale(1,1.06)" text-anchor="end" class="t c">16</text>
<line x1="347.9" y1="790.5" x2="347.9" y2="809.5" stroke="#000" stroke-width="1.35"/>
<text transform="translate(360.3,810.4) rotate(-90) scale(1,1.06)" text-anchor="end" class="t c">2</text>
<line x1="378.4" y1="790.5" x2="378.4" y2="809.5" stroke="#000" stroke-width="1.35"/>
<text transform="translate(390.7,810.4) rotate(-90) scale(1,1.06)" text-anchor="end" class="t c">1</text>
<line x1="408.8" y1="790.5" x2="408.8" y2="809.5" stroke="#000" stroke-width="1.35"/>
<text transform="translate(421.1,810.4) rotate(-90) scale(1,1.06)" text-anchor="end" class="t c">2</text>
<line x1="439.3" y1="790.5" x2="439.3" y2="809.5" stroke="#000" stroke-width="1.35"/>
<text transform="translate(451.5,810.4) rotate(-90) scale(1,1.06)" text-anchor="end" class="t c">2</text>
<line x1="469.7" y1="790.5" x2="469.7" y2="809.5" stroke="#000" stroke-width="1.35"/>
<text transform="translate(481.9,810.4) rotate(-90) scale(1,1.06)" text-anchor="end" class="t c">10</text>
<line x1="500.2" y1="790.5" x2="500.2" y2="809.5" stroke="#000" stroke-width="1.35"/>
<text transform="translate(512.3,810.4) rotate(-90) scale(1,1.06)" text-anchor="end" class="t c">8</text>
<line x1="530.6" y1="790.5" x2="530.6" y2="809.5" stroke="#000" stroke-width="1.35"/>
<text transform="translate(542.7,810.4) rotate(-90) scale(1,1.06)" text-anchor="end" class="t c">4</text>
<line x1="561.1" y1="790.5" x2="561.1" y2="809.5" stroke="#000" stroke-width="1.35"/>
<text transform="translate(573.1,810.4) rotate(-90) scale(1,1.06)" text-anchor="end" class="t c">0</text>
<line x1="591.5" y1="790.5" x2="591.5" y2="809.5" stroke="#000" stroke-width="1.35"/>
<text transform="translate(603.5,810.4) rotate(-90) scale(1,1.06)" text-anchor="end" class="t c">31</text>
<line x1="622.0" y1="790.5" x2="622.0" y2="809.5" stroke="#000" stroke-width="1.35"/>
<text transform="translate(633.9,810.4) rotate(-90) scale(1,1.06)" text-anchor="end" class="t c">4</text>
<line x1="652.4" y1="790.5" x2="652.4" y2="809.5" stroke="#000" stroke-width="1.35"/>
<text transform="translate(664.3,810.4) rotate(-90) scale(1,1.06)" text-anchor="end" class="t c">7</text>
<line x1="682.9" y1="790.5" x2="682.9" y2="809.5" stroke="#000" stroke-width="1.35"/>
<text transform="translate(694.7,810.4) rotate(-90) scale(1,1.06)" text-anchor="end" class="t c">7</text>
<line x1="713.3" y1="790.5" x2="713.3" y2="809.5" stroke="#000" stroke-width="1.35"/>
<text transform="translate(725.1,810.4) rotate(-90) scale(1,1.06)" text-anchor="end" class="t c">16</text>
<line x1="743.8" y1="790.5" x2="743.8" y2="809.5" stroke="#000" stroke-width="1.35"/>
<text transform="translate(755.5,810.4) rotate(-90) scale(1,1.06)" text-anchor="end" class="t c">5</text>
<line x1="774.2" y1="790.5" x2="774.2" y2="809.5" stroke="#000" stroke-width="1.35"/>
<text transform="translate(785.9,810.4) rotate(-90) scale(1,1.06)" text-anchor="end" class="t c">5</text>
<line x1="804.7" y1="790.5" x2="804.7" y2="809.5" stroke="#000" stroke-width="1.35"/>
<text transform="translate(816.3,810.4) rotate(-90) scale(1,1.06)" text-anchor="end" class="t c">12</text>
<line x1="835.1" y1="790.5" x2="835.1" y2="809.5" stroke="#000" stroke-width="1.35"/>
<text transform="translate(846.7,810.4) rotate(-90) scale(1,1.06)" text-anchor="end" class="t c">59</text>
<line x1="865.6" y1="790.5" x2="865.6" y2="809.5" stroke="#000" stroke-width="1.35"/>
<text transform="translate(877.1,810.4) rotate(-90) scale(1,1.06)" text-anchor="end" class="t c">11</text>
<line x1="896.0" y1="790.5" x2="896.0" y2="809.5" stroke="#000" stroke-width="1.35"/>
<text transform="translate(907.5,810.4) rotate(-90) scale(1,1.06)" text-anchor="end" class="t c">24</text>
<line x1="926.4" y1="790.5" x2="926.4" y2="809.5" stroke="#000" stroke-width="1.35"/>
<text transform="translate(937.9,810.4) rotate(-90) scale(1,1.06)" text-anchor="end" class="t c">47</text>
<line x1="956.9" y1="790.5" x2="956.9" y2="809.5" stroke="#000" stroke-width="1.35"/>
<text transform="translate(968.3,810.4) rotate(-90) scale(1,1.06)" text-anchor="end" class="t c">3</text>
<line x1="987.3" y1="790.5" x2="987.3" y2="809.5" stroke="#000" stroke-width="1.35"/>
<text transform="translate(998.7,810.4) rotate(-90) scale(1,1.06)" text-anchor="end" class="t c">28</text>
<line x1="1017.8" y1="790.5" x2="1017.8" y2="809.5" stroke="#000" stroke-width="1.35"/>
<text transform="translate(1029.1,810.4) rotate(-90) scale(1,1.06)" text-anchor="end" class="t c">13</text>
<line x1="1048.2" y1="790.5" x2="1048.2" y2="809.5" stroke="#000" stroke-width="1.35"/>
<text transform="translate(1059.5,810.4) rotate(-90) scale(1,1.06)" text-anchor="end" class="t c">53</text>
<text transform="translate(1113,644.7) scale(1,1.06)" class="t" style="font-style:italic;fill:#df780a">ETS1</text>
<text transform="translate(1113,680.7) scale(1,1.06)" class="t">G8934A</text>
<text transform="translate(1113,716.7) scale(1,1.06)" class="t">n = 414</text>
<line x1="165.3" y1="868.7" x2="165.3" y2="869.6" stroke="#000" stroke-width="1.35" stroke-dasharray="12 18"/>
<line x1="165.3" y1="874.4" x2="165.3" y2="871.5" stroke="#000" stroke-width="1.35" stroke-dasharray="12 18"/>
<line x1="159.1" y1="868.7" x2="171.5" y2="868.7" stroke="#000" stroke-width="1.35"/>
<line x1="159.1" y1="874.4" x2="171.5" y2="874.4" stroke="#000" stroke-width="1.35"/>
<rect x="152.9" y="869.6" width="24.8" height="1.9" fill="#f0cfaf" stroke="#000" stroke-width="1.35"/>
<line x1="152.9" y1="870.6" x2="177.7" y2="870.6" stroke="#000" stroke-width="1.35"/>
<circle class="p" cx="165.2" cy="868.7" r="4.8"/>
<circle class="p" cx="164.4" cy="869.0" r="4.8"/>
<circle class="p" cx="166.6" cy="869.6" r="4.8"/>
<circle class="p" cx="164.9" cy="869.6" r="4.8"/>
<circle class="p" cx="165.0" cy="869.6" r="4.8"/>
<circle class="p" cx="162.4" cy="870.0" r="4.8"/>
<circle class="p" cx="164.3" cy="870.4" r="4.8"/>
<circle class="p" cx="165.1" cy="870.6" r="4.8"/>
<circle class="p" cx="165.0" cy="870.6" r="4.8"/>
<circle class="p" cx="162.8" cy="870.7" r="4.8"/>
<circle class="p" cx="164.0" cy="871.1" r="4.8"/>
<circle class="p" cx="164.3" cy="871.5" r="4.8"/>
<circle class="p" cx="167.7" cy="871.5" r="4.8"/>
<circle class="p" cx="166.6" cy="871.9" r="4.8"/>
<circle class="p" cx="167.7" cy="872.5" r="4.8"/>
<circle class="p" cx="162.5" cy="872.8" r="4.8"/>
<circle class="p" cx="163.6" cy="873.4" r="4.8"/>
<circle class="p" cx="165.5" cy="875.3" r="4.8"/>
<circle class="p" cx="162.6" cy="877.6" r="4.8"/>
<line x1="195.7" y1="868.7" x2="195.7" y2="870.0" stroke="#000" stroke-width="1.35" stroke-dasharray="12 18"/>
<line x1="195.7" y1="873.4" x2="195.7" y2="871.5" stroke="#000" stroke-width="1.35" stroke-dasharray="12 18"/>
<line x1="189.5" y1="868.7" x2="201.9" y2="868.7" stroke="#000" stroke-width="1.35"/>
<line x1="189.5" y1="873.4" x2="201.9" y2="873.4" stroke="#000" stroke-width="1.35"/>
<rect x="183.3" y="870.0" width="24.8" height="1.5" fill="#f0cfaf" stroke="#000" stroke-width="1.35"/>
<line x1="183.3" y1="870.9" x2="208.1" y2="870.9" stroke="#000" stroke-width="1.35"/>
<circle class="p" cx="194.1" cy="868.7" r="4.8"/>
<circle class="p" cx="196.1" cy="869.2" r="4.8"/>
<circle class="p" cx="192.7" cy="869.6" r="4.8"/>
<circle class="p" cx="195.1" cy="870.0" r="4.8"/>
<circle class="p" cx="192.9" cy="870.0" r="4.8"/>
<circle class="p" cx="194.2" cy="870.4" r="4.8"/>
<circle class="p" cx="198.1" cy="870.6" r="4.8"/>
<circle class="p" cx="195.0" cy="870.9" r="4.8"/>
<circle class="p" cx="194.3" cy="870.9" r="4.8"/>
<circle class="p" cx="198.2" cy="871.1" r="4.8"/>
<circle class="p" cx="197.8" cy="871.5" r="4.8"/>
<circle class="p" cx="194.2" cy="871.5" r="4.8"/>
<circle class="p" cx="195.3" cy="871.9" r="4.8"/>
<circle class="p" cx="193.9" cy="872.3" r="4.8"/>
<circle class="p" cx="197.3" cy="872.6" r="4.8"/>
<circle class="p" cx="195.4" cy="873.0" r="4.8"/>
<circle class="p" cx="197.3" cy="873.4" r="4.8"/>
<line x1="311.3" y1="875.7" x2="323.7" y2="875.7" stroke="#000" stroke-width="1.35"/>
<line x1="311.3" y1="977.1" x2="323.7" y2="977.1" stroke="#000" stroke-width="1.35"/>
<rect x="305.1" y="875.7" width="24.8" height="101.5" fill="#f0cfaf" stroke="#000" stroke-width="1.35"/>
<line x1="305.1" y1="926.6" x2="329.9" y2="926.6" stroke="#000" stroke-width="1.35"/>
<circle class="p" cx="319.0" cy="875.7" r="4.8"/>
<circle class="p" cx="315.3" cy="977.1" r="4.8"/>
<line x1="561.1" y1="868.7" x2="561.1" y2="870.9" stroke="#000" stroke-width="1.35" stroke-dasharray="12 18"/>
<line x1="561.1" y1="875.3" x2="561.1" y2="873.4" stroke="#000" stroke-width="1.35" stroke-dasharray="12 18"/>
<line x1="554.9" y1="868.7" x2="567.3" y2="868.7" stroke="#000" stroke-width="1.35"/>
<line x1="554.9" y1="875.3" x2="567.3" y2="875.3" stroke="#000" stroke-width="1.35"/>
<rect x="548.7" y="870.9" width="24.8" height="2.5" fill="#f0cfaf" stroke="#000" stroke-width="1.35"/>
<line x1="548.7" y1="872.5" x2="573.5" y2="872.5" stroke="#000" stroke-width="1.35"/>
<circle class="p" cx="558.9" cy="867.7" r="4.8"/>
<circle class="p" cx="562.5" cy="868.7" r="4.8"/>
<circle class="p" cx="563.3" cy="869.0" r="4.8"/>
<circle class="p" cx="559.2" cy="869.6" r="4.8"/>
<circle class="p" cx="563.2" cy="869.6" r="4.8"/>
<circle class="p" cx="559.3" cy="870.0" r="4.8"/>
<circle class="p" cx="560.1" cy="870.6" r="4.8"/>
<circle class="p" cx="561.9" cy="870.9" r="4.8"/>
<circle class="p" cx="559.0" cy="871.5" r="4.8"/>
<circle class="p" cx="561.1" cy="871.5" r="4.8"/>
<circle class="p" cx="560.7" cy="871.9" r="4.8"/>
<circle class="p" cx="558.7" cy="872.3" r="4.8"/>
<circle class="p" cx="558.4" cy="872.5" r="4.8"/>
<circle class="p" cx="560.7" cy="872.5" r="4.8"/>
<circle class="p" cx="561.1" cy="872.8" r="4.8"/>
<circle class="p" cx="561.1" cy="873.0" r="4.8"/>
<circle class="p" cx="558.5" cy="873.4" r="4.8"/>
<circle class="p" cx="560.7" cy="873.4" r="4.8"/>
<circle class="p" cx="563.9" cy="873.8" r="4.8"/>
<circle class="p" cx="562.3" cy="874.2" r="4.8"/>
<circle class="p" cx="560.0" cy="874.5" r="4.8"/>
<circle class="p" cx="562.2" cy="874.9" r="4.8"/>
<circle class="p" cx="560.5" cy="875.3" r="4.8"/>
<circle class="p" cx="561.5" cy="875.3" r="4.8"/>
<circle class="p" cx="558.8" cy="876.2" r="4.8"/>
<circle class="p" cx="558.1" cy="877.2" r="4.8"/>
<circle class="p" cx="562.3" cy="878.2" r="4.8"/>
<circle class="p" cx="560.8" cy="880.4" r="4.8"/>
<circle class="p" cx="558.4" cy="892.8" r="4.8"/>
<circle class="p" cx="564.1" cy="882.9" r="4.8"/>
<line x1="713.3" y1="867.7" x2="713.3" y2="871.5" stroke="#000" stroke-width="1.35" stroke-dasharray="12 18"/>
<line x1="713.3" y1="892.4" x2="713.3" y2="879.3" stroke="#000" stroke-width="1.35" stroke-dasharray="12 18"/>
<line x1="707.1" y1="867.7" x2="719.5" y2="867.7" stroke="#000" stroke-width="1.35"/>
<line x1="707.1" y1="892.4" x2="719.5" y2="892.4" stroke="#000" stroke-width="1.35"/>
<rect x="700.9" y="871.5" width="24.8" height="7.8" fill="#f0cfaf" stroke="#000" stroke-width="1.35"/>
<line x1="700.9" y1="875.3" x2="725.7" y2="875.3" stroke="#000" stroke-width="1.35"/>
<circle class="p" cx="714.1" cy="867.7" r="4.8"/>
<circle class="p" cx="711.7" cy="867.7" r="4.8"/>
<circle class="p" cx="713.3" cy="867.7" r="4.8"/>
<circle class="p" cx="715.1" cy="867.7" r="4.8"/>
<circle class="p" cx="713.2" cy="867.7" r="4.8"/>
<circle class="p" cx="714.6" cy="867.7" r="4.8"/>
<circle class="p" cx="710.4" cy="867.7" r="4.8"/>
<circle class="p" cx="715.1" cy="867.7" r="4.8"/>
<circle class="p" cx="713.7" cy="867.7" r="4.8"/>
<circle class="p" cx="712.4" cy="867.7" r="4.8"/>
<circle class="p" cx="712.8" cy="867.7" r="4.8"/>
<circle class="p" cx="715.6" cy="867.7" r="4.8"/>
<circle class="p" cx="716.0" cy="867.7" r="4.8"/>
<circle class="p" cx="712.1" cy="867.7" r="4.8"/>
<circle class="p" cx="715.3" cy="868.7" r="4.8"/>
<circle class="p" cx="712.3" cy="869.2" r="4.8"/>
<circle class="p" cx="713.5" cy="869.6" r="4.8"/>
<circle class="p" cx="710.7" cy="870.0" r="4.8"/>
<circle class="p" cx="712.5" cy="870.6" r="4.8"/>
<circle class="p" cx="713.3" cy="870.9" r="4.8"/>
<circle class="p" cx="710.6" cy="871.5" r="4.8"/>
<circle class="p" cx="715.8" cy="871.9" r="4.8"/>
<circle class="p" cx="714.9" cy="872.5" r="4.8"/>
<circle class="p" cx="715.7" cy="872.8" r="4.8"/>
<circle class="p" cx="713.4" cy="873.4" r="4.8"/>
<circle class="p" cx="711.4" cy="873.8" r="4.8"/>
<circle class="p" cx="712.6" cy="874.4" r="4.8"/>
<circle class="p" cx="710.7" cy="874.7" r="4.8"/>
<circle class="p" cx="713.4" cy="875.3" r="4.8"/>
<circle class="p" cx="713.1" cy="875.3" r="4.8"/>
<circle class="p" cx="711.9" cy="875.7" r="4.8"/>
<circle class="p" cx="715.0" cy="876.2" r="4.8"/>
<circle class="p" cx="714.4" cy="876.6" r="4.8"/>
<circle class="p" cx="716.2" cy="877.2" r="4.8"/>
<circle class="p" cx="712.7" cy="877.6" r="4.8"/>
<circle class="p" cx="714.0" cy="878.2" r="4.8"/>
<circle class="p" cx="711.2" cy="878.7" r="4.8"/>
<circle class="p" cx="712.7" cy="879.1" r="4.8"/>
<circle class="p" cx="714.6" cy="879.5" r="4.8"/>
<circle class="p" cx="712.2" cy="880.1" r="4.8"/>
<circle class="p" cx="715.0" cy="881.0" r="4.8"/>
<circle class="p" cx="713.4" cy="882.0" r="4.8"/>
<circle class="p" cx="711.4" cy="882.9" r="4.8"/>
<circle class="p" cx="710.9" cy="883.9" r="4.8"/>
<circle class="p" cx="710.7" cy="884.8" r="4.8"/>
<circle class="p" cx="714.0" cy="885.8" r="4.8"/>
<circle class="p" cx="711.8" cy="886.7" r="4.8"/>
<circle class="p" cx="712.3" cy="887.7" r="4.8"/>
<circle class="p" cx="715.6" cy="888.6" r="4.8"/>
<circle class="p" cx="710.5" cy="889.6" r="4.8"/>
<circle class="p" cx="713.2" cy="890.5" r="4.8"/>
<circle class="p" cx="714.4" cy="891.5" r="4.8"/>
<circle class="p" cx="711.7" cy="892.4" r="4.8"/>
<circle class="p" cx="716.1" cy="872.1" r="4.8"/>
<circle class="p" cx="715.6" cy="874.9" r="4.8"/>
<circle class="p" cx="714.2" cy="877.0" r="4.8"/>
<circle class="p" cx="711.4" cy="880.4" r="4.8"/>
<circle class="p" cx="712.1" cy="884.4" r="4.8"/>
<circle class="p" cx="711.8" cy="868.3" r="4.8"/>
<circle class="p" cx="711.8" cy="870.4" r="4.8"/>
<circle class="p" cx="710.8" cy="873.2" r="4.8"/>
<circle class="p" cx="715.5" cy="876.1" r="4.8"/>
<circle class="p" cx="714.9" cy="878.9" r="4.8"/>
<circle class="p" cx="710.5" cy="881.4" r="4.8"/>
<circle class="p" cx="716.0" cy="907.6" r="4.8"/>
<circle class="p" cx="713.5" cy="921.7" r="4.8"/>
<circle class="p" cx="715.6" cy="942.4" r="4.8"/>
<circle class="p" cx="712.2" cy="976.6" r="4.8"/>
<line x1="737.6" y1="890.5" x2="750.0" y2="890.5" stroke="#000" stroke-width="1.35"/>
<line x1="737.6" y1="1051.4" x2="750.0" y2="1051.4" stroke="#000" stroke-width="1.35"/>
<rect x="731.4" y="890.5" width="24.8" height="160.9" fill="#f0cfaf" stroke="#000" stroke-width="1.35"/>
<line x1="731.4" y1="970.9" x2="756.2" y2="970.9" stroke="#000" stroke-width="1.35"/>
<circle class="p" cx="745.6" cy="890.5" r="4.8"/>
<circle class="p" cx="741.6" cy="1051.4" r="4.8"/>
<line x1="798.5" y1="892.0" x2="810.9" y2="892.0" stroke="#000" stroke-width="1.35"/>
<line x1="798.5" y1="892.0" x2="810.9" y2="892.0" stroke="#000" stroke-width="1.35"/>
<rect x="792.3" y="892.0" width="24.8" height="0.0" fill="#f0cfaf" stroke="#000" stroke-width="1.35"/>
<line x1="792.3" y1="892.0" x2="817.1" y2="892.0" stroke="#000" stroke-width="1.35"/>
<circle class="p" cx="802.7" cy="892.0" r="4.8"/>
<line x1="835.1" y1="867.7" x2="835.1" y2="870.9" stroke="#000" stroke-width="1.35" stroke-dasharray="12 18"/>
<line x1="835.1" y1="910.8" x2="835.1" y2="886.9" stroke="#000" stroke-width="1.35" stroke-dasharray="12 18"/>
<line x1="828.9" y1="867.7" x2="841.3" y2="867.7" stroke="#000" stroke-width="1.35"/>
<line x1="828.9" y1="910.8" x2="841.3" y2="910.8" stroke="#000" stroke-width="1.35"/>
<rect x="822.7" y="870.9" width="24.8" height="16.0" fill="#f0cfaf" stroke="#000" stroke-width="1.35"/>
<line x1="822.7" y1="878.2" x2="847.5" y2="878.2" stroke="#000" stroke-width="1.35"/>
<circle class="p" cx="835.3" cy="867.7" r="4.8"/>
<circle class="p" cx="836.3" cy="867.7" r="4.8"/>
<circle class="p" cx="834.5" cy="868.7" r="4.8"/>
<circle class="p" cx="837.0" cy="870.9" r="4.8"/>
<circle class="p" cx="834.0" cy="873.4" r="4.8"/>
<circle class="p" cx="837.7" cy="877.2" r="4.8"/>
<circle class="p" cx="834.7" cy="878.2" r="4.8"/>
<circle class="p" cx="837.2" cy="881.0" r="4.8"/>
<circle class="p" cx="836.4" cy="884.8" r="4.8"/>
<circle class="p" cx="833.2" cy="886.7" r="4.8"/>
<circle class="p" cx="832.4" cy="886.9" r="4.8"/>
<circle class="p" cx="834.5" cy="910.8" r="4.8"/>
<circle class="p" cx="836.8" cy="1007.9" r="4.8"/>
<line x1="981.1" y1="871.3" x2="993.5" y2="871.3" stroke="#000" stroke-width="1.35"/>
<line x1="981.1" y1="871.3" x2="993.5" y2="871.3" stroke="#000" stroke-width="1.35"/>
<rect x="974.9" y="871.3" width="24.8" height="0.0" fill="#f0cfaf" stroke="#000" stroke-width="1.35"/>
<line x1="974.9" y1="871.3" x2="999.7" y2="871.3" stroke="#000" stroke-width="1.35"/>
<circle class="p" cx="987.1" cy="871.3" r="4.8"/>
<line x1="1011.6" y1="896.2" x2="1024.0" y2="896.2" stroke="#000" stroke-width="1.35"/>
<line x1="1011.6" y1="958.5" x2="1024.0" y2="958.5" stroke="#000" stroke-width="1.35"/>
<rect x="1005.4" y="896.2" width="24.8" height="62.3" fill="#f0cfaf" stroke="#000" stroke-width="1.35"/>
<line x1="1005.4" y1="927.4" x2="1030.2" y2="927.4" stroke="#000" stroke-width="1.35"/>
<circle class="p" cx="1018.9" cy="896.2" r="4.8"/>
<circle class="p" cx="1016.2" cy="958.5" r="4.8"/>
<line x1="1048.2" y1="867.7" x2="1048.2" y2="875.7" stroke="#000" stroke-width="1.35" stroke-dasharray="12 18"/>
<line x1="1048.2" y1="899.1" x2="1048.2" y2="886.9" stroke="#000" stroke-width="1.35" stroke-dasharray="12 18"/>
<line x1="1042.0" y1="867.7" x2="1054.4" y2="867.7" stroke="#000" stroke-width="1.35"/>
<line x1="1042.0" y1="899.1" x2="1054.4" y2="899.1" stroke="#000" stroke-width="1.35"/>
<rect x="1035.8" y="875.7" width="24.8" height="11.2" fill="#f0cfaf" stroke="#000" stroke-width="1.35"/>
<line x1="1035.8" y1="882.1" x2="1060.6" y2="882.1" stroke="#000" stroke-width="1.35"/>
<circle class="p" cx="1050.7" cy="867.7" r="4.8"/>
<circle class="p" cx="1047.4" cy="868.7" r="4.8"/>
<circle class="p" cx="1046.5" cy="869.6" r="4.8"/>
<circle class="p" cx="1045.7" cy="870.6" r="4.8"/>
<circle class="p" cx="1046.5" cy="871.5" r="4.8"/>
<circle class="p" cx="1046.0" cy="872.5" r="4.8"/>
<circle class="p" cx="1046.2" cy="873.4" r="4.8"/>
<circle class="p" cx="1045.2" cy="874.4" r="4.8"/>
<circle class="p" cx="1048.7" cy="875.3" r="4.8"/>
<circle class="p" cx="1050.3" cy="875.7" r="4.8"/>
<circle class="p" cx="1047.3" cy="876.2" r="4.8"/>
<circle class="p" cx="1051.2" cy="877.2" r="4.8"/>
<circle class="p" cx="1050.9" cy="878.2" r="4.8"/>
<circle class="p" cx="1049.1" cy="879.1" r="4.8"/>
<circle class="p" cx="1047.2" cy="880.1" r="4.8"/>
<circle class="p" cx="1050.9" cy="881.0" r="4.8"/>
<circle class="p" cx="1046.8" cy="882.0" r="4.8"/>
<circle class="p" cx="1047.0" cy="882.1" r="4.8"/>
<circle class="p" cx="1050.3" cy="882.9" r="4.8"/>
<circle class="p" cx="1048.1" cy="883.9" r="4.8"/>
<circle class="p" cx="1050.0" cy="884.8" r="4.8"/>
<circle class="p" cx="1047.8" cy="885.8" r="4.8"/>
<circle class="p" cx="1049.4" cy="886.7" r="4.8"/>
<circle class="p" cx="1045.9" cy="886.9" r="4.8"/>
<circle class="p" cx="1047.5" cy="887.7" r="4.8"/>
<circle class="p" cx="1050.9" cy="888.6" r="4.8"/>
<circle class="p" cx="1050.4" cy="889.6" r="4.8"/>
<circle class="p" cx="1048.7" cy="890.5" r="4.8"/>
<circle class="p" cx="1048.5" cy="892.4" r="4.8"/>
<circle class="p" cx="1051.1" cy="894.3" r="4.8"/>
<circle class="p" cx="1050.6" cy="899.1" r="4.8"/>
<circle class="p" cx="1047.4" cy="899.1" r="4.8"/>
<circle class="p" cx="1047.6" cy="868.3" r="4.8"/>
<circle class="p" cx="1047.8" cy="1049.5" r="4.8"/>
<circle class="p" cx="1047.8" cy="1049.5" r="4.8"/>
<circle class="p" cx="1050.6" cy="873.8" r="4.8"/>
<circle class="p" cx="1048.1" cy="879.5" r="4.8"/>
<rect x="113.5" y="860.1" width="986.5" height="205.2" fill="none" stroke="#000" stroke-width="1.35"/>
<line x1="94.5" y1="1057.7" x2="113.5" y2="1057.7" stroke="#000" stroke-width="1.35"/>
<text transform="translate(78.8,1069.0) scale(1,1.06)" text-anchor="end" class="t">0</text>
<line x1="94.5" y1="1019.7" x2="113.5" y2="1019.7" stroke="#000" stroke-width="1.35"/>
<text transform="translate(78.8,1031.0) scale(1,1.06)" text-anchor="end" class="t">20</text>
<line x1="94.5" y1="981.7" x2="113.5" y2="981.7" stroke="#000" stroke-width="1.35"/>
<text transform="translate(78.8,993.0) scale(1,1.06)" text-anchor="end" class="t">40</text>
<line x1="94.5" y1="943.7" x2="113.5" y2="943.7" stroke="#000" stroke-width="1.35"/>
<text transform="translate(78.8,955.0) scale(1,1.06)" text-anchor="end" class="t">60</text>
<line x1="94.5" y1="905.7" x2="113.5" y2="905.7" stroke="#000" stroke-width="1.35"/>
<text transform="translate(78.8,917.0) scale(1,1.06)" text-anchor="end" class="t">80</text>
<line x1="94.5" y1="867.7" x2="113.5" y2="867.7" stroke="#000" stroke-width="1.35"/>
<text transform="translate(78.8,879.0) scale(1,1.06)" text-anchor="end" class="t">100</text>
<line x1="165.3" y1="1065.3" x2="165.3" y2="1084.3" stroke="#000" stroke-width="1.35"/>
<text transform="translate(177.9,1085.2) rotate(-90) scale(1,1.06)" text-anchor="end" class="t c">19</text>
<line x1="195.7" y1="1065.3" x2="195.7" y2="1084.3" stroke="#000" stroke-width="1.35"/>
<text transform="translate(208.3,1085.2) rotate(-90) scale(1,1.06)" text-anchor="end" class="t c">17</text>
<line x1="226.2" y1="1065.3" x2="226.2" y2="1084.3" stroke="#000" stroke-width="1.35"/>
<text transform="translate(238.7,1085.2) rotate(-90) scale(1,1.06)" text-anchor="end" class="t c">0</text>
<line x1="256.6" y1="1065.3" x2="256.6" y2="1084.3" stroke="#000" stroke-width="1.35"/>
<text transform="translate(269.1,1085.2) rotate(-90) scale(1,1.06)" text-anchor="end" class="t c">0</text>
<line x1="287.1" y1="1065.3" x2="287.1" y2="1084.3" stroke="#000" stroke-width="1.35"/>
<text transform="translate(299.5,1085.2) rotate(-90) scale(1,1.06)" text-anchor="end" class="t c">0</text>
<line x1="317.5" y1="1065.3" x2="317.5" y2="1084.3" stroke="#000" stroke-width="1.35"/>
<text transform="translate(329.9,1085.2) rotate(-90) scale(1,1.06)" text-anchor="end" class="t c">2</text>
<line x1="347.9" y1="1065.3" x2="347.9" y2="1084.3" stroke="#000" stroke-width="1.35"/>
<text transform="translate(360.3,1085.2) rotate(-90) scale(1,1.06)" text-anchor="end" class="t c">0</text>
<line x1="378.4" y1="1065.3" x2="378.4" y2="1084.3" stroke="#000" stroke-width="1.35"/>
<text transform="translate(390.7,1085.2) rotate(-90) scale(1,1.06)" text-anchor="end" class="t c">0</text>
<line x1="408.8" y1="1065.3" x2="408.8" y2="1084.3" stroke="#000" stroke-width="1.35"/>
<text transform="translate(421.1,1085.2) rotate(-90) scale(1,1.06)" text-anchor="end" class="t c">0</text>
<line x1="439.3" y1="1065.3" x2="439.3" y2="1084.3" stroke="#000" stroke-width="1.35"/>
<text transform="translate(451.5,1085.2) rotate(-90) scale(1,1.06)" text-anchor="end" class="t c">0</text>
<line x1="469.7" y1="1065.3" x2="469.7" y2="1084.3" stroke="#000" stroke-width="1.35"/>
<text transform="translate(481.9,1085.2) rotate(-90) scale(1,1.06)" text-anchor="end" class="t c">0</text>
<line x1="500.2" y1="1065.3" x2="500.2" y2="1084.3" stroke="#000" stroke-width="1.35"/>
<text transform="translate(512.3,1085.2) rotate(-90) scale(1,1.06)" text-anchor="end" class="t c">0</text>
<line x1="530.6" y1="1065.3" x2="530.6" y2="1084.3" stroke="#000" stroke-width="1.35"/>
<text transform="translate(542.7,1085.2) rotate(-90) scale(1,1.06)" text-anchor="end" class="t c">0</text>
<line x1="561.1" y1="1065.3" x2="561.1" y2="1084.3" stroke="#000" stroke-width="1.35"/>
<text transform="translate(573.1,1085.2) rotate(-90) scale(1,1.06)" text-anchor="end" class="t c">30</text>
<line x1="591.5" y1="1065.3" x2="591.5" y2="1084.3" stroke="#000" stroke-width="1.35"/>
<text transform="translate(603.5,1085.2) rotate(-90) scale(1,1.06)" text-anchor="end" class="t c">0</text>
<line x1="622.0" y1="1065.3" x2="622.0" y2="1084.3" stroke="#000" stroke-width="1.35"/>
<text transform="translate(633.9,1085.2) rotate(-90) scale(1,1.06)" text-anchor="end" class="t c">0</text>
<line x1="652.4" y1="1065.3" x2="652.4" y2="1084.3" stroke="#000" stroke-width="1.35"/>
<text transform="translate(664.3,1085.2) rotate(-90) scale(1,1.06)" text-anchor="end" class="t c">0</text>
<line x1="682.9" y1="1065.3" x2="682.9" y2="1084.3" stroke="#000" stroke-width="1.35"/>
<text transform="translate(694.7,1085.2) rotate(-90) scale(1,1.06)" text-anchor="end" class="t c">0</text>
<line x1="713.3" y1="1065.3" x2="713.3" y2="1084.3" stroke="#000" stroke-width="1.35"/>
<text transform="translate(725.1,1085.2) rotate(-90) scale(1,1.06)" text-anchor="end" class="t c">68</text>
<line x1="743.8" y1="1065.3" x2="743.8" y2="1084.3" stroke="#000" stroke-width="1.35"/>
<text transform="translate(755.5,1085.2) rotate(-90) scale(1,1.06)" text-anchor="end" class="t c">2</text>
<line x1="774.2" y1="1065.3" x2="774.2" y2="1084.3" stroke="#000" stroke-width="1.35"/>
<text transform="translate(785.9,1085.2) rotate(-90) scale(1,1.06)" text-anchor="end" class="t c">0</text>
<line x1="804.7" y1="1065.3" x2="804.7" y2="1084.3" stroke="#000" stroke-width="1.35"/>
<text transform="translate(816.3,1085.2) rotate(-90) scale(1,1.06)" text-anchor="end" class="t c">1</text>
<line x1="835.1" y1="1065.3" x2="835.1" y2="1084.3" stroke="#000" stroke-width="1.35"/>
<text transform="translate(846.7,1085.2) rotate(-90) scale(1,1.06)" text-anchor="end" class="t c">13</text>
<line x1="865.6" y1="1065.3" x2="865.6" y2="1084.3" stroke="#000" stroke-width="1.35"/>
<text transform="translate(877.1,1085.2) rotate(-90) scale(1,1.06)" text-anchor="end" class="t c">0</text>
<line x1="896.0" y1="1065.3" x2="896.0" y2="1084.3" stroke="#000" stroke-width="1.35"/>
<text transform="translate(907.5,1085.2) rotate(-90) scale(1,1.06)" text-anchor="end" class="t c">0</text>
<line x1="926.4" y1="1065.3" x2="926.4" y2="1084.3" stroke="#000" stroke-width="1.35"/>
<text transform="translate(937.9,1085.2) rotate(-90) scale(1,1.06)" text-anchor="end" class="t c">0</text>
<line x1="956.9" y1="1065.3" x2="956.9" y2="1084.3" stroke="#000" stroke-width="1.35"/>
<text transform="translate(968.3,1085.2) rotate(-90) scale(1,1.06)" text-anchor="end" class="t c">0</text>
<line x1="987.3" y1="1065.3" x2="987.3" y2="1084.3" stroke="#000" stroke-width="1.35"/>
<text transform="translate(998.7,1085.2) rotate(-90) scale(1,1.06)" text-anchor="end" class="t c">1</text>
<line x1="1017.8" y1="1065.3" x2="1017.8" y2="1084.3" stroke="#000" stroke-width="1.35"/>
<text transform="translate(1029.1,1085.2) rotate(-90) scale(1,1.06)" text-anchor="end" class="t c">2</text>
<line x1="1048.2" y1="1065.3" x2="1048.2" y2="1084.3" stroke="#000" stroke-width="1.35"/>
<text transform="translate(1059.5,1085.2) rotate(-90) scale(1,1.06)" text-anchor="end" class="t c">37</text>
<text transform="translate(1113,921.9) scale(1,1.06)" class="t" style="font-style:italic;fill:#df780a">ETS2</text>
<text transform="translate(1113,957.9) scale(1,1.06)" class="t">T2304A</text>
<text transform="translate(1113,993.9) scale(1,1.06)" class="t">n = 192</text>
<line x1="159.1" y1="1329.4" x2="171.5" y2="1329.4" stroke="#000" stroke-width="1.35"/>
<line x1="159.1" y1="1329.4" x2="171.5" y2="1329.4" stroke="#000" stroke-width="1.35"/>
<rect x="152.9" y="1329.4" width="24.8" height="0.0" fill="#f0cfaf" stroke="#000" stroke-width="1.35"/>
<line x1="152.9" y1="1329.4" x2="177.7" y2="1329.4" stroke="#000" stroke-width="1.35"/>
<circle class="p" cx="164.8" cy="1329.4" r="4.8"/>
<line x1="189.5" y1="1175.9" x2="201.9" y2="1175.9" stroke="#000" stroke-width="1.35"/>
<line x1="189.5" y1="1330.1" x2="201.9" y2="1330.1" stroke="#000" stroke-width="1.35"/>
<rect x="183.3" y="1175.9" width="24.8" height="154.3" fill="#f0cfaf" stroke="#000" stroke-width="1.35"/>
<line x1="183.3" y1="1252.6" x2="208.1" y2="1252.6" stroke="#000" stroke-width="1.35"/>
<circle class="p" cx="198.6" cy="1175.9" r="4.8"/>
<circle class="p" cx="196.4" cy="1330.1" r="4.8"/>
<line x1="250.4" y1="1141.1" x2="262.8" y2="1141.1" stroke="#000" stroke-width="1.35"/>
<line x1="250.4" y1="1141.1" x2="262.8" y2="1141.1" stroke="#000" stroke-width="1.35"/>
<rect x="244.2" y="1141.1" width="24.8" height="0.0" fill="#f0cfaf" stroke="#000" stroke-width="1.35"/>
<line x1="244.2" y1="1141.1" x2="269.0" y2="1141.1" stroke="#000" stroke-width="1.35"/>
<circle class="p" cx="257.8" cy="1141.1" r="4.8"/>
<circle class="p" cx="256.7" cy="1141.1" r="4.8"/>
<circle class="p" cx="254.7" cy="1141.1" r="4.8"/>
<circle class="p" cx="258.6" cy="1141.1" r="4.8"/>
<circle class="p" cx="258.7" cy="1141.1" r="4.8"/>
<circle class="p" cx="254.9" cy="1141.1" r="4.8"/>
<circle class="p" cx="257.5" cy="1141.1" r="4.8"/>
<circle class="p" cx="257.8" cy="1141.1" r="4.8"/>
<circle class="p" cx="257.9" cy="1141.1" r="4.8"/>
<circle class="p" cx="258.5" cy="1141.1" r="4.8"/>
<circle class="p" cx="258.7" cy="1141.1" r="4.8"/>
<circle class="p" cx="255.8" cy="1141.1" r="4.8"/>
<circle class="p" cx="256.6" cy="1141.1" r="4.8"/>
<circle class="p" cx="257.9" cy="1141.1" r="4.8"/>
<circle class="p" cx="254.5" cy="1141.1" r="4.8"/>
<circle class="p" cx="253.8" cy="1141.1" r="4.8"/>
<circle class="p" cx="254.5" cy="1141.1" r="4.8"/>
<circle class="p" cx="258.6" cy="1141.1" r="4.8"/>
<circle class="p" cx="255.6" cy="1141.1" r="4.8"/>
<circle class="p" cx="255.4" cy="1141.1" r="4.8"/>
<circle class="p" cx="254.3" cy="1141.1" r="4.8"/>
<circle class="p" cx="254.3" cy="1141.1" r="4.8"/>
<circle class="p" cx="259.4" cy="1141.1" r="4.8"/>
<circle class="p" cx="253.9" cy="1141.1" r="4.8"/>
<circle class="p" cx="259.5" cy="1141.1" r="4.8"/>
<circle class="p" cx="256.9" cy="1141.1" r="4.8"/>
<circle class="p" cx="255.1" cy="1141.1" r="4.8"/>
<circle class="p" cx="253.7" cy="1141.1" r="4.8"/>
<circle class="p" cx="258.9" cy="1141.1" r="4.8"/>
<circle class="p" cx="255.9" cy="1141.1" r="4.8"/>
<circle class="p" cx="259.3" cy="1141.1" r="4.8"/>
<circle class="p" cx="254.0" cy="1141.1" r="4.8"/>
<circle class="p" cx="258.4" cy="1141.1" r="4.8"/>
<circle class="p" cx="257.6" cy="1141.1" r="4.8"/>
<circle class="p" cx="258.5" cy="1141.1" r="4.8"/>
<line x1="280.9" y1="1141.1" x2="293.3" y2="1141.1" stroke="#000" stroke-width="1.35"/>
<line x1="280.9" y1="1141.1" x2="293.3" y2="1141.1" stroke="#000" stroke-width="1.35"/>
<rect x="274.7" y="1141.1" width="24.8" height="0.0" fill="#f0cfaf" stroke="#000" stroke-width="1.35"/>
<line x1="274.7" y1="1141.1" x2="299.5" y2="1141.1" stroke="#000" stroke-width="1.35"/>
<circle class="p" cx="287.0" cy="1141.1" r="4.8"/>
<circle class="p" cx="288.4" cy="1141.1" r="4.8"/>
<circle class="p" cx="286.7" cy="1141.1" r="4.8"/>
<circle class="p" cx="285.5" cy="1141.1" r="4.8"/>
<circle class="p" cx="284.8" cy="1141.1" r="4.8"/>
<circle class="p" cx="286.9" cy="1141.1" r="4.8"/>
<circle class="p" cx="288.5" cy="1141.1" r="4.8"/>
<circle class="p" cx="284.2" cy="1141.1" r="4.8"/>
<circle class="p" cx="285.0" cy="1141.1" r="4.8"/>
<line x1="317.5" y1="1206.5" x2="317.5" y2="1278.7" stroke="#000" stroke-width="1.35" stroke-dasharray="12 18"/>
<line x1="317.5" y1="1330.1" x2="317.5" y2="1326.7" stroke="#000" stroke-width="1.35" stroke-dasharray="12 18"/>
<line x1="311.3" y1="1206.5" x2="323.7" y2="1206.5" stroke="#000" stroke-width="1.35"/>
<line x1="311.3" y1="1330.1" x2="323.7" y2="1330.1" stroke="#000" stroke-width="1.35"/>
<rect x="305.1" y="1278.7" width="24.8" height="48.1" fill="#f0cfaf" stroke="#000" stroke-width="1.35"/>
<line x1="305.1" y1="1322.0" x2="329.9" y2="1322.0" stroke="#000" stroke-width="1.35"/>
<circle class="p" cx="320.0" cy="1187.3" r="4.8"/>
<circle class="p" cx="317.7" cy="1206.5" r="4.8"/>
<circle class="p" cx="317.8" cy="1278.7" r="4.8"/>
<circle class="p" cx="318.1" cy="1286.4" r="4.8"/>
<circle class="p" cx="315.4" cy="1321.6" r="4.8"/>
<circle class="p" cx="317.1" cy="1322.5" r="4.8"/>
<circle class="p" cx="316.8" cy="1325.4" r="4.8"/>
<circle class="p" cx="318.8" cy="1327.3" r="4.8"/>
<circle class="p" cx="317.4" cy="1329.2" r="4.8"/>
<circle class="p" cx="318.4" cy="1330.1" r="4.8"/>
<line x1="341.7" y1="1141.1" x2="354.1" y2="1141.1" stroke="#000" stroke-width="1.35"/>
<line x1="341.7" y1="1141.1" x2="354.1" y2="1141.1" stroke="#000" stroke-width="1.35"/>
<rect x="335.5" y="1141.1" width="24.8" height="0.0" fill="#f0cfaf" stroke="#000" stroke-width="1.35"/>
<line x1="335.5" y1="1141.1" x2="360.3" y2="1141.1" stroke="#000" stroke-width="1.35"/>
<circle class="p" cx="350.5" cy="1141.1" r="4.8"/>
<circle class="p" cx="347.9" cy="1141.1" r="4.8"/>
<line x1="372.2" y1="1141.1" x2="384.6" y2="1141.1" stroke="#000" stroke-width="1.35"/>
<line x1="372.2" y1="1141.1" x2="384.6" y2="1141.1" stroke="#000" stroke-width="1.35"/>
<rect x="366.0" y="1141.1" width="24.8" height="0.0" fill="#f0cfaf" stroke="#000" stroke-width="1.35"/>
<line x1="366.0" y1="1141.1" x2="390.8" y2="1141.1" stroke="#000" stroke-width="1.35"/>
<circle class="p" cx="380.2" cy="1141.1" r="4.8"/>
<line x1="402.6" y1="1141.1" x2="415.0" y2="1141.1" stroke="#000" stroke-width="1.35"/>
<line x1="402.6" y1="1141.1" x2="415.0" y2="1141.1" stroke="#000" stroke-width="1.35"/>
<rect x="396.4" y="1141.1" width="24.8" height="0.0" fill="#f0cfaf" stroke="#000" stroke-width="1.35"/>
<line x1="396.4" y1="1141.1" x2="421.2" y2="1141.1" stroke="#000" stroke-width="1.35"/>
<circle class="p" cx="409.2" cy="1141.1" r="4.8"/>
<circle class="p" cx="411.6" cy="1141.1" r="4.8"/>
<line x1="433.1" y1="1141.1" x2="445.5" y2="1141.1" stroke="#000" stroke-width="1.35"/>
<line x1="433.1" y1="1142.0" x2="445.5" y2="1142.0" stroke="#000" stroke-width="1.35"/>
<rect x="426.9" y="1141.1" width="24.8" height="0.9" fill="#f0cfaf" stroke="#000" stroke-width="1.35"/>
<line x1="426.9" y1="1141.7" x2="451.7" y2="1141.7" stroke="#000" stroke-width="1.35"/>
<circle class="p" cx="439.1" cy="1141.1" r="4.8"/>
<circle class="p" cx="437.8" cy="1142.0" r="4.8"/>
<line x1="463.5" y1="1141.1" x2="475.9" y2="1141.1" stroke="#000" stroke-width="1.35"/>
<line x1="463.5" y1="1141.1" x2="475.9" y2="1141.1" stroke="#000" stroke-width="1.35"/>
<rect x="457.3" y="1141.1" width="24.8" height="0.0" fill="#f0cfaf" stroke="#000" stroke-width="1.35"/>
<line x1="457.3" y1="1141.1" x2="482.1" y2="1141.1" stroke="#000" stroke-width="1.35"/>
<circle class="p" cx="472.4" cy="1141.1" r="4.8"/>
<circle class="p" cx="471.2" cy="1141.1" r="4.8"/>
<circle class="p" cx="467.6" cy="1141.1" r="4.8"/>
<circle class="p" cx="468.9" cy="1141.1" r="4.8"/>
<circle class="p" cx="469.7" cy="1141.1" r="4.8"/>
<circle class="p" cx="467.1" cy="1141.1" r="4.8"/>
<circle class="p" cx="468.0" cy="1141.1" r="4.8"/>
<circle class="p" cx="467.4" cy="1141.1" r="4.8"/>
<circle class="p" cx="467.4" cy="1141.1" r="4.8"/>
<circle class="p" cx="467.2" cy="1141.1" r="4.8"/>
<line x1="494.0" y1="1141.1" x2="506.4" y2="1141.1" stroke="#000" stroke-width="1.35"/>
<line x1="494.0" y1="1141.1" x2="506.4" y2="1141.1" stroke="#000" stroke-width="1.35"/>
<rect x="487.8" y="1141.1" width="24.8" height="0.0" fill="#f0cfaf" stroke="#000" stroke-width="1.35"/>
<line x1="487.8" y1="1141.1" x2="512.6" y2="1141.1" stroke="#000" stroke-width="1.35"/>
<circle class="p" cx="502.3" cy="1141.1" r="4.8"/>
<circle class="p" cx="502.2" cy="1141.1" r="4.8"/>
<circle class="p" cx="500.2" cy="1141.1" r="4.8"/>
<circle class="p" cx="499.2" cy="1141.1" r="4.8"/>
<circle class="p" cx="502.5" cy="1141.1" r="4.8"/>
<circle class="p" cx="501.8" cy="1141.1" r="4.8"/>
<circle class="p" cx="499.8" cy="1141.1" r="4.8"/>
<circle class="p" cx="499.4" cy="1141.1" r="4.8"/>
<line x1="524.4" y1="1141.1" x2="536.8" y2="1141.1" stroke="#000" stroke-width="1.35"/>
<line x1="524.4" y1="1141.1" x2="536.8" y2="1141.1" stroke="#000" stroke-width="1.35"/>
<rect x="518.2" y="1141.1" width="24.8" height="0.0" fill="#f0cfaf" stroke="#000" stroke-width="1.35"/>
<line x1="518.2" y1="1141.1" x2="543.0" y2="1141.1" stroke="#000" stroke-width="1.35"/>
<circle class="p" cx="533.6" cy="1141.1" r="4.8"/>
<circle class="p" cx="527.7" cy="1141.1" r="4.8"/>
<circle class="p" cx="531.7" cy="1141.1" r="4.8"/>
<circle class="p" cx="531.1" cy="1141.1" r="4.8"/>
<line x1="554.9" y1="1141.5" x2="567.3" y2="1141.5" stroke="#000" stroke-width="1.35"/>
<line x1="554.9" y1="1172.3" x2="567.3" y2="1172.3" stroke="#000" stroke-width="1.35"/>
<rect x="548.7" y="1141.5" width="24.8" height="30.8" fill="#f0cfaf" stroke="#000" stroke-width="1.35"/>
<line x1="548.7" y1="1156.9" x2="573.5" y2="1156.9" stroke="#000" stroke-width="1.35"/>
<circle class="p" cx="559.8" cy="1141.5" r="4.8"/>
<circle class="p" cx="561.2" cy="1172.3" r="4.8"/>
<line x1="585.3" y1="1141.1" x2="597.7" y2="1141.1" stroke="#000" stroke-width="1.35"/>
<line x1="585.3" y1="1141.1" x2="597.7" y2="1141.1" stroke="#000" stroke-width="1.35"/>
<rect x="579.1" y="1141.1" width="24.8" height="0.0" fill="#f0cfaf" stroke="#000" stroke-width="1.35"/>
<line x1="579.1" y1="1141.1" x2="603.9" y2="1141.1" stroke="#000" stroke-width="1.35"/>
<circle class="p" cx="589.7" cy="1141.1" r="4.8"/>
<circle class="p" cx="592.7" cy="1141.1" r="4.8"/>
<circle class="p" cx="592.6" cy="1141.1" r="4.8"/>
<circle class="p" cx="592.6" cy="1141.1" r="4.8"/>
<circle class="p" cx="592.2" cy="1141.1" r="4.8"/>
<circle class="p" cx="588.8" cy="1141.1" r="4.8"/>
<circle class="p" cx="588.6" cy="1141.1" r="4.8"/>
<circle class="p" cx="593.0" cy="1141.1" r="4.8"/>
<circle class="p" cx="594.5" cy="1141.1" r="4.8"/>
<circle class="p" cx="592.6" cy="1141.1" r="4.8"/>
<circle class="p" cx="594.3" cy="1141.1" r="4.8"/>
<circle class="p" cx="593.8" cy="1141.1" r="4.8"/>
<circle class="p" cx="591.1" cy="1141.1" r="4.8"/>
<circle class="p" cx="592.0" cy="1141.1" r="4.8"/>
<circle class="p" cx="594.2" cy="1141.1" r="4.8"/>
<circle class="p" cx="588.7" cy="1141.1" r="4.8"/>
<circle class="p" cx="589.8" cy="1141.1" r="4.8"/>
<circle class="p" cx="593.4" cy="1141.1" r="4.8"/>
<circle class="p" cx="594.4" cy="1141.1" r="4.8"/>
<circle class="p" cx="589.2" cy="1141.1" r="4.8"/>
<circle class="p" cx="591.8" cy="1141.1" r="4.8"/>
<circle class="p" cx="594.2" cy="1141.1" r="4.8"/>
<circle class="p" cx="592.9" cy="1141.1" r="4.8"/>
<circle class="p" cx="593.7" cy="1141.1" r="4.8"/>
<circle class="p" cx="590.0" cy="1141.1" r="4.8"/>
<circle class="p" cx="590.9" cy="1141.1" r="4.8"/>
<circle class="p" cx="593.0" cy="1141.1" r="4.8"/>
<circle class="p" cx="590.0" cy="1141.1" r="4.8"/>
<circle class="p" cx="590.6" cy="1141.1" r="4.8"/>
<circle class="p" cx="594.0" cy="1141.1" r="4.8"/>
<circle class="p" cx="593.9" cy="1141.1" r="4.8"/>
<line x1="615.8" y1="1141.1" x2="628.2" y2="1141.1" stroke="#000" stroke-width="1.35"/>
<line x1="615.8" y1="1141.1" x2="628.2" y2="1141.1" stroke="#000" stroke-width="1.35"/>
<rect x="609.6" y="1141.1" width="24.8" height="0.0" fill="#f0cfaf" stroke="#000" stroke-width="1.35"/>
<line x1="609.6" y1="1141.1" x2="634.4" y2="1141.1" stroke="#000" stroke-width="1.35"/>
<circle class="p" cx="622.2" cy="1141.1" r="4.8"/>
<circle class="p" cx="622.7" cy="1141.1" r="4.8"/>
<circle class="p" cx="624.3" cy="1141.1" r="4.8"/>
<circle class="p" cx="619.0" cy="1141.1" r="4.8"/>
<line x1="652.4" y1="1142.4" x2="652.4" y2="1142.0" stroke="#000" stroke-width="1.35" stroke-dasharray="12 18"/>
<line x1="646.2" y1="1141.1" x2="658.6" y2="1141.1" stroke="#000" stroke-width="1.35"/>
<line x1="646.2" y1="1142.4" x2="658.6" y2="1142.4" stroke="#000" stroke-width="1.35"/>
<rect x="640.0" y="1141.1" width="24.8" height="0.9" fill="#f0cfaf" stroke="#000" stroke-width="1.35"/>
<line x1="640.0" y1="1141.1" x2="664.8" y2="1141.1" stroke="#000" stroke-width="1.35"/>
<circle class="p" cx="650.6" cy="1141.1" r="4.8"/>
<circle class="p" cx="651.3" cy="1141.1" r="4.8"/>
<circle class="p" cx="654.4" cy="1141.1" r="4.8"/>
<circle class="p" cx="654.8" cy="1141.1" r="4.8"/>
<circle class="p" cx="652.6" cy="1141.1" r="4.8"/>
<circle class="p" cx="654.3" cy="1141.9" r="4.8"/>
<circle class="p" cx="649.5" cy="1142.4" r="4.8"/>
<circle class="p" cx="652.6" cy="1142.0" r="4.8"/>
<line x1="682.9" y1="1162.0" x2="682.9" y2="1175.3" stroke="#000" stroke-width="1.35" stroke-dasharray="12 18"/>
<line x1="682.9" y1="1228.5" x2="682.9" y2="1198.3" stroke="#000" stroke-width="1.35" stroke-dasharray="12 18"/>
<line x1="676.7" y1="1162.0" x2="689.1" y2="1162.0" stroke="#000" stroke-width="1.35"/>
<line x1="676.7" y1="1228.5" x2="689.1" y2="1228.5" stroke="#000" stroke-width="1.35"/>
<rect x="670.5" y="1175.3" width="24.8" height="23.0" fill="#f0cfaf" stroke="#000" stroke-width="1.35"/>
<line x1="670.5" y1="1188.6" x2="695.3" y2="1188.6" stroke="#000" stroke-width="1.35"/>
<circle class="p" cx="682.6" cy="1162.0" r="4.8"/>
<circle class="p" cx="683.9" cy="1163.9" r="4.8"/>
<circle class="p" cx="680.5" cy="1186.7" r="4.8"/>
<circle class="p" cx="681.2" cy="1188.6" r="4.8"/>
<circle class="p" cx="681.5" cy="1190.5" r="4.8"/>
<circle class="p" cx="683.6" cy="1205.3" r="4.8"/>
<circle class="p" cx="681.3" cy="1228.5" r="4.8"/>
<line x1="713.3" y1="1197.3" x2="713.3" y2="1236.3" stroke="#000" stroke-width="1.35" stroke-dasharray="12 18"/>
<line x1="713.3" y1="1310.6" x2="713.3" y2="1269.2" stroke="#000" stroke-width="1.35" stroke-dasharray="12 18"/>
<line x1="707.1" y1="1197.3" x2="719.5" y2="1197.3" stroke="#000" stroke-width="1.35"/>
<line x1="707.1" y1="1310.6" x2="719.5" y2="1310.6" stroke="#000" stroke-width="1.35"/>
<rect x="700.9" y="1236.3" width="24.8" height="32.9" fill="#f0cfaf" stroke="#000" stroke-width="1.35"/>
<line x1="700.9" y1="1256.0" x2="725.7" y2="1256.0" stroke="#000" stroke-width="1.35"/>
<circle class="p" cx="712.8" cy="1197.3" r="4.8"/>
<circle class="p" cx="713.7" cy="1212.5" r="4.8"/>
<circle class="p" cx="714.0" cy="1223.6" r="4.8"/>
<circle class="p" cx="716.2" cy="1226.6" r="4.8"/>
<circle class="p" cx="712.1" cy="1229.4" r="4.8"/>
<circle class="p" cx="710.5" cy="1234.2" r="4.8"/>
<circle class="p" cx="715.9" cy="1236.1" r="4.8"/>
<circle class="p" cx="714.1" cy="1238.0" r="4.8"/>
<circle class="p" cx="715.4" cy="1241.8" r="4.8"/>
<circle class="p" cx="713.0" cy="1244.6" r="4.8"/>
<circle class="p" cx="714.0" cy="1245.6" r="4.8"/>
<circle class="p" cx="711.8" cy="1247.5" r="4.8"/>
<circle class="p" cx="714.9" cy="1249.4" r="4.8"/>
<circle class="p" cx="714.2" cy="1251.3" r="4.8"/>
<circle class="p" cx="713.1" cy="1254.7" r="4.8"/>
<circle class="p" cx="713.9" cy="1256.0" r="4.8"/>
<circle class="p" cx="713.4" cy="1257.0" r="4.8"/>
<circle class="p" cx="711.0" cy="1258.9" r="4.8"/>
<circle class="p" cx="712.6" cy="1262.3" r="4.8"/>
<circle class="p" cx="712.4" cy="1262.7" r="4.8"/>
<circle class="p" cx="715.6" cy="1264.6" r="4.8"/>
<circle class="p" cx="713.4" cy="1266.5" r="4.8"/>
<circle class="p" cx="710.9" cy="1269.2" r="4.8"/>
<circle class="p" cx="712.2" cy="1280.2" r="4.8"/>
<circle class="p" cx="710.9" cy="1281.7" r="4.8"/>
<circle class="p" cx="711.1" cy="1287.8" r="4.8"/>
<circle class="p" cx="714.1" cy="1303.0" r="4.8"/>
<circle class="p" cx="713.0" cy="1310.6" r="4.8"/>
<line x1="743.8" y1="1325.8" x2="743.8" y2="1323.5" stroke="#000" stroke-width="1.35" stroke-dasharray="12 18"/>
<line x1="737.6" y1="1288.5" x2="750.0" y2="1288.5" stroke="#000" stroke-width="1.35"/>
<line x1="737.6" y1="1325.8" x2="750.0" y2="1325.8" stroke="#000" stroke-width="1.35"/>
<rect x="731.4" y="1288.5" width="24.8" height="35.0" fill="#f0cfaf" stroke="#000" stroke-width="1.35"/>
<line x1="731.4" y1="1307.9" x2="756.2" y2="1307.9" stroke="#000" stroke-width="1.35"/>
<circle class="p" cx="744.1" cy="1217.5" r="4.8"/>
<circle class="p" cx="741.6" cy="1288.5" r="4.8"/>
<circle class="p" cx="743.7" cy="1307.9" r="4.8"/>
<circle class="p" cx="746.7" cy="1323.5" r="4.8"/>
<circle class="p" cx="746.1" cy="1325.8" r="4.8"/>
<line x1="774.2" y1="1143.0" x2="774.2" y2="1144.9" stroke="#000" stroke-width="1.35" stroke-dasharray="12 18"/>
<line x1="774.2" y1="1311.7" x2="774.2" y2="1250.2" stroke="#000" stroke-width="1.35" stroke-dasharray="12 18"/>
<line x1="768.0" y1="1143.0" x2="780.4" y2="1143.0" stroke="#000" stroke-width="1.35"/>
<line x1="768.0" y1="1311.7" x2="780.4" y2="1311.7" stroke="#000" stroke-width="1.35"/>
<rect x="761.8" y="1144.9" width="24.8" height="105.3" fill="#f0cfaf" stroke="#000" stroke-width="1.35"/>
<line x1="761.8" y1="1188.0" x2="786.6" y2="1188.0" stroke="#000" stroke-width="1.35"/>
<circle class="p" cx="775.3" cy="1143.0" r="4.8"/>
<circle class="p" cx="776.9" cy="1143.8" r="4.8"/>
<circle class="p" cx="772.3" cy="1146.8" r="4.8"/>
<circle class="p" cx="772.8" cy="1229.4" r="4.8"/>
<circle class="p" cx="775.6" cy="1250.2" r="4.8"/>
<circle class="p" cx="776.9" cy="1311.7" r="4.8"/>
<line x1="804.7" y1="1310.4" x2="804.7" y2="1319.9" stroke="#000" stroke-width="1.35" stroke-dasharray="12 18"/>
<line x1="804.7" y1="1330.5" x2="804.7" y2="1329.2" stroke="#000" stroke-width="1.35" stroke-dasharray="12 18"/>
<line x1="798.5" y1="1310.4" x2="810.9" y2="1310.4" stroke="#000" stroke-width="1.35"/>
<line x1="798.5" y1="1330.5" x2="810.9" y2="1330.5" stroke="#000" stroke-width="1.35"/>
<rect x="792.3" y="1319.9" width="24.8" height="9.3" fill="#f0cfaf" stroke="#000" stroke-width="1.35"/>
<line x1="792.3" y1="1326.3" x2="817.1" y2="1326.3" stroke="#000" stroke-width="1.35"/>
<circle class="p" cx="802.0" cy="1310.4" r="4.8"/>
<circle class="p" cx="806.1" cy="1318.9" r="4.8"/>
<circle class="p" cx="806.1" cy="1319.9" r="4.8"/>
<circle class="p" cx="804.6" cy="1321.6" r="4.8"/>
<circle class="p" cx="802.8" cy="1325.4" r="4.8"/>
<circle class="p" cx="805.8" cy="1327.3" r="4.8"/>
<circle class="p" cx="807.2" cy="1329.2" r="4.8"/>
<circle class="p" cx="807.5" cy="1329.2" r="4.8"/>
<circle class="p" cx="803.5" cy="1330.1" r="4.8"/>
<circle class="p" cx="805.1" cy="1330.5" r="4.8"/>
<line x1="835.1" y1="1141.1" x2="835.1" y2="1141.9" stroke="#000" stroke-width="1.35" stroke-dasharray="12 18"/>
<line x1="835.1" y1="1331.1" x2="835.1" y2="1315.3" stroke="#000" stroke-width="1.35" stroke-dasharray="12 18"/>
<line x1="828.9" y1="1141.1" x2="841.3" y2="1141.1" stroke="#000" stroke-width="1.35"/>
<line x1="828.9" y1="1331.1" x2="841.3" y2="1331.1" stroke="#000" stroke-width="1.35"/>
<rect x="822.7" y="1141.9" width="24.8" height="173.5" fill="#f0cfaf" stroke="#000" stroke-width="1.35"/>
<line x1="822.7" y1="1196.2" x2="847.5" y2="1196.2" stroke="#000" stroke-width="1.35"/>
<circle class="p" cx="835.4" cy="1141.1" r="4.8"/>
<circle class="p" cx="837.1" cy="1141.1" r="4.8"/>
<circle class="p" cx="833.9" cy="1141.1" r="4.8"/>
<circle class="p" cx="833.8" cy="1141.1" r="4.8"/>
<circle class="p" cx="832.3" cy="1141.1" r="4.8"/>
<circle class="p" cx="833.4" cy="1141.1" r="4.8"/>
<circle class="p" cx="836.8" cy="1141.1" r="4.8"/>
<circle class="p" cx="837.3" cy="1141.1" r="4.8"/>
<circle class="p" cx="838.1" cy="1141.1" r="4.8"/>
<circle class="p" cx="832.4" cy="1141.1" r="4.8"/>
<circle class="p" cx="833.9" cy="1141.1" r="4.8"/>
<circle class="p" cx="835.6" cy="1141.1" r="4.8"/>
<circle class="p" cx="832.6" cy="1141.1" r="4.8"/>
<circle class="p" cx="835.6" cy="1141.9" r="4.8"/>
<circle class="p" cx="836.4" cy="1142.4" r="4.8"/>
<circle class="p" cx="835.5" cy="1150.0" r="4.8"/>
<circle class="p" cx="835.2" cy="1155.0" r="4.8"/>
<circle class="p" cx="834.5" cy="1168.6" r="4.8"/>
<circle class="p" cx="835.4" cy="1178.0" r="4.8"/>
<circle class="p" cx="837.7" cy="1188.0" r="4.8"/>
<circle class="p" cx="834.3" cy="1194.9" r="4.8"/>
<circle class="p" cx="834.9" cy="1196.2" r="4.8"/>
<circle class="p" cx="837.0" cy="1198.1" r="4.8"/>
<circle class="p" cx="834.9" cy="1224.3" r="4.8"/>
<circle class="p" cx="832.3" cy="1234.6" r="4.8"/>
<circle class="p" cx="832.2" cy="1238.0" r="4.8"/>
<circle class="p" cx="833.1" cy="1242.9" r="4.8"/>
<circle class="p" cx="837.2" cy="1252.2" r="4.8"/>
<circle class="p" cx="837.4" cy="1259.1" r="4.8"/>
<circle class="p" cx="834.6" cy="1278.5" r="4.8"/>
<circle class="p" cx="834.4" cy="1279.8" r="4.8"/>
<circle class="p" cx="838.1" cy="1283.6" r="4.8"/>
<circle class="p" cx="834.0" cy="1292.9" r="4.8"/>
<circle class="p" cx="833.2" cy="1315.3" r="4.8"/>
<circle class="p" cx="833.3" cy="1317.8" r="4.8"/>
<circle class="p" cx="833.3" cy="1319.7" r="4.8"/>
<circle class="p" cx="833.8" cy="1321.6" r="4.8"/>
<circle class="p" cx="835.0" cy="1323.5" r="4.8"/>
<circle class="p" cx="835.5" cy="1324.4" r="4.8"/>
<circle class="p" cx="836.7" cy="1325.4" r="4.8"/>
<circle class="p" cx="832.9" cy="1326.3" r="4.8"/>
<circle class="p" cx="837.0" cy="1327.3" r="4.8"/>
<circle class="p" cx="833.3" cy="1328.2" r="4.8"/>
<circle class="p" cx="835.5" cy="1329.2" r="4.8"/>
<circle class="p" cx="838.1" cy="1329.6" r="4.8"/>
<circle class="p" cx="834.6" cy="1330.1" r="4.8"/>
<circle class="p" cx="836.7" cy="1330.7" r="4.8"/>
<circle class="p" cx="835.6" cy="1331.1" r="4.8"/>
<circle class="p" cx="833.3" cy="1328.8" r="4.8"/>
<circle class="p" cx="835.5" cy="1326.9" r="4.8"/>
<circle class="p" cx="832.6" cy="1325.0" r="4.8"/>
<circle class="p" cx="837.0" cy="1322.5" r="4.8"/>
<circle class="p" cx="837.5" cy="1318.8" r="4.8"/>
<line x1="859.4" y1="1141.1" x2="871.8" y2="1141.1" stroke="#000" stroke-width="1.35"/>
<line x1="859.4" y1="1141.1" x2="871.8" y2="1141.1" stroke="#000" stroke-width="1.35"/>
<rect x="853.2" y="1141.1" width="24.8" height="0.0" fill="#f0cfaf" stroke="#000" stroke-width="1.35"/>
<line x1="853.2" y1="1141.1" x2="878.0" y2="1141.1" stroke="#000" stroke-width="1.35"/>
<circle class="p" cx="867.9" cy="1141.1" r="4.8"/>
<circle class="p" cx="868.5" cy="1141.1" r="4.8"/>
<circle class="p" cx="865.3" cy="1141.1" r="4.8"/>
<circle class="p" cx="862.7" cy="1141.1" r="4.8"/>
<circle class="p" cx="865.9" cy="1141.1" r="4.8"/>
<circle class="p" cx="865.8" cy="1141.1" r="4.8"/>
<circle class="p" cx="868.4" cy="1141.1" r="4.8"/>
<circle class="p" cx="867.4" cy="1141.1" r="4.8"/>
<circle class="p" cx="865.7" cy="1141.1" r="4.8"/>
<circle class="p" cx="865.1" cy="1141.1" r="4.8"/>
<circle class="p" cx="865.2" cy="1141.1" r="4.8"/>
<line x1="889.8" y1="1141.1" x2="902.2" y2="1141.1" stroke="#000" stroke-width="1.35"/>
<line x1="889.8" y1="1141.1" x2="902.2" y2="1141.1" stroke="#000" stroke-width="1.35"/>
<rect x="883.6" y="1141.1" width="24.8" height="0.0" fill="#f0cfaf" stroke="#000" stroke-width="1.35"/>
<line x1="883.6" y1="1141.1" x2="908.4" y2="1141.1" stroke="#000" stroke-width="1.35"/>
<circle class="p" cx="893.2" cy="1141.1" r="4.8"/>
<circle class="p" cx="896.3" cy="1141.1" r="4.8"/>
<circle class="p" cx="895.1" cy="1141.1" r="4.8"/>
<circle class="p" cx="897.7" cy="1141.1" r="4.8"/>
<circle class="p" cx="893.4" cy="1141.1" r="4.8"/>
<circle class="p" cx="895.4" cy="1141.1" r="4.8"/>
<circle class="p" cx="893.5" cy="1141.1" r="4.8"/>
<circle class="p" cx="899.0" cy="1141.1" r="4.8"/>
<circle class="p" cx="895.5" cy="1141.1" r="4.8"/>
<circle class="p" cx="894.1" cy="1141.1" r="4.8"/>
<circle class="p" cx="896.5" cy="1141.1" r="4.8"/>
<circle class="p" cx="894.5" cy="1141.1" r="4.8"/>
<circle class="p" cx="893.5" cy="1141.1" r="4.8"/>
<circle class="p" cx="897.5" cy="1141.1" r="4.8"/>
<circle class="p" cx="898.8" cy="1141.1" r="4.8"/>
<circle class="p" cx="893.1" cy="1141.1" r="4.8"/>
<circle class="p" cx="894.4" cy="1141.1" r="4.8"/>
<circle class="p" cx="894.2" cy="1141.1" r="4.8"/>
<circle class="p" cx="894.5" cy="1141.1" r="4.8"/>
<circle class="p" cx="895.4" cy="1141.1" r="4.8"/>
<circle class="p" cx="893.2" cy="1141.1" r="4.8"/>
<circle class="p" cx="898.2" cy="1141.1" r="4.8"/>
<circle class="p" cx="893.5" cy="1141.1" r="4.8"/>
<circle class="p" cx="898.1" cy="1141.1" r="4.8"/>
<line x1="920.2" y1="1141.1" x2="932.6" y2="1141.1" stroke="#000" stroke-width="1.35"/>
<line x1="920.2" y1="1141.1" x2="932.6" y2="1141.1" stroke="#000" stroke-width="1.35"/>
<rect x="914.0" y="1141.1" width="24.8" height="0.0" fill="#f0cfaf" stroke="#000" stroke-width="1.35"/>
<line x1="914.0" y1="1141.1" x2="938.8" y2="1141.1" stroke="#000" stroke-width="1.35"/>
<circle class="p" cx="924.3" cy="1141.1" r="4.8"/>
<circle class="p" cx="928.8" cy="1141.1" r="4.8"/>
<circle class="p" cx="926.1" cy="1141.1" r="4.8"/>
<circle class="p" cx="928.0" cy="1141.1" r="4.8"/>
<circle class="p" cx="927.7" cy="1141.1" r="4.8"/>
<circle class="p" cx="926.5" cy="1141.1" r="4.8"/>
<circle class="p" cx="926.3" cy="1141.1" r="4.8"/>
<circle class="p" cx="928.7" cy="1141.1" r="4.8"/>
<circle class="p" cx="928.4" cy="1141.1" r="4.8"/>
<circle class="p" cx="924.3" cy="1141.1" r="4.8"/>
<circle class="p" cx="929.1" cy="1141.1" r="4.8"/>
<circle class="p" cx="925.4" cy="1141.1" r="4.8"/>
<circle class="p" cx="926.2" cy="1141.1" r="4.8"/>
<circle class="p" cx="927.1" cy="1141.1" r="4.8"/>
<circle class="p" cx="928.4" cy="1141.1" r="4.8"/>
<circle class="p" cx="924.7" cy="1141.1" r="4.8"/>
<circle class="p" cx="926.3" cy="1141.1" r="4.8"/>
<circle class="p" cx="928.7" cy="1141.1" r="4.8"/>
<circle class="p" cx="925.9" cy="1141.1" r="4.8"/>
<circle class="p" cx="926.1" cy="1141.1" r="4.8"/>
<circle class="p" cx="926.3" cy="1141.1" r="4.8"/>
<circle class="p" cx="929.0" cy="1141.1" r="4.8"/>
<circle class="p" cx="929.1" cy="1141.1" r="4.8"/>
<circle class="p" cx="928.0" cy="1141.1" r="4.8"/>
<circle class="p" cx="927.6" cy="1141.1" r="4.8"/>
<circle class="p" cx="926.1" cy="1141.1" r="4.8"/>
<circle class="p" cx="926.0" cy="1141.1" r="4.8"/>
<circle class="p" cx="928.4" cy="1141.1" r="4.8"/>
<circle class="p" cx="926.2" cy="1141.1" r="4.8"/>
<circle class="p" cx="928.8" cy="1141.1" r="4.8"/>
<circle class="p" cx="927.9" cy="1141.1" r="4.8"/>
<circle class="p" cx="928.3" cy="1141.1" r="4.8"/>
<circle class="p" cx="926.1" cy="1141.1" r="4.8"/>
<circle class="p" cx="925.5" cy="1141.1" r="4.8"/>
<circle class="p" cx="927.3" cy="1141.1" r="4.8"/>
<circle class="p" cx="927.6" cy="1141.1" r="4.8"/>
<circle class="p" cx="926.2" cy="1141.1" r="4.8"/>
<circle class="p" cx="925.8" cy="1141.1" r="4.8"/>
<circle class="p" cx="929.1" cy="1141.1" r="4.8"/>
<circle class="p" cx="928.8" cy="1141.1" r="4.8"/>
<circle class="p" cx="923.5" cy="1141.1" r="4.8"/>
<circle class="p" cx="924.5" cy="1141.1" r="4.8"/>
<circle class="p" cx="923.6" cy="1141.1" r="4.8"/>
<circle class="p" cx="928.9" cy="1141.1" r="4.8"/>
<circle class="p" cx="924.6" cy="1141.1" r="4.8"/>
<circle class="p" cx="926.3" cy="1141.1" r="4.8"/>
<circle class="p" cx="927.6" cy="1141.1" r="4.8"/>
<line x1="950.7" y1="1141.1" x2="963.1" y2="1141.1" stroke="#000" stroke-width="1.35"/>
<line x1="950.7" y1="1141.1" x2="963.1" y2="1141.1" stroke="#000" stroke-width="1.35"/>
<rect x="944.5" y="1141.1" width="24.8" height="0.0" fill="#f0cfaf" stroke="#000" stroke-width="1.35"/>
<line x1="944.5" y1="1141.1" x2="969.3" y2="1141.1" stroke="#000" stroke-width="1.35"/>
<circle class="p" cx="956.5" cy="1141.1" r="4.8"/>
<circle class="p" cx="955.0" cy="1141.1" r="4.8"/>
<circle class="p" cx="955.4" cy="1141.1" r="4.8"/>
<line x1="981.1" y1="1141.1" x2="993.5" y2="1141.1" stroke="#000" stroke-width="1.35"/>
<line x1="981.1" y1="1141.1" x2="993.5" y2="1141.1" stroke="#000" stroke-width="1.35"/>
<rect x="974.9" y="1141.1" width="24.8" height="0.0" fill="#f0cfaf" stroke="#000" stroke-width="1.35"/>
<line x1="974.9" y1="1141.1" x2="999.7" y2="1141.1" stroke="#000" stroke-width="1.35"/>
<circle class="p" cx="986.7" cy="1141.1" r="4.8"/>
<circle class="p" cx="985.3" cy="1141.1" r="4.8"/>
<circle class="p" cx="986.5" cy="1141.1" r="4.8"/>
<circle class="p" cx="987.4" cy="1141.1" r="4.8"/>
<circle class="p" cx="985.6" cy="1141.1" r="4.8"/>
<circle class="p" cx="989.4" cy="1141.1" r="4.8"/>
<circle class="p" cx="988.4" cy="1141.1" r="4.8"/>
<circle class="p" cx="988.6" cy="1141.1" r="4.8"/>
<circle class="p" cx="985.0" cy="1141.1" r="4.8"/>
<circle class="p" cx="988.1" cy="1141.1" r="4.8"/>
<circle class="p" cx="988.0" cy="1141.1" r="4.8"/>
<circle class="p" cx="984.7" cy="1141.1" r="4.8"/>
<circle class="p" cx="988.0" cy="1141.1" r="4.8"/>
<circle class="p" cx="985.8" cy="1141.1" r="4.8"/>
<circle class="p" cx="987.4" cy="1141.1" r="4.8"/>
<circle class="p" cx="987.5" cy="1141.1" r="4.8"/>
<circle class="p" cx="986.4" cy="1141.1" r="4.8"/>
<circle class="p" cx="985.3" cy="1141.1" r="4.8"/>
<circle class="p" cx="989.4" cy="1141.1" r="4.8"/>
<circle class="p" cx="986.2" cy="1141.1" r="4.8"/>
<circle class="p" cx="988.1" cy="1141.1" r="4.8"/>
<circle class="p" cx="985.9" cy="1141.1" r="4.8"/>
<circle class="p" cx="989.9" cy="1141.1" r="4.8"/>
<circle class="p" cx="988.2" cy="1141.1" r="4.8"/>
<circle class="p" cx="985.3" cy="1141.1" r="4.8"/>
<circle class="p" cx="987.0" cy="1141.1" r="4.8"/>
<circle class="p" cx="989.4" cy="1141.1" r="4.8"/>
<circle class="p" cx="989.7" cy="1161.0" r="4.8"/>
<circle class="p" cx="987.4" cy="1329.8" r="4.8"/>
<line x1="1017.8" y1="1162.2" x2="1017.8" y2="1194.9" stroke="#000" stroke-width="1.35" stroke-dasharray="12 18"/>
<line x1="1011.6" y1="1162.2" x2="1024.0" y2="1162.2" stroke="#000" stroke-width="1.35"/>
<line x1="1011.6" y1="1217.7" x2="1024.0" y2="1217.7" stroke="#000" stroke-width="1.35"/>
<rect x="1005.4" y="1194.9" width="24.8" height="22.8" fill="#f0cfaf" stroke="#000" stroke-width="1.35"/>
<line x1="1005.4" y1="1217.1" x2="1030.2" y2="1217.1" stroke="#000" stroke-width="1.35"/>
<circle class="p" cx="1018.2" cy="1145.8" r="4.8"/>
<circle class="p" cx="1019.3" cy="1162.2" r="4.8"/>
<circle class="p" cx="1017.4" cy="1184.6" r="4.8"/>
<circle class="p" cx="1015.8" cy="1204.4" r="4.8"/>
<circle class="p" cx="1019.2" cy="1216.1" r="4.8"/>
<circle class="p" cx="1016.9" cy="1216.7" r="4.8"/>
<circle class="p" cx="1015.4" cy="1217.1" r="4.8"/>
<circle class="p" cx="1020.2" cy="1217.1" r="4.8"/>
<circle class="p" cx="1015.5" cy="1217.5" r="4.8"/>
<circle class="p" cx="1020.5" cy="1217.7" r="4.8"/>
<circle class="p" cx="1017.0" cy="1310.6" r="4.8"/>
<circle class="p" cx="1017.4" cy="1310.6" r="4.8"/>
<line x1="1048.2" y1="1141.1" x2="1048.2" y2="1154.2" stroke="#000" stroke-width="1.35" stroke-dasharray="12 18"/>
<line x1="1048.2" y1="1331.1" x2="1048.2" y2="1329.2" stroke="#000" stroke-width="1.35" stroke-dasharray="12 18"/>
<line x1="1042.0" y1="1141.1" x2="1054.4" y2="1141.1" stroke="#000" stroke-width="1.35"/>
<line x1="1042.0" y1="1331.1" x2="1054.4" y2="1331.1" stroke="#000" stroke-width="1.35"/>
<rect x="1035.8" y="1154.2" width="24.8" height="175.0" fill="#f0cfaf" stroke="#000" stroke-width="1.35"/>
<line x1="1035.8" y1="1314.0" x2="1060.6" y2="1314.0" stroke="#000" stroke-width="1.35"/>
<circle class="p" cx="1050.3" cy="1141.1" r="4.8"/>
<circle class="p" cx="1050.6" cy="1141.1" r="4.8"/>
<circle class="p" cx="1048.8" cy="1141.1" r="4.8"/>
<circle class="p" cx="1045.6" cy="1141.1" r="4.8"/>
<circle class="p" cx="1046.2" cy="1141.1" r="4.8"/>
<circle class="p" cx="1048.4" cy="1146.8" r="4.8"/>
<circle class="p" cx="1046.9" cy="1154.2" r="4.8"/>
<circle class="p" cx="1050.9" cy="1154.4" r="4.8"/>
<circle class="p" cx="1046.6" cy="1189.0" r="4.8"/>
<circle class="p" cx="1048.1" cy="1195.6" r="4.8"/>
<circle class="p" cx="1046.9" cy="1212.5" r="4.8"/>
<circle class="p" cx="1046.6" cy="1229.1" r="4.8"/>
<circle class="p" cx="1050.5" cy="1263.3" r="4.8"/>
<circle class="p" cx="1049.2" cy="1287.8" r="4.8"/>
<circle class="p" cx="1048.4" cy="1291.2" r="4.8"/>
<circle class="p" cx="1050.9" cy="1309.8" r="4.8"/>
<circle class="p" cx="1047.2" cy="1314.0" r="4.8"/>
<circle class="p" cx="1049.5" cy="1321.6" r="4.8"/>
<circle class="p" cx="1048.2" cy="1322.5" r="4.8"/>
<circle class="p" cx="1050.3" cy="1323.5" r="4.8"/>
<circle class="p" cx="1049.0" cy="1324.4" r="4.8"/>
<circle class="p" cx="1050.6" cy="1325.4" r="4.8"/>
<circle class="p" cx="1049.7" cy="1326.3" r="4.8"/>
<circle class="p" cx="1049.1" cy="1327.3" r="4.8"/>
<circle class="p" cx="1049.6" cy="1327.7" r="4.8"/>
<circle class="p" cx="1049.7" cy="1328.2" r="4.8"/>
<circle class="p" cx="1049.7" cy="1328.8" r="4.8"/>
<circle class="p" cx="1049.4" cy="1329.2" r="4.8"/>
<circle class="p" cx="1049.2" cy="1329.6" r="4.8"/>
<circle class="p" cx="1050.7" cy="1330.0" r="4.8"/>
<circle class="p" cx="1046.3" cy="1330.3" r="4.8"/>
<circle class="p" cx="1045.4" cy="1330.7" r="4.8"/>
<circle class="p" cx="1048.6" cy="1331.1" r="4.8"/>
<circle class="p" cx="1049.9" cy="1148.7" r="4.8"/>
<circle class="p" cx="1045.9" cy="1315.9" r="4.8"/>
<circle class="p" cx="1047.7" cy="1319.7" r="4.8"/>
<circle class="p" cx="1046.0" cy="1326.9" r="4.8"/>
<rect x="113.5" y="1133.5" width="986.5" height="205.2" fill="none" stroke="#000" stroke-width="1.35"/>
<line x1="94.5" y1="1331.1" x2="113.5" y2="1331.1" stroke="#000" stroke-width="1.35"/>
<text transform="translate(78.8,1342.4) scale(1,1.06)" text-anchor="end" class="t">0</text>
<line x1="94.5" y1="1293.1" x2="113.5" y2="1293.1" stroke="#000" stroke-width="1.35"/>
<text transform="translate(78.8,1304.4) scale(1,1.06)" text-anchor="end" class="t">20</text>
<line x1="94.5" y1="1255.1" x2="113.5" y2="1255.1" stroke="#000" stroke-width="1.35"/>
<text transform="translate(78.8,1266.4) scale(1,1.06)" text-anchor="end" class="t">40</text>
<line x1="94.5" y1="1217.1" x2="113.5" y2="1217.1" stroke="#000" stroke-width="1.35"/>
<text transform="translate(78.8,1228.4) scale(1,1.06)" text-anchor="end" class="t">60</text>
<line x1="94.5" y1="1179.1" x2="113.5" y2="1179.1" stroke="#000" stroke-width="1.35"/>
<text transform="translate(78.8,1190.4) scale(1,1.06)" text-anchor="end" class="t">80</text>
<line x1="94.5" y1="1141.1" x2="113.5" y2="1141.1" stroke="#000" stroke-width="1.35"/>
<text transform="translate(78.8,1152.4) scale(1,1.06)" text-anchor="end" class="t">100</text>
<line x1="165.3" y1="1338.7" x2="165.3" y2="1357.7" stroke="#000" stroke-width="1.35"/>
<text transform="translate(177.9,1358.6) rotate(-90) scale(1,1.06)" text-anchor="end" class="t c">1</text>
<line x1="195.7" y1="1338.7" x2="195.7" y2="1357.7" stroke="#000" stroke-width="1.35"/>
<text transform="translate(208.3,1358.6) rotate(-90) scale(1,1.06)" text-anchor="end" class="t c">2</text>
<line x1="226.2" y1="1338.7" x2="226.2" y2="1357.7" stroke="#000" stroke-width="1.35"/>
<text transform="translate(238.7,1358.6) rotate(-90) scale(1,1.06)" text-anchor="end" class="t c">0</text>
<line x1="256.6" y1="1338.7" x2="256.6" y2="1357.7" stroke="#000" stroke-width="1.35"/>
<text transform="translate(269.1,1358.6) rotate(-90) scale(1,1.06)" text-anchor="end" class="t c">35</text>
<line x1="287.1" y1="1338.7" x2="287.1" y2="1357.7" stroke="#000" stroke-width="1.35"/>
<text transform="translate(299.5,1358.6) rotate(-90) scale(1,1.06)" text-anchor="end" class="t c">9</text>
<line x1="317.5" y1="1338.7" x2="317.5" y2="1357.7" stroke="#000" stroke-width="1.35"/>
<text transform="translate(329.9,1358.6) rotate(-90) scale(1,1.06)" text-anchor="end" class="t c">10</text>
<line x1="347.9" y1="1338.7" x2="347.9" y2="1357.7" stroke="#000" stroke-width="1.35"/>
<text transform="translate(360.3,1358.6) rotate(-90) scale(1,1.06)" text-anchor="end" class="t c">2</text>
<line x1="378.4" y1="1338.7" x2="378.4" y2="1357.7" stroke="#000" stroke-width="1.35"/>
<text transform="translate(390.7,1358.6) rotate(-90) scale(1,1.06)" text-anchor="end" class="t c">1</text>
<line x1="408.8" y1="1338.7" x2="408.8" y2="1357.7" stroke="#000" stroke-width="1.35"/>
<text transform="translate(421.1,1358.6) rotate(-90) scale(1,1.06)" text-anchor="end" class="t c">2</text>
<line x1="439.3" y1="1338.7" x2="439.3" y2="1357.7" stroke="#000" stroke-width="1.35"/>
<text transform="translate(451.5,1358.6) rotate(-90) scale(1,1.06)" text-anchor="end" class="t c">2</text>
<line x1="469.7" y1="1338.7" x2="469.7" y2="1357.7" stroke="#000" stroke-width="1.35"/>
<text transform="translate(481.9,1358.6) rotate(-90) scale(1,1.06)" text-anchor="end" class="t c">10</text>
<line x1="500.2" y1="1338.7" x2="500.2" y2="1357.7" stroke="#000" stroke-width="1.35"/>
<text transform="translate(512.3,1358.6) rotate(-90) scale(1,1.06)" text-anchor="end" class="t c">8</text>
<line x1="530.6" y1="1338.7" x2="530.6" y2="1357.7" stroke="#000" stroke-width="1.35"/>
<text transform="translate(542.7,1358.6) rotate(-90) scale(1,1.06)" text-anchor="end" class="t c">4</text>
<line x1="561.1" y1="1338.7" x2="561.1" y2="1357.7" stroke="#000" stroke-width="1.35"/>
<text transform="translate(573.1,1358.6) rotate(-90) scale(1,1.06)" text-anchor="end" class="t c">2</text>
<line x1="591.5" y1="1338.7" x2="591.5" y2="1357.7" stroke="#000" stroke-width="1.35"/>
<text transform="translate(603.5,1358.6) rotate(-90) scale(1,1.06)" text-anchor="end" class="t c">31</text>
<line x1="622.0" y1="1338.7" x2="622.0" y2="1357.7" stroke="#000" stroke-width="1.35"/>
<text transform="translate(633.9,1358.6) rotate(-90) scale(1,1.06)" text-anchor="end" class="t c">4</text>
<line x1="652.4" y1="1338.7" x2="652.4" y2="1357.7" stroke="#000" stroke-width="1.35"/>
<text transform="translate(664.3,1358.6) rotate(-90) scale(1,1.06)" text-anchor="end" class="t c">8</text>
<line x1="682.9" y1="1338.7" x2="682.9" y2="1357.7" stroke="#000" stroke-width="1.35"/>
<text transform="translate(694.7,1358.6) rotate(-90) scale(1,1.06)" text-anchor="end" class="t c">7</text>
<line x1="713.3" y1="1338.7" x2="713.3" y2="1357.7" stroke="#000" stroke-width="1.35"/>
<text transform="translate(725.1,1358.6) rotate(-90) scale(1,1.06)" text-anchor="end" class="t c">27</text>
<line x1="743.8" y1="1338.7" x2="743.8" y2="1357.7" stroke="#000" stroke-width="1.35"/>
<text transform="translate(755.5,1358.6) rotate(-90) scale(1,1.06)" text-anchor="end" class="t c">5</text>
<line x1="774.2" y1="1338.7" x2="774.2" y2="1357.7" stroke="#000" stroke-width="1.35"/>
<text transform="translate(785.9,1358.6) rotate(-90) scale(1,1.06)" text-anchor="end" class="t c">6</text>
<line x1="804.7" y1="1338.7" x2="804.7" y2="1357.7" stroke="#000" stroke-width="1.35"/>
<text transform="translate(816.3,1358.6) rotate(-90) scale(1,1.06)" text-anchor="end" class="t c">10</text>
<line x1="835.1" y1="1338.7" x2="835.1" y2="1357.7" stroke="#000" stroke-width="1.35"/>
<text transform="translate(846.7,1358.6) rotate(-90) scale(1,1.06)" text-anchor="end" class="t c">56</text>
<line x1="865.6" y1="1338.7" x2="865.6" y2="1357.7" stroke="#000" stroke-width="1.35"/>
<text transform="translate(877.1,1358.6) rotate(-90) scale(1,1.06)" text-anchor="end" class="t c">11</text>
<line x1="896.0" y1="1338.7" x2="896.0" y2="1357.7" stroke="#000" stroke-width="1.35"/>
<text transform="translate(907.5,1358.6) rotate(-90) scale(1,1.06)" text-anchor="end" class="t c">24</text>
<line x1="926.4" y1="1338.7" x2="926.4" y2="1357.7" stroke="#000" stroke-width="1.35"/>
<text transform="translate(937.9,1358.6) rotate(-90) scale(1,1.06)" text-anchor="end" class="t c">47</text>
<line x1="956.9" y1="1338.7" x2="956.9" y2="1357.7" stroke="#000" stroke-width="1.35"/>
<text transform="translate(968.3,1358.6) rotate(-90) scale(1,1.06)" text-anchor="end" class="t c">3</text>
<line x1="987.3" y1="1338.7" x2="987.3" y2="1357.7" stroke="#000" stroke-width="1.35"/>
<text transform="translate(998.7,1358.6) rotate(-90) scale(1,1.06)" text-anchor="end" class="t c">29</text>
<line x1="1017.8" y1="1338.7" x2="1017.8" y2="1357.7" stroke="#000" stroke-width="1.35"/>
<text transform="translate(1029.1,1358.6) rotate(-90) scale(1,1.06)" text-anchor="end" class="t c">12</text>
<line x1="1048.2" y1="1338.7" x2="1048.2" y2="1357.7" stroke="#000" stroke-width="1.35"/>
<text transform="translate(1059.5,1358.6) rotate(-90) scale(1,1.06)" text-anchor="end" class="t c">37</text>
<text transform="translate(1113,1197.7) scale(1,1.06)" class="t" style="font-style:italic;fill:#df780a">ITS1</text>
<text transform="translate(1113,1233.7) scale(1,1.06)" class="t">G6337A</text>
<text transform="translate(1113,1269.7) scale(1,1.06)" class="t">n = 405</text>
<line x1="1048.2" y1="1426.4" x2="1048.2" y2="1517.8" stroke="#000" stroke-width="1.35" stroke-dasharray="12 18"/>
<line x1="1048.2" y1="1602.7" x2="1048.2" y2="1579.3" stroke="#000" stroke-width="1.35" stroke-dasharray="12 18"/>
<line x1="1042.0" y1="1426.4" x2="1054.4" y2="1426.4" stroke="#000" stroke-width="1.35"/>
<line x1="1042.0" y1="1602.7" x2="1054.4" y2="1602.7" stroke="#000" stroke-width="1.35"/>
<rect x="1035.8" y="1517.8" width="24.8" height="61.6" fill="#f0cfaf" stroke="#000" stroke-width="1.35"/>
<line x1="1035.8" y1="1542.7" x2="1060.6" y2="1542.7" stroke="#000" stroke-width="1.35"/>
<circle class="p" cx="1048.1" cy="1426.4" r="4.8"/>
<circle class="p" cx="1050.7" cy="1480.9" r="4.8"/>
<circle class="p" cx="1048.5" cy="1492.1" r="4.8"/>
<circle class="p" cx="1050.5" cy="1491.4" r="4.8"/>
<circle class="p" cx="1048.7" cy="1492.9" r="4.8"/>
<circle class="p" cx="1051.2" cy="1502.8" r="4.8"/>
<circle class="p" cx="1047.4" cy="1507.5" r="4.8"/>
<circle class="p" cx="1049.2" cy="1516.8" r="4.8"/>
<circle class="p" cx="1048.2" cy="1517.6" r="4.8"/>
<circle class="p" cx="1048.7" cy="1520.5" r="4.8"/>
<circle class="p" cx="1047.2" cy="1521.4" r="4.8"/>
<circle class="p" cx="1050.1" cy="1525.2" r="4.8"/>
<circle class="p" cx="1050.1" cy="1530.5" r="4.8"/>
<circle class="p" cx="1049.2" cy="1530.9" r="4.8"/>
<circle class="p" cx="1048.7" cy="1538.1" r="4.8"/>
<circle class="p" cx="1045.5" cy="1548.8" r="4.8"/>
<circle class="p" cx="1049.9" cy="1549.9" r="4.8"/>
<circle class="p" cx="1047.3" cy="1552.4" r="4.8"/>
<circle class="p" cx="1045.8" cy="1553.1" r="4.8"/>
<circle class="p" cx="1046.6" cy="1557.7" r="4.8"/>
<circle class="p" cx="1047.0" cy="1568.7" r="4.8"/>
<circle class="p" cx="1046.0" cy="1577.1" r="4.8"/>
<circle class="p" cx="1048.1" cy="1578.0" r="4.8"/>
<circle class="p" cx="1050.5" cy="1582.6" r="4.8"/>
<circle class="p" cx="1048.8" cy="1586.0" r="4.8"/>
<circle class="p" cx="1047.6" cy="1591.7" r="4.8"/>
<circle class="p" cx="1047.4" cy="1595.3" r="4.8"/>
<circle class="p" cx="1050.3" cy="1602.7" r="4.8"/>
<circle class="p" cx="1049.5" cy="1603.1" r="4.8"/>
<circle class="p" cx="1048.5" cy="1602.2" r="4.8"/>
<rect x="113.5" y="1407.4" width="986.5" height="205.2" fill="none" stroke="#000" stroke-width="1.35"/>
<line x1="94.5" y1="1605.0" x2="113.5" y2="1605.0" stroke="#000" stroke-width="1.35"/>
<text transform="translate(78.8,1616.3) scale(1,1.06)" text-anchor="end" class="t">0</text>
<line x1="94.5" y1="1567.0" x2="113.5" y2="1567.0" stroke="#000" stroke-width="1.35"/>
<text transform="translate(78.8,1578.3) scale(1,1.06)" text-anchor="end" class="t">20</text>
<line x1="94.5" y1="1529.0" x2="113.5" y2="1529.0" stroke="#000" stroke-width="1.35"/>
<text transform="translate(78.8,1540.3) scale(1,1.06)" text-anchor="end" class="t">40</text>
<line x1="94.5" y1="1491.0" x2="113.5" y2="1491.0" stroke="#000" stroke-width="1.35"/>
<text transform="translate(78.8,1502.3) scale(1,1.06)" text-anchor="end" class="t">60</text>
<line x1="94.5" y1="1453.0" x2="113.5" y2="1453.0" stroke="#000" stroke-width="1.35"/>
<text transform="translate(78.8,1464.3) scale(1,1.06)" text-anchor="end" class="t">80</text>
<line x1="94.5" y1="1415.0" x2="113.5" y2="1415.0" stroke="#000" stroke-width="1.35"/>
<text transform="translate(78.8,1426.3) scale(1,1.06)" text-anchor="end" class="t">100</text>
<line x1="165.3" y1="1612.6" x2="165.3" y2="1631.6" stroke="#000" stroke-width="1.35"/>
<text transform="translate(177.9,1632.5) rotate(-90) scale(1,1.06)" text-anchor="end" class="t c">0</text>
<line x1="195.7" y1="1612.6" x2="195.7" y2="1631.6" stroke="#000" stroke-width="1.35"/>
<text transform="translate(208.3,1632.5) rotate(-90) scale(1,1.06)" text-anchor="end" class="t c">0</text>
<line x1="226.2" y1="1612.6" x2="226.2" y2="1631.6" stroke="#000" stroke-width="1.35"/>
<text transform="translate(238.7,1632.5) rotate(-90) scale(1,1.06)" text-anchor="end" class="t c">0</text>
<line x1="256.6" y1="1612.6" x2="256.6" y2="1631.6" stroke="#000" stroke-width="1.35"/>
<text transform="translate(269.1,1632.5) rotate(-90) scale(1,1.06)" text-anchor="end" class="t c">0</text>
<line x1="287.1" y1="1612.6" x2="287.1" y2="1631.6" stroke="#000" stroke-width="1.35"/>
<text transform="translate(299.5,1632.5) rotate(-90) scale(1,1.06)" text-anchor="end" class="t c">0</text>
<line x1="317.5" y1="1612.6" x2="317.5" y2="1631.6" stroke="#000" stroke-width="1.35"/>
<text transform="translate(329.9,1632.5) rotate(-90) scale(1,1.06)" text-anchor="end" class="t c">0</text>
<line x1="347.9" y1="1612.6" x2="347.9" y2="1631.6" stroke="#000" stroke-width="1.35"/>
<text transform="translate(360.3,1632.5) rotate(-90) scale(1,1.06)" text-anchor="end" class="t c">0</text>
<line x1="378.4" y1="1612.6" x2="378.4" y2="1631.6" stroke="#000" stroke-width="1.35"/>
<text transform="translate(390.7,1632.5) rotate(-90) scale(1,1.06)" text-anchor="end" class="t c">0</text>
<line x1="408.8" y1="1612.6" x2="408.8" y2="1631.6" stroke="#000" stroke-width="1.35"/>
<text transform="translate(421.1,1632.5) rotate(-90) scale(1,1.06)" text-anchor="end" class="t c">0</text>
<line x1="439.3" y1="1612.6" x2="439.3" y2="1631.6" stroke="#000" stroke-width="1.35"/>
<text transform="translate(451.5,1632.5) rotate(-90) scale(1,1.06)" text-anchor="end" class="t c">0</text>
<line x1="469.7" y1="1612.6" x2="469.7" y2="1631.6" stroke="#000" stroke-width="1.35"/>
<text transform="translate(481.9,1632.5) rotate(-90) scale(1,1.06)" text-anchor="end" class="t c">0</text>
<line x1="500.2" y1="1612.6" x2="500.2" y2="1631.6" stroke="#000" stroke-width="1.35"/>
<text transform="translate(512.3,1632.5) rotate(-90) scale(1,1.06)" text-anchor="end" class="t c">0</text>
<line x1="530.6" y1="1612.6" x2="530.6" y2="1631.6" stroke="#000" stroke-width="1.35"/>
<text transform="translate(542.7,1632.5) rotate(-90) scale(1,1.06)" text-anchor="end" class="t c">0</text>
<line x1="561.1" y1="1612.6" x2="561.1" y2="1631.6" stroke="#000" stroke-width="1.35"/>
<text transform="translate(573.1,1632.5) rotate(-90) scale(1,1.06)" text-anchor="end" class="t c">0</text>
<line x1="591.5" y1="1612.6" x2="591.5" y2="1631.6" stroke="#000" stroke-width="1.35"/>
<text transform="translate(603.5,1632.5) rotate(-90) scale(1,1.06)" text-anchor="end" class="t c">0</text>
<line x1="622.0" y1="1612.6" x2="622.0" y2="1631.6" stroke="#000" stroke-width="1.35"/>
<text transform="translate(633.9,1632.5) rotate(-90) scale(1,1.06)" text-anchor="end" class="t c">0</text>
<line x1="652.4" y1="1612.6" x2="652.4" y2="1631.6" stroke="#000" stroke-width="1.35"/>
<text transform="translate(664.3,1632.5) rotate(-90) scale(1,1.06)" text-anchor="end" class="t c">0</text>
<line x1="682.9" y1="1612.6" x2="682.9" y2="1631.6" stroke="#000" stroke-width="1.35"/>
<text transform="translate(694.7,1632.5) rotate(-90) scale(1,1.06)" text-anchor="end" class="t c">0</text>
<line x1="713.3" y1="1612.6" x2="713.3" y2="1631.6" stroke="#000" stroke-width="1.35"/>
<text transform="translate(725.1,1632.5) rotate(-90) scale(1,1.06)" text-anchor="end" class="t c">0</text>
<line x1="743.8" y1="1612.6" x2="743.8" y2="1631.6" stroke="#000" stroke-width="1.35"/>
<text transform="translate(755.5,1632.5) rotate(-90) scale(1,1.06)" text-anchor="end" class="t c">0</text>
<line x1="774.2" y1="1612.6" x2="774.2" y2="1631.6" stroke="#000" stroke-width="1.35"/>
<text transform="translate(785.9,1632.5) rotate(-90) scale(1,1.06)" text-anchor="end" class="t c">0</text>
<line x1="804.7" y1="1612.6" x2="804.7" y2="1631.6" stroke="#000" stroke-width="1.35"/>
<text transform="translate(816.3,1632.5) rotate(-90) scale(1,1.06)" text-anchor="end" class="t c">0</text>
<line x1="835.1" y1="1612.6" x2="835.1" y2="1631.6" stroke="#000" stroke-width="1.35"/>
<text transform="translate(846.7,1632.5) rotate(-90) scale(1,1.06)" text-anchor="end" class="t c">0</text>
<line x1="865.6" y1="1612.6" x2="865.6" y2="1631.6" stroke="#000" stroke-width="1.35"/>
<text transform="translate(877.1,1632.5) rotate(-90) scale(1,1.06)" text-anchor="end" class="t c">0</text>
<line x1="896.0" y1="1612.6" x2="896.0" y2="1631.6" stroke="#000" stroke-width="1.35"/>
<text transform="translate(907.5,1632.5) rotate(-90) scale(1,1.06)" text-anchor="end" class="t c">0</text>
<line x1="926.4" y1="1612.6" x2="926.4" y2="1631.6" stroke="#000" stroke-width="1.35"/>
<text transform="translate(937.9,1632.5) rotate(-90) scale(1,1.06)" text-anchor="end" class="t c">0</text>
<line x1="956.9" y1="1612.6" x2="956.9" y2="1631.6" stroke="#000" stroke-width="1.35"/>
<text transform="translate(968.3,1632.5) rotate(-90) scale(1,1.06)" text-anchor="end" class="t c">0</text>
<line x1="987.3" y1="1612.6" x2="987.3" y2="1631.6" stroke="#000" stroke-width="1.35"/>
<text transform="translate(998.7,1632.5) rotate(-90) scale(1,1.06)" text-anchor="end" class="t c">0</text>
<line x1="1017.8" y1="1612.6" x2="1017.8" y2="1631.6" stroke="#000" stroke-width="1.35"/>
<text transform="translate(1029.1,1632.5) rotate(-90) scale(1,1.06)" text-anchor="end" class="t c">0</text>
<line x1="1048.2" y1="1612.6" x2="1048.2" y2="1631.6" stroke="#000" stroke-width="1.35"/>
<text transform="translate(1059.5,1632.5) rotate(-90) scale(1,1.06)" text-anchor="end" class="t c">28</text>
<text transform="translate(1113,1471.1) scale(1,1.06)" class="t" style="font-style:italic;fill:#df780a">ITS2</text>
<text transform="translate(1113,1507.1) scale(1,1.06)" class="t">C5993CT</text>
<text transform="translate(1113,1543.1) scale(1,1.06)" class="t">n = 28</text>
<line x1="165.3" y1="1690.6" x2="165.3" y2="1691.5" stroke="#000" stroke-width="1.35" stroke-dasharray="12 18"/>
<line x1="165.3" y1="1875.8" x2="165.3" y2="1869.2" stroke="#000" stroke-width="1.35" stroke-dasharray="12 18"/>
<line x1="159.1" y1="1690.6" x2="171.5" y2="1690.6" stroke="#000" stroke-width="1.35"/>
<line x1="159.1" y1="1875.8" x2="171.5" y2="1875.8" stroke="#000" stroke-width="1.35"/>
<rect x="152.9" y="1691.5" width="24.8" height="177.7" fill="#f0cfaf" stroke="#000" stroke-width="1.35"/>
<line x1="152.9" y1="1750.1" x2="177.7" y2="1750.1" stroke="#000" stroke-width="1.35"/>
<circle class="p" cx="164.3" cy="1690.6" r="4.8"/>
<circle class="p" cx="163.6" cy="1690.6" r="4.8"/>
<circle class="p" cx="162.3" cy="1690.6" r="4.8"/>
<circle class="p" cx="167.8" cy="1690.6" r="4.8"/>
<circle class="p" cx="164.2" cy="1690.6" r="4.8"/>
<circle class="p" cx="162.3" cy="1692.5" r="4.8"/>
<circle class="p" cx="163.5" cy="1692.5" r="4.8"/>
<circle class="p" cx="165.4" cy="1805.4" r="4.8"/>
<circle class="p" cx="166.8" cy="1858.9" r="4.8"/>
<circle class="p" cx="164.1" cy="1866.2" r="4.8"/>
<circle class="p" cx="163.2" cy="1867.3" r="4.8"/>
<circle class="p" cx="162.7" cy="1874.9" r="4.8"/>
<circle class="p" cx="167.5" cy="1875.3" r="4.8"/>
<circle class="p" cx="164.1" cy="1875.8" r="4.8"/>
<line x1="317.5" y1="1709.6" x2="317.5" y2="1771.5" stroke="#000" stroke-width="1.35" stroke-dasharray="12 18"/>
<line x1="317.5" y1="1877.6" x2="317.5" y2="1857.8" stroke="#000" stroke-width="1.35" stroke-dasharray="12 18"/>
<line x1="311.3" y1="1709.6" x2="323.7" y2="1709.6" stroke="#000" stroke-width="1.35"/>
<line x1="311.3" y1="1877.6" x2="323.7" y2="1877.6" stroke="#000" stroke-width="1.35"/>
<rect x="305.1" y="1771.5" width="24.8" height="86.3" fill="#f0cfaf" stroke="#000" stroke-width="1.35"/>
<line x1="305.1" y1="1837.7" x2="329.9" y2="1837.7" stroke="#000" stroke-width="1.35"/>
<circle class="p" cx="316.1" cy="1709.6" r="4.8"/>
<circle class="p" cx="320.4" cy="1771.5" r="4.8"/>
<circle class="p" cx="318.9" cy="1834.0" r="4.8"/>
<circle class="p" cx="319.1" cy="1840.7" r="4.8"/>
<circle class="p" cx="318.9" cy="1857.8" r="4.8"/>
<circle class="p" cx="314.7" cy="1877.6" r="4.8"/>
<line x1="561.1" y1="1690.6" x2="561.1" y2="1691.9" stroke="#000" stroke-width="1.35" stroke-dasharray="12 18"/>
<line x1="561.1" y1="1823.4" x2="561.1" y2="1815.0" stroke="#000" stroke-width="1.35" stroke-dasharray="12 18"/>
<line x1="554.9" y1="1690.6" x2="567.3" y2="1690.6" stroke="#000" stroke-width="1.35"/>
<line x1="554.9" y1="1823.4" x2="567.3" y2="1823.4" stroke="#000" stroke-width="1.35"/>
<rect x="548.7" y="1691.9" width="24.8" height="123.1" fill="#f0cfaf" stroke="#000" stroke-width="1.35"/>
<line x1="548.7" y1="1801.8" x2="573.5" y2="1801.8" stroke="#000" stroke-width="1.35"/>
<circle class="p" cx="562.8" cy="1690.6" r="4.8"/>
<circle class="p" cx="564.0" cy="1691.4" r="4.8"/>
<circle class="p" cx="564.0" cy="1801.8" r="4.8"/>
<circle class="p" cx="558.6" cy="1815.0" r="4.8"/>
<circle class="p" cx="561.8" cy="1823.4" r="4.8"/>
<line x1="591.5" y1="1690.6" x2="591.5" y2="1776.7" stroke="#000" stroke-width="1.35" stroke-dasharray="12 18"/>
<line x1="591.5" y1="1876.8" x2="591.5" y2="1870.7" stroke="#000" stroke-width="1.35" stroke-dasharray="12 18"/>
<line x1="585.3" y1="1690.6" x2="597.7" y2="1690.6" stroke="#000" stroke-width="1.35"/>
<line x1="585.3" y1="1876.8" x2="597.7" y2="1876.8" stroke="#000" stroke-width="1.35"/>
<rect x="579.1" y="1776.7" width="24.8" height="94.0" fill="#f0cfaf" stroke="#000" stroke-width="1.35"/>
<line x1="579.1" y1="1820.6" x2="603.9" y2="1820.6" stroke="#000" stroke-width="1.35"/>
<circle class="p" cx="593.9" cy="1690.6" r="4.8"/>
<circle class="p" cx="593.3" cy="1690.6" r="4.8"/>
<circle class="p" cx="590.8" cy="1691.4" r="4.8"/>
<circle class="p" cx="590.7" cy="1690.6" r="4.8"/>
<circle class="p" cx="590.9" cy="1704.7" r="4.8"/>
<circle class="p" cx="591.7" cy="1756.5" r="4.8"/>
<circle class="p" cx="591.0" cy="1770.2" r="4.8"/>
<circle class="p" cx="592.4" cy="1782.8" r="4.8"/>
<circle class="p" cx="592.4" cy="1804.0" r="4.8"/>
<circle class="p" cx="592.8" cy="1817.9" r="4.8"/>
<circle class="p" cx="591.3" cy="1818.3" r="4.8"/>
<circle class="p" cx="594.2" cy="1818.8" r="4.8"/>
<circle class="p" cx="591.8" cy="1820.6" r="4.8"/>
<circle class="p" cx="591.7" cy="1816.9" r="4.8"/>
<circle class="p" cx="594.5" cy="1826.8" r="4.8"/>
<circle class="p" cx="593.5" cy="1838.6" r="4.8"/>
<circle class="p" cx="592.1" cy="1842.8" r="4.8"/>
<circle class="p" cx="591.7" cy="1853.4" r="4.8"/>
<circle class="p" cx="594.5" cy="1870.7" r="4.8"/>
<circle class="p" cx="590.8" cy="1871.1" r="4.8"/>
<circle class="p" cx="589.5" cy="1876.8" r="4.8"/>
<circle class="p" cx="590.7" cy="1876.4" r="4.8"/>
<circle class="p" cx="589.0" cy="1877.2" r="4.8"/>
<circle class="p" cx="593.6" cy="1877.8" r="4.8"/>
<line x1="646.2" y1="1877.9" x2="658.6" y2="1877.9" stroke="#000" stroke-width="1.35"/>
<line x1="646.2" y1="1877.9" x2="658.6" y2="1877.9" stroke="#000" stroke-width="1.35"/>
<rect x="640.0" y="1877.9" width="24.8" height="0.0" fill="#f0cfaf" stroke="#000" stroke-width="1.35"/>
<line x1="640.0" y1="1877.9" x2="664.8" y2="1877.9" stroke="#000" stroke-width="1.35"/>
<circle class="p" cx="655.2" cy="1877.9" r="4.8"/>
<line x1="713.3" y1="1726.1" x2="713.3" y2="1783.1" stroke="#000" stroke-width="1.35" stroke-dasharray="12 18"/>
<line x1="713.3" y1="1880.6" x2="713.3" y2="1864.8" stroke="#000" stroke-width="1.35" stroke-dasharray="12 18"/>
<line x1="707.1" y1="1726.1" x2="719.5" y2="1726.1" stroke="#000" stroke-width="1.35"/>
<line x1="707.1" y1="1880.6" x2="719.5" y2="1880.6" stroke="#000" stroke-width="1.35"/>
<rect x="700.9" y="1783.1" width="24.8" height="81.7" fill="#f0cfaf" stroke="#000" stroke-width="1.35"/>
<line x1="700.9" y1="1799.3" x2="725.7" y2="1799.3" stroke="#000" stroke-width="1.35"/>
<circle class="p" cx="710.8" cy="1726.1" r="4.8"/>
<circle class="p" cx="710.7" cy="1726.7" r="4.8"/>
<circle class="p" cx="713.2" cy="1732.4" r="4.8"/>
<circle class="p" cx="714.8" cy="1738.9" r="4.8"/>
<circle class="p" cx="713.7" cy="1744.8" r="4.8"/>
<circle class="p" cx="711.2" cy="1752.3" r="4.8"/>
<circle class="p" cx="715.7" cy="1763.4" r="4.8"/>
<circle class="p" cx="712.7" cy="1772.7" r="4.8"/>
<circle class="p" cx="710.6" cy="1778.0" r="4.8"/>
<circle class="p" cx="713.1" cy="1779.5" r="4.8"/>
<circle class="p" cx="713.0" cy="1783.1" r="4.8"/>
<circle class="p" cx="710.8" cy="1785.6" r="4.8"/>
<circle class="p" cx="712.6" cy="1788.8" r="4.8"/>
<circle class="p" cx="711.8" cy="1791.3" r="4.8"/>
<circle class="p" cx="712.2" cy="1793.2" r="4.8"/>
<circle class="p" cx="712.8" cy="1795.1" r="4.8"/>
<circle class="p" cx="711.3" cy="1796.0" r="4.8"/>
<circle class="p" cx="712.6" cy="1797.9" r="4.8"/>
<circle class="p" cx="714.9" cy="1799.3" r="4.8"/>
<circle class="p" cx="711.7" cy="1802.7" r="4.8"/>
<circle class="p" cx="713.7" cy="1808.2" r="4.8"/>
<circle class="p" cx="710.7" cy="1814.1" r="4.8"/>
<circle class="p" cx="713.3" cy="1817.9" r="4.8"/>
<circle class="p" cx="714.2" cy="1825.5" r="4.8"/>
<circle class="p" cx="712.5" cy="1836.9" r="4.8"/>
<circle class="p" cx="710.4" cy="1837.8" r="4.8"/>
<circle class="p" cx="712.0" cy="1843.0" r="4.8"/>
<circle class="p" cx="713.5" cy="1846.4" r="4.8"/>
<circle class="p" cx="714.1" cy="1848.9" r="4.8"/>
<circle class="p" cx="711.1" cy="1861.6" r="4.8"/>
<circle class="p" cx="711.9" cy="1862.5" r="4.8"/>
<circle class="p" cx="710.8" cy="1864.8" r="4.8"/>
<circle class="p" cx="714.8" cy="1869.2" r="4.8"/>
<circle class="p" cx="711.4" cy="1871.1" r="4.8"/>
<circle class="p" cx="716.0" cy="1873.0" r="4.8"/>
<circle class="p" cx="715.5" cy="1873.9" r="4.8"/>
<circle class="p" cx="712.0" cy="1874.9" r="4.8"/>
<circle class="p" cx="715.0" cy="1875.8" r="4.8"/>
<circle class="p" cx="710.6" cy="1876.8" r="4.8"/>
<circle class="p" cx="713.5" cy="1877.8" r="4.8"/>
<circle class="p" cx="714.9" cy="1878.7" r="4.8"/>
<circle class="p" cx="713.5" cy="1879.6" r="4.8"/>
<circle class="p" cx="711.2" cy="1880.0" r="4.8"/>
<circle class="p" cx="714.6" cy="1787.9" r="4.8"/>
<line x1="743.8" y1="1691.2" x2="743.8" y2="1697.4" stroke="#000" stroke-width="1.35" stroke-dasharray="12 18"/>
<line x1="743.8" y1="1784.5" x2="743.8" y2="1760.3" stroke="#000" stroke-width="1.35" stroke-dasharray="12 18"/>
<line x1="737.6" y1="1691.2" x2="750.0" y2="1691.2" stroke="#000" stroke-width="1.35"/>
<line x1="737.6" y1="1784.5" x2="750.0" y2="1784.5" stroke="#000" stroke-width="1.35"/>
<rect x="731.4" y="1697.4" width="24.8" height="62.9" fill="#f0cfaf" stroke="#000" stroke-width="1.35"/>
<line x1="731.4" y1="1719.1" x2="756.2" y2="1719.1" stroke="#000" stroke-width="1.35"/>
<circle class="p" cx="744.6" cy="1691.2" r="4.8"/>
<circle class="p" cx="742.3" cy="1702.6" r="4.8"/>
<circle class="p" cx="741.6" cy="1735.4" r="4.8"/>
<circle class="p" cx="745.8" cy="1784.5" r="4.8"/>
<line x1="774.2" y1="1693.4" x2="774.2" y2="1694.4" stroke="#000" stroke-width="1.35" stroke-dasharray="12 18"/>
<line x1="774.2" y1="1780.8" x2="774.2" y2="1737.7" stroke="#000" stroke-width="1.35" stroke-dasharray="12 18"/>
<line x1="768.0" y1="1693.4" x2="780.4" y2="1693.4" stroke="#000" stroke-width="1.35"/>
<line x1="768.0" y1="1780.8" x2="780.4" y2="1780.8" stroke="#000" stroke-width="1.35"/>
<rect x="761.8" y="1694.4" width="24.8" height="43.3" fill="#f0cfaf" stroke="#000" stroke-width="1.35"/>
<line x1="761.8" y1="1694.4" x2="786.6" y2="1694.4" stroke="#000" stroke-width="1.35"/>
<circle class="p" cx="771.4" cy="1693.4" r="4.8"/>
<circle class="p" cx="775.7" cy="1694.4" r="4.8"/>
<circle class="p" cx="772.3" cy="1695.3" r="4.8"/>
<circle class="p" cx="776.0" cy="1780.8" r="4.8"/>
<line x1="804.7" y1="1716.6" x2="804.7" y2="1731.3" stroke="#000" stroke-width="1.35" stroke-dasharray="12 18"/>
<line x1="804.7" y1="1770.2" x2="804.7" y2="1748.2" stroke="#000" stroke-width="1.35" stroke-dasharray="12 18"/>
<line x1="798.5" y1="1716.6" x2="810.9" y2="1716.6" stroke="#000" stroke-width="1.35"/>
<line x1="798.5" y1="1770.2" x2="810.9" y2="1770.2" stroke="#000" stroke-width="1.35"/>
<rect x="792.3" y="1731.3" width="24.8" height="16.9" fill="#f0cfaf" stroke="#000" stroke-width="1.35"/>
<line x1="792.3" y1="1733.0" x2="817.1" y2="1733.0" stroke="#000" stroke-width="1.35"/>
<circle class="p" cx="806.2" cy="1716.6" r="4.8"/>
<circle class="p" cx="803.2" cy="1728.6" r="4.8"/>
<circle class="p" cx="803.8" cy="1730.5" r="4.8"/>
<circle class="p" cx="802.8" cy="1733.0" r="4.8"/>
<circle class="p" cx="805.5" cy="1744.0" r="4.8"/>
<circle class="p" cx="806.5" cy="1752.3" r="4.8"/>
<circle class="p" cx="804.4" cy="1770.2" r="4.8"/>
<line x1="835.1" y1="1691.2" x2="835.1" y2="1711.9" stroke="#000" stroke-width="1.35" stroke-dasharray="12 18"/>
<line x1="835.1" y1="1880.6" x2="835.1" y2="1869.2" stroke="#000" stroke-width="1.35" stroke-dasharray="12 18"/>
<line x1="828.9" y1="1691.2" x2="841.3" y2="1691.2" stroke="#000" stroke-width="1.35"/>
<line x1="828.9" y1="1880.6" x2="841.3" y2="1880.6" stroke="#000" stroke-width="1.35"/>
<rect x="822.7" y="1711.9" width="24.8" height="157.3" fill="#f0cfaf" stroke="#000" stroke-width="1.35"/>
<line x1="822.7" y1="1816.4" x2="847.5" y2="1816.4" stroke="#000" stroke-width="1.35"/>
<circle class="p" cx="837.9" cy="1691.2" r="4.8"/>
<circle class="p" cx="837.1" cy="1700.1" r="4.8"/>
<circle class="p" cx="837.1" cy="1702.0" r="4.8"/>
<circle class="p" cx="833.1" cy="1703.9" r="4.8"/>
<circle class="p" cx="837.7" cy="1705.8" r="4.8"/>
<circle class="p" cx="834.7" cy="1707.7" r="4.8"/>
<circle class="p" cx="832.9" cy="1713.4" r="4.8"/>
<circle class="p" cx="836.7" cy="1719.5" r="4.8"/>
<circle class="p" cx="835.0" cy="1745.3" r="4.8"/>
<circle class="p" cx="836.5" cy="1774.4" r="4.8"/>
<circle class="p" cx="837.4" cy="1797.2" r="4.8"/>
<circle class="p" cx="835.1" cy="1802.3" r="4.8"/>
<circle class="p" cx="832.7" cy="1803.6" r="4.8"/>
<circle class="p" cx="833.8" cy="1828.5" r="4.8"/>
<circle class="p" cx="833.3" cy="1841.3" r="4.8"/>
<circle class="p" cx="837.7" cy="1847.9" r="4.8"/>
<circle class="p" cx="833.1" cy="1858.2" r="4.8"/>
<circle class="p" cx="837.0" cy="1858.8" r="4.8"/>
<circle class="p" cx="837.0" cy="1862.4" r="4.8"/>
<circle class="p" cx="835.9" cy="1870.0" r="4.8"/>
<circle class="p" cx="834.5" cy="1874.1" r="4.8"/>
<circle class="p" cx="832.3" cy="1874.5" r="4.8"/>
<circle class="p" cx="834.3" cy="1874.9" r="4.8"/>
<circle class="p" cx="833.3" cy="1878.3" r="4.8"/>
<circle class="p" cx="832.6" cy="1878.7" r="4.8"/>
<circle class="p" cx="835.9" cy="1876.4" r="4.8"/>
<circle class="p" cx="833.3" cy="1872.6" r="4.8"/>
<circle class="p" cx="834.9" cy="1702.9" r="4.8"/>
<line x1="889.8" y1="1863.7" x2="902.2" y2="1863.7" stroke="#000" stroke-width="1.35"/>
<line x1="889.8" y1="1863.7" x2="902.2" y2="1863.7" stroke="#000" stroke-width="1.35"/>
<rect x="883.6" y="1863.7" width="24.8" height="0.0" fill="#f0cfaf" stroke="#000" stroke-width="1.35"/>
<line x1="883.6" y1="1863.7" x2="908.4" y2="1863.7" stroke="#000" stroke-width="1.35"/>
<circle class="p" cx="894.1" cy="1863.7" r="4.8"/>
<line x1="987.3" y1="1691.4" x2="987.3" y2="1727.5" stroke="#000" stroke-width="1.35" stroke-dasharray="12 18"/>
<line x1="987.3" y1="1828.5" x2="987.3" y2="1826.3" stroke="#000" stroke-width="1.35" stroke-dasharray="12 18"/>
<line x1="981.1" y1="1691.4" x2="993.5" y2="1691.4" stroke="#000" stroke-width="1.35"/>
<line x1="981.1" y1="1828.5" x2="993.5" y2="1828.5" stroke="#000" stroke-width="1.35"/>
<rect x="974.9" y="1727.5" width="24.8" height="98.8" fill="#f0cfaf" stroke="#000" stroke-width="1.35"/>
<line x1="974.9" y1="1752.5" x2="999.7" y2="1752.5" stroke="#000" stroke-width="1.35"/>
<circle class="p" cx="987.1" cy="1691.4" r="4.8"/>
<circle class="p" cx="989.9" cy="1727.5" r="4.8"/>
<circle class="p" cx="987.5" cy="1752.5" r="4.8"/>
<circle class="p" cx="987.4" cy="1826.3" r="4.8"/>
<circle class="p" cx="989.6" cy="1828.5" r="4.8"/>
<line x1="1011.6" y1="1738.1" x2="1024.0" y2="1738.1" stroke="#000" stroke-width="1.35"/>
<line x1="1011.6" y1="1759.0" x2="1024.0" y2="1759.0" stroke="#000" stroke-width="1.35"/>
<rect x="1005.4" y="1738.1" width="24.8" height="20.9" fill="#f0cfaf" stroke="#000" stroke-width="1.35"/>
<line x1="1005.4" y1="1748.5" x2="1030.2" y2="1748.5" stroke="#000" stroke-width="1.35"/>
<circle class="p" cx="1015.3" cy="1738.1" r="4.8"/>
<circle class="p" cx="1017.4" cy="1759.0" r="4.8"/>
<line x1="1048.2" y1="1694.4" x2="1048.2" y2="1697.8" stroke="#000" stroke-width="1.35" stroke-dasharray="12 18"/>
<line x1="1048.2" y1="1751.2" x2="1048.2" y2="1734.9" stroke="#000" stroke-width="1.35" stroke-dasharray="12 18"/>
<line x1="1042.0" y1="1694.4" x2="1054.4" y2="1694.4" stroke="#000" stroke-width="1.35"/>
<line x1="1042.0" y1="1751.2" x2="1054.4" y2="1751.2" stroke="#000" stroke-width="1.35"/>
<rect x="1035.8" y="1697.8" width="24.8" height="37.0" fill="#f0cfaf" stroke="#000" stroke-width="1.35"/>
<line x1="1035.8" y1="1697.8" x2="1060.6" y2="1697.8" stroke="#000" stroke-width="1.35"/>
<circle class="p" cx="1049.3" cy="1694.4" r="4.8"/>
<circle class="p" cx="1048.5" cy="1694.8" r="4.8"/>
<circle class="p" cx="1048.0" cy="1696.3" r="4.8"/>
<circle class="p" cx="1048.2" cy="1697.8" r="4.8"/>
<circle class="p" cx="1045.6" cy="1719.1" r="4.8"/>
<circle class="p" cx="1049.4" cy="1751.2" r="4.8"/>
<circle class="p" cx="1049.5" cy="1876.4" r="4.8"/>
<rect x="113.5" y="1683.0" width="986.5" height="205.2" fill="none" stroke="#000" stroke-width="1.35"/>
<line x1="94.5" y1="1880.6" x2="113.5" y2="1880.6" stroke="#000" stroke-width="1.35"/>
<text transform="translate(78.8,1891.9) scale(1,1.06)" text-anchor="end" class="t">0</text>
<line x1="94.5" y1="1842.6" x2="113.5" y2="1842.6" stroke="#000" stroke-width="1.35"/>
<text transform="translate(78.8,1853.9) scale(1,1.06)" text-anchor="end" class="t">20</text>
<line x1="94.5" y1="1804.6" x2="113.5" y2="1804.6" stroke="#000" stroke-width="1.35"/>
<text transform="translate(78.8,1815.9) scale(1,1.06)" text-anchor="end" class="t">40</text>
<line x1="94.5" y1="1766.6" x2="113.5" y2="1766.6" stroke="#000" stroke-width="1.35"/>
<text transform="translate(78.8,1777.9) scale(1,1.06)" text-anchor="end" class="t">60</text>
<line x1="94.5" y1="1728.6" x2="113.5" y2="1728.6" stroke="#000" stroke-width="1.35"/>
<text transform="translate(78.8,1739.9) scale(1,1.06)" text-anchor="end" class="t">80</text>
<line x1="94.5" y1="1690.6" x2="113.5" y2="1690.6" stroke="#000" stroke-width="1.35"/>
<text transform="translate(78.8,1701.9) scale(1,1.06)" text-anchor="end" class="t">100</text>
<line x1="165.3" y1="1888.2" x2="165.3" y2="1907.2" stroke="#000" stroke-width="1.35"/>
<text transform="translate(177.9,1908.1) rotate(-90) scale(1,1.06)" text-anchor="end" class="t c">14</text>
<line x1="195.7" y1="1888.2" x2="195.7" y2="1907.2" stroke="#000" stroke-width="1.35"/>
<text transform="translate(208.3,1908.1) rotate(-90) scale(1,1.06)" text-anchor="end" class="t c">0</text>
<line x1="226.2" y1="1888.2" x2="226.2" y2="1907.2" stroke="#000" stroke-width="1.35"/>
<text transform="translate(238.7,1908.1) rotate(-90) scale(1,1.06)" text-anchor="end" class="t c">0</text>
<line x1="256.6" y1="1888.2" x2="256.6" y2="1907.2" stroke="#000" stroke-width="1.35"/>
<text transform="translate(269.1,1908.1) rotate(-90) scale(1,1.06)" text-anchor="end" class="t c">0</text>
<line x1="287.1" y1="1888.2" x2="287.1" y2="1907.2" stroke="#000" stroke-width="1.35"/>
<text transform="translate(299.5,1908.1) rotate(-90) scale(1,1.06)" text-anchor="end" class="t c">0</text>
<line x1="317.5" y1="1888.2" x2="317.5" y2="1907.2" stroke="#000" stroke-width="1.35"/>
<text transform="translate(329.9,1908.1) rotate(-90) scale(1,1.06)" text-anchor="end" class="t c">6</text>
<line x1="347.9" y1="1888.2" x2="347.9" y2="1907.2" stroke="#000" stroke-width="1.35"/>
<text transform="translate(360.3,1908.1) rotate(-90) scale(1,1.06)" text-anchor="end" class="t c">0</text>
<line x1="378.4" y1="1888.2" x2="378.4" y2="1907.2" stroke="#000" stroke-width="1.35"/>
<text transform="translate(390.7,1908.1) rotate(-90) scale(1,1.06)" text-anchor="end" class="t c">0</text>
<line x1="408.8" y1="1888.2" x2="408.8" y2="1907.2" stroke="#000" stroke-width="1.35"/>
<text transform="translate(421.1,1908.1) rotate(-90) scale(1,1.06)" text-anchor="end" class="t c">0</text>
<line x1="439.3" y1="1888.2" x2="439.3" y2="1907.2" stroke="#000" stroke-width="1.35"/>
<text transform="translate(451.5,1908.1) rotate(-90) scale(1,1.06)" text-anchor="end" class="t c">0</text>
<line x1="469.7" y1="1888.2" x2="469.7" y2="1907.2" stroke="#000" stroke-width="1.35"/>
<text transform="translate(481.9,1908.1) rotate(-90) scale(1,1.06)" text-anchor="end" class="t c">0</text>
<line x1="500.2" y1="1888.2" x2="500.2" y2="1907.2" stroke="#000" stroke-width="1.35"/>
<text transform="translate(512.3,1908.1) rotate(-90) scale(1,1.06)" text-anchor="end" class="t c">0</text>
<line x1="530.6" y1="1888.2" x2="530.6" y2="1907.2" stroke="#000" stroke-width="1.35"/>
<text transform="translate(542.7,1908.1) rotate(-90) scale(1,1.06)" text-anchor="end" class="t c">0</text>
<line x1="561.1" y1="1888.2" x2="561.1" y2="1907.2" stroke="#000" stroke-width="1.35"/>
<text transform="translate(573.1,1908.1) rotate(-90) scale(1,1.06)" text-anchor="end" class="t c">5</text>
<line x1="591.5" y1="1888.2" x2="591.5" y2="1907.2" stroke="#000" stroke-width="1.35"/>
<text transform="translate(603.5,1908.1) rotate(-90) scale(1,1.06)" text-anchor="end" class="t c">24</text>
<line x1="622.0" y1="1888.2" x2="622.0" y2="1907.2" stroke="#000" stroke-width="1.35"/>
<text transform="translate(633.9,1908.1) rotate(-90) scale(1,1.06)" text-anchor="end" class="t c">0</text>
<line x1="652.4" y1="1888.2" x2="652.4" y2="1907.2" stroke="#000" stroke-width="1.35"/>
<text transform="translate(664.3,1908.1) rotate(-90) scale(1,1.06)" text-anchor="end" class="t c">1</text>
<line x1="682.9" y1="1888.2" x2="682.9" y2="1907.2" stroke="#000" stroke-width="1.35"/>
<text transform="translate(694.7,1908.1) rotate(-90) scale(1,1.06)" text-anchor="end" class="t c">0</text>
<line x1="713.3" y1="1888.2" x2="713.3" y2="1907.2" stroke="#000" stroke-width="1.35"/>
<text transform="translate(725.1,1908.1) rotate(-90) scale(1,1.06)" text-anchor="end" class="t c">44</text>
<line x1="743.8" y1="1888.2" x2="743.8" y2="1907.2" stroke="#000" stroke-width="1.35"/>
<text transform="translate(755.5,1908.1) rotate(-90) scale(1,1.06)" text-anchor="end" class="t c">4</text>
<line x1="774.2" y1="1888.2" x2="774.2" y2="1907.2" stroke="#000" stroke-width="1.35"/>
<text transform="translate(785.9,1908.1) rotate(-90) scale(1,1.06)" text-anchor="end" class="t c">4</text>
<line x1="804.7" y1="1888.2" x2="804.7" y2="1907.2" stroke="#000" stroke-width="1.35"/>
<text transform="translate(816.3,1908.1) rotate(-90) scale(1,1.06)" text-anchor="end" class="t c">7</text>
<line x1="835.1" y1="1888.2" x2="835.1" y2="1907.2" stroke="#000" stroke-width="1.35"/>
<text transform="translate(846.7,1908.1) rotate(-90) scale(1,1.06)" text-anchor="end" class="t c">28</text>
<line x1="865.6" y1="1888.2" x2="865.6" y2="1907.2" stroke="#000" stroke-width="1.35"/>
<text transform="translate(877.1,1908.1) rotate(-90) scale(1,1.06)" text-anchor="end" class="t c">0</text>
<line x1="896.0" y1="1888.2" x2="896.0" y2="1907.2" stroke="#000" stroke-width="1.35"/>
<text transform="translate(907.5,1908.1) rotate(-90) scale(1,1.06)" text-anchor="end" class="t c">1</text>
<line x1="926.4" y1="1888.2" x2="926.4" y2="1907.2" stroke="#000" stroke-width="1.35"/>
<text transform="translate(937.9,1908.1) rotate(-90) scale(1,1.06)" text-anchor="end" class="t c">0</text>
<line x1="956.9" y1="1888.2" x2="956.9" y2="1907.2" stroke="#000" stroke-width="1.35"/>
<text transform="translate(968.3,1908.1) rotate(-90) scale(1,1.06)" text-anchor="end" class="t c">0</text>
<line x1="987.3" y1="1888.2" x2="987.3" y2="1907.2" stroke="#000" stroke-width="1.35"/>
<text transform="translate(998.7,1908.1) rotate(-90) scale(1,1.06)" text-anchor="end" class="t c">5</text>
<line x1="1017.8" y1="1888.2" x2="1017.8" y2="1907.2" stroke="#000" stroke-width="1.35"/>
<text transform="translate(1029.1,1908.1) rotate(-90) scale(1,1.06)" text-anchor="end" class="t c">2</text>
<line x1="1048.2" y1="1888.2" x2="1048.2" y2="1907.2" stroke="#000" stroke-width="1.35"/>
<text transform="translate(1059.5,1908.1) rotate(-90) scale(1,1.06)" text-anchor="end" class="t c">7</text>
<text transform="translate(1113,1743.3) scale(1,1.06)" class="t" style="font-style:italic;fill:#009140">18S</text>
<text transform="translate(1113,1779.3) scale(1,1.06)" class="t">T7701C</text>
<text transform="translate(1113,1815.3) scale(1,1.06)" class="t">n = 152</text>
<line x1="165.3" y1="1963.8" x2="165.3" y2="1965.3" stroke="#000" stroke-width="1.35" stroke-dasharray="12 18"/>
<line x1="165.3" y1="1978.2" x2="165.3" y2="1973.7" stroke="#000" stroke-width="1.35" stroke-dasharray="12 18"/>
<line x1="159.1" y1="1963.8" x2="171.5" y2="1963.8" stroke="#000" stroke-width="1.35"/>
<line x1="159.1" y1="1978.2" x2="171.5" y2="1978.2" stroke="#000" stroke-width="1.35"/>
<rect x="152.9" y="1965.3" width="24.8" height="8.4" fill="#f0cfaf" stroke="#000" stroke-width="1.35"/>
<line x1="152.9" y1="1967.6" x2="177.7" y2="1967.6" stroke="#000" stroke-width="1.35"/>
<circle class="p" cx="167.4" cy="1963.8" r="4.8"/>
<circle class="p" cx="167.1" cy="1963.8" r="4.8"/>
<circle class="p" cx="165.8" cy="1963.8" r="4.8"/>
<circle class="p" cx="167.6" cy="1963.8" r="4.8"/>
<circle class="p" cx="166.7" cy="1963.8" r="4.8"/>
<circle class="p" cx="167.1" cy="1963.8" r="4.8"/>
<circle class="p" cx="163.6" cy="1963.8" r="4.8"/>
<circle class="p" cx="168.1" cy="1963.8" r="4.8"/>
<circle class="p" cx="166.1" cy="1964.8" r="4.8"/>
<circle class="p" cx="165.6" cy="1965.3" r="4.8"/>
<circle class="p" cx="164.9" cy="1965.7" r="4.8"/>
<circle class="p" cx="164.0" cy="1966.7" r="4.8"/>
<circle class="p" cx="167.7" cy="1967.6" r="4.8"/>
<circle class="p" cx="162.5" cy="1971.4" r="4.8"/>
<circle class="p" cx="164.9" cy="1973.7" r="4.8"/>
<circle class="p" cx="163.4" cy="1978.2" r="4.8"/>
<circle class="p" cx="167.8" cy="2007.5" r="4.8"/>
<circle class="p" cx="167.7" cy="2010.9" r="4.8"/>
<circle class="p" cx="163.0" cy="2015.9" r="4.8"/>
<circle class="p" cx="167.8" cy="2045.1" r="4.8"/>
<line x1="195.7" y1="2121.5" x2="195.7" y2="2123.0" stroke="#000" stroke-width="1.35" stroke-dasharray="12 18"/>
<line x1="195.7" y1="2151.9" x2="195.7" y2="2137.8" stroke="#000" stroke-width="1.35" stroke-dasharray="12 18"/>
<line x1="189.5" y1="2121.5" x2="201.9" y2="2121.5" stroke="#000" stroke-width="1.35"/>
<line x1="189.5" y1="2151.9" x2="201.9" y2="2151.9" stroke="#000" stroke-width="1.35"/>
<rect x="183.3" y="2123.0" width="24.8" height="14.8" fill="#f0cfaf" stroke="#000" stroke-width="1.35"/>
<line x1="183.3" y1="2123.0" x2="208.1" y2="2123.0" stroke="#000" stroke-width="1.35"/>
<circle class="p" cx="196.5" cy="2121.5" r="4.8"/>
<circle class="p" cx="198.1" cy="2123.0" r="4.8"/>
<circle class="p" cx="198.4" cy="2151.9" r="4.8"/>
<line x1="317.5" y1="2138.6" x2="317.5" y2="2141.3" stroke="#000" stroke-width="1.35" stroke-dasharray="12 18"/>
<line x1="317.5" y1="2150.0" x2="317.5" y2="2148.5" stroke="#000" stroke-width="1.35" stroke-dasharray="12 18"/>
<line x1="311.3" y1="2138.6" x2="323.7" y2="2138.6" stroke="#000" stroke-width="1.35"/>
<line x1="311.3" y1="2150.0" x2="323.7" y2="2150.0" stroke="#000" stroke-width="1.35"/>
<rect x="305.1" y="2141.3" width="24.8" height="7.2" fill="#f0cfaf" stroke="#000" stroke-width="1.35"/>
<line x1="305.1" y1="2144.3" x2="329.9" y2="2144.3" stroke="#000" stroke-width="1.35"/>
<circle class="p" cx="318.4" cy="1983.4" r="4.8"/>
<circle class="p" cx="316.3" cy="2138.6" r="4.8"/>
<circle class="p" cx="315.9" cy="2140.5" r="4.8"/>
<circle class="p" cx="314.7" cy="2141.3" r="4.8"/>
<circle class="p" cx="317.9" cy="2143.4" r="4.8"/>
<circle class="p" cx="315.0" cy="2144.3" r="4.8"/>
<circle class="p" cx="320.3" cy="2145.2" r="4.8"/>
<circle class="p" cx="314.8" cy="2146.2" r="4.8"/>
<circle class="p" cx="319.4" cy="2148.1" r="4.8"/>
<circle class="p" cx="315.2" cy="2148.5" r="4.8"/>
<line x1="561.1" y1="1963.8" x2="561.1" y2="1964.4" stroke="#000" stroke-width="1.35" stroke-dasharray="12 18"/>
<line x1="561.1" y1="2152.1" x2="561.1" y2="2040.2" stroke="#000" stroke-width="1.35" stroke-dasharray="12 18"/>
<line x1="554.9" y1="1963.8" x2="567.3" y2="1963.8" stroke="#000" stroke-width="1.35"/>
<line x1="554.9" y1="2152.1" x2="567.3" y2="2152.1" stroke="#000" stroke-width="1.35"/>
<rect x="548.7" y="1964.4" width="24.8" height="75.8" fill="#f0cfaf" stroke="#000" stroke-width="1.35"/>
<line x1="548.7" y1="1967.6" x2="573.5" y2="1967.6" stroke="#000" stroke-width="1.35"/>
<circle class="p" cx="560.4" cy="1963.8" r="4.8"/>
<circle class="p" cx="562.6" cy="1963.8" r="4.8"/>
<circle class="p" cx="559.7" cy="1963.8" r="4.8"/>
<circle class="p" cx="558.3" cy="1963.8" r="4.8"/>
<circle class="p" cx="559.7" cy="1963.8" r="4.8"/>
<circle class="p" cx="563.3" cy="1963.8" r="4.8"/>
<circle class="p" cx="563.4" cy="1963.8" r="4.8"/>
<circle class="p" cx="559.2" cy="1963.8" r="4.8"/>
<circle class="p" cx="559.3" cy="1963.8" r="4.8"/>
<circle class="p" cx="561.2" cy="1963.8" r="4.8"/>
<circle class="p" cx="561.1" cy="1963.8" r="4.8"/>
<circle class="p" cx="561.7" cy="1963.8" r="4.8"/>
<circle class="p" cx="563.5" cy="1964.8" r="4.8"/>
<circle class="p" cx="562.8" cy="1965.7" r="4.8"/>
<circle class="p" cx="561.0" cy="1967.6" r="4.8"/>
<circle class="p" cx="558.8" cy="1996.5" r="4.8"/>
<circle class="p" cx="558.5" cy="1997.1" r="4.8"/>
<circle class="p" cx="560.0" cy="1998.0" r="4.8"/>
<circle class="p" cx="558.1" cy="2021.0" r="4.8"/>
<circle class="p" cx="561.2" cy="2021.8" r="4.8"/>
<circle class="p" cx="561.8" cy="2026.9" r="4.8"/>
<circle class="p" cx="559.6" cy="2032.0" r="4.8"/>
<circle class="p" cx="561.8" cy="2033.2" r="4.8"/>
<circle class="p" cx="560.4" cy="2048.2" r="4.8"/>
<circle class="p" cx="559.4" cy="2054.1" r="4.8"/>
<circle class="p" cx="563.3" cy="2084.8" r="4.8"/>
<circle class="p" cx="559.8" cy="2104.8" r="4.8"/>
<circle class="p" cx="558.7" cy="2109.0" r="4.8"/>
<circle class="p" cx="562.6" cy="2135.2" r="4.8"/>
<circle class="p" cx="562.2" cy="2144.5" r="4.8"/>
<circle class="p" cx="558.4" cy="2152.1" r="4.8"/>
<line x1="713.3" y1="2124.7" x2="713.3" y2="2133.5" stroke="#000" stroke-width="1.35" stroke-dasharray="12 18"/>
<line x1="713.3" y1="2153.8" x2="713.3" y2="2151.0" stroke="#000" stroke-width="1.35" stroke-dasharray="12 18"/>
<line x1="707.1" y1="2124.7" x2="719.5" y2="2124.7" stroke="#000" stroke-width="1.35"/>
<line x1="707.1" y1="2153.8" x2="719.5" y2="2153.8" stroke="#000" stroke-width="1.35"/>
<rect x="700.9" y="2133.5" width="24.8" height="17.5" fill="#f0cfaf" stroke="#000" stroke-width="1.35"/>
<line x1="700.9" y1="2147.0" x2="725.7" y2="2147.0" stroke="#000" stroke-width="1.35"/>
<circle class="p" cx="711.4" cy="2074.8" r="4.8"/>
<circle class="p" cx="714.0" cy="2095.1" r="4.8"/>
<circle class="p" cx="711.8" cy="2103.1" r="4.8"/>
<circle class="p" cx="712.5" cy="2124.7" r="4.8"/>
<circle class="p" cx="710.7" cy="2125.3" r="4.8"/>
<circle class="p" cx="711.1" cy="2132.9" r="4.8"/>
<circle class="p" cx="713.1" cy="2133.5" r="4.8"/>
<circle class="p" cx="712.7" cy="2138.6" r="4.8"/>
<circle class="p" cx="713.1" cy="2142.4" r="4.8"/>
<circle class="p" cx="711.6" cy="2145.8" r="4.8"/>
<circle class="p" cx="714.1" cy="2146.2" r="4.8"/>
<circle class="p" cx="712.0" cy="2146.6" r="4.8"/>
<circle class="p" cx="714.1" cy="2147.0" r="4.8"/>
<circle class="p" cx="715.3" cy="2147.2" r="4.8"/>
<circle class="p" cx="715.4" cy="2149.6" r="4.8"/>
<circle class="p" cx="710.4" cy="2150.0" r="4.8"/>
<circle class="p" cx="713.6" cy="2150.4" r="4.8"/>
<circle class="p" cx="711.9" cy="2150.8" r="4.8"/>
<circle class="p" cx="713.0" cy="2151.0" r="4.8"/>
<circle class="p" cx="711.9" cy="2151.5" r="4.8"/>
<circle class="p" cx="712.3" cy="2151.9" r="4.8"/>
<circle class="p" cx="713.4" cy="2152.3" r="4.8"/>
<circle class="p" cx="714.4" cy="2152.7" r="4.8"/>
<circle class="p" cx="711.1" cy="2153.0" r="4.8"/>
<circle class="p" cx="710.5" cy="2153.4" r="4.8"/>
<circle class="p" cx="714.7" cy="2148.1" r="4.8"/>
<line x1="737.6" y1="2005.8" x2="750.0" y2="2005.8" stroke="#000" stroke-width="1.35"/>
<line x1="737.6" y1="2144.3" x2="750.0" y2="2144.3" stroke="#000" stroke-width="1.35"/>
<rect x="731.4" y="2005.8" width="24.8" height="138.5" fill="#f0cfaf" stroke="#000" stroke-width="1.35"/>
<line x1="731.4" y1="2074.8" x2="756.2" y2="2074.8" stroke="#000" stroke-width="1.35"/>
<circle class="p" cx="742.1" cy="2005.8" r="4.8"/>
<circle class="p" cx="742.6" cy="2144.3" r="4.8"/>
<line x1="804.7" y1="2152.1" x2="804.7" y2="2145.8" stroke="#000" stroke-width="1.35" stroke-dasharray="12 18"/>
<line x1="798.5" y1="2139.2" x2="810.9" y2="2139.2" stroke="#000" stroke-width="1.35"/>
<line x1="798.5" y1="2152.1" x2="810.9" y2="2152.1" stroke="#000" stroke-width="1.35"/>
<rect x="792.3" y="2139.2" width="24.8" height="6.6" fill="#f0cfaf" stroke="#000" stroke-width="1.35"/>
<line x1="792.3" y1="2141.3" x2="817.1" y2="2141.3" stroke="#000" stroke-width="1.35"/>
<circle class="p" cx="805.9" cy="2139.2" r="4.8"/>
<circle class="p" cx="806.0" cy="2141.3" r="4.8"/>
<circle class="p" cx="804.3" cy="2152.1" r="4.8"/>
<line x1="835.1" y1="1979.2" x2="835.1" y2="2030.3" stroke="#000" stroke-width="1.35" stroke-dasharray="12 18"/>
<line x1="835.1" y1="2153.8" x2="835.1" y2="2148.3" stroke="#000" stroke-width="1.35" stroke-dasharray="12 18"/>
<line x1="828.9" y1="1979.2" x2="841.3" y2="1979.2" stroke="#000" stroke-width="1.35"/>
<line x1="828.9" y1="2153.8" x2="841.3" y2="2153.8" stroke="#000" stroke-width="1.35"/>
<rect x="822.7" y="2030.3" width="24.8" height="118.0" fill="#f0cfaf" stroke="#000" stroke-width="1.35"/>
<line x1="822.7" y1="2110.7" x2="847.5" y2="2110.7" stroke="#000" stroke-width="1.35"/>
<circle class="p" cx="835.1" cy="1979.2" r="4.8"/>
<circle class="p" cx="832.4" cy="1986.8" r="4.8"/>
<circle class="p" cx="834.5" cy="2030.3" r="4.8"/>
<circle class="p" cx="836.2" cy="2031.3" r="4.8"/>
<circle class="p" cx="836.5" cy="2081.6" r="4.8"/>
<circle class="p" cx="833.2" cy="2104.6" r="4.8"/>
<circle class="p" cx="836.3" cy="2110.7" r="4.8"/>
<circle class="p" cx="832.9" cy="2122.1" r="4.8"/>
<circle class="p" cx="832.6" cy="2147.7" r="4.8"/>
<circle class="p" cx="835.0" cy="2148.1" r="4.8"/>
<circle class="p" cx="837.5" cy="2148.3" r="4.8"/>
<circle class="p" cx="835.4" cy="2149.1" r="4.8"/>
<circle class="p" cx="832.2" cy="2150.0" r="4.8"/>
<line x1="981.1" y1="1969.9" x2="993.5" y2="1969.9" stroke="#000" stroke-width="1.35"/>
<line x1="981.1" y1="1981.5" x2="993.5" y2="1981.5" stroke="#000" stroke-width="1.35"/>
<rect x="974.9" y="1969.9" width="24.8" height="11.6" fill="#f0cfaf" stroke="#000" stroke-width="1.35"/>
<line x1="974.9" y1="1976.0" x2="999.7" y2="1976.0" stroke="#000" stroke-width="1.35"/>
<circle class="p" cx="988.0" cy="1969.9" r="4.8"/>
<circle class="p" cx="987.7" cy="1981.5" r="4.8"/>
<rect x="113.5" y="1956.2" width="986.5" height="205.2" fill="none" stroke="#000" stroke-width="1.35"/>
<line x1="94.5" y1="2153.8" x2="113.5" y2="2153.8" stroke="#000" stroke-width="1.35"/>
<text transform="translate(78.8,2165.1) scale(1,1.06)" text-anchor="end" class="t">0</text>
<line x1="94.5" y1="2115.8" x2="113.5" y2="2115.8" stroke="#000" stroke-width="1.35"/>
<text transform="translate(78.8,2127.1) scale(1,1.06)" text-anchor="end" class="t">20</text>
<line x1="94.5" y1="2077.8" x2="113.5" y2="2077.8" stroke="#000" stroke-width="1.35"/>
<text transform="translate(78.8,2089.1) scale(1,1.06)" text-anchor="end" class="t">40</text>
<line x1="94.5" y1="2039.8" x2="113.5" y2="2039.8" stroke="#000" stroke-width="1.35"/>
<text transform="translate(78.8,2051.1) scale(1,1.06)" text-anchor="end" class="t">60</text>
<line x1="94.5" y1="2001.8" x2="113.5" y2="2001.8" stroke="#000" stroke-width="1.35"/>
<text transform="translate(78.8,2013.1) scale(1,1.06)" text-anchor="end" class="t">80</text>
<line x1="94.5" y1="1963.8" x2="113.5" y2="1963.8" stroke="#000" stroke-width="1.35"/>
<text transform="translate(78.8,1975.1) scale(1,1.06)" text-anchor="end" class="t">100</text>
<line x1="165.3" y1="2161.4" x2="165.3" y2="2180.4" stroke="#000" stroke-width="1.35"/>
<text transform="translate(177.9,2181.3) rotate(-90) scale(1,1.06)" text-anchor="end" class="t c">20</text>
<line x1="195.7" y1="2161.4" x2="195.7" y2="2180.4" stroke="#000" stroke-width="1.35"/>
<text transform="translate(208.3,2181.3) rotate(-90) scale(1,1.06)" text-anchor="end" class="t c">3</text>
<line x1="226.2" y1="2161.4" x2="226.2" y2="2180.4" stroke="#000" stroke-width="1.35"/>
<text transform="translate(238.7,2181.3) rotate(-90) scale(1,1.06)" text-anchor="end" class="t c">0</text>
<line x1="256.6" y1="2161.4" x2="256.6" y2="2180.4" stroke="#000" stroke-width="1.35"/>
<text transform="translate(269.1,2181.3) rotate(-90) scale(1,1.06)" text-anchor="end" class="t c">0</text>
<line x1="287.1" y1="2161.4" x2="287.1" y2="2180.4" stroke="#000" stroke-width="1.35"/>
<text transform="translate(299.5,2181.3) rotate(-90) scale(1,1.06)" text-anchor="end" class="t c">0</text>
<line x1="317.5" y1="2161.4" x2="317.5" y2="2180.4" stroke="#000" stroke-width="1.35"/>
<text transform="translate(329.9,2181.3) rotate(-90) scale(1,1.06)" text-anchor="end" class="t c">10</text>
<line x1="347.9" y1="2161.4" x2="347.9" y2="2180.4" stroke="#000" stroke-width="1.35"/>
<text transform="translate(360.3,2181.3) rotate(-90) scale(1,1.06)" text-anchor="end" class="t c">0</text>
<line x1="378.4" y1="2161.4" x2="378.4" y2="2180.4" stroke="#000" stroke-width="1.35"/>
<text transform="translate(390.7,2181.3) rotate(-90) scale(1,1.06)" text-anchor="end" class="t c">0</text>
<line x1="408.8" y1="2161.4" x2="408.8" y2="2180.4" stroke="#000" stroke-width="1.35"/>
<text transform="translate(421.1,2181.3) rotate(-90) scale(1,1.06)" text-anchor="end" class="t c">0</text>
<line x1="439.3" y1="2161.4" x2="439.3" y2="2180.4" stroke="#000" stroke-width="1.35"/>
<text transform="translate(451.5,2181.3) rotate(-90) scale(1,1.06)" text-anchor="end" class="t c">0</text>
<line x1="469.7" y1="2161.4" x2="469.7" y2="2180.4" stroke="#000" stroke-width="1.35"/>
<text transform="translate(481.9,2181.3) rotate(-90) scale(1,1.06)" text-anchor="end" class="t c">0</text>
<line x1="500.2" y1="2161.4" x2="500.2" y2="2180.4" stroke="#000" stroke-width="1.35"/>
<text transform="translate(512.3,2181.3) rotate(-90) scale(1,1.06)" text-anchor="end" class="t c">0</text>
<line x1="530.6" y1="2161.4" x2="530.6" y2="2180.4" stroke="#000" stroke-width="1.35"/>
<text transform="translate(542.7,2181.3) rotate(-90) scale(1,1.06)" text-anchor="end" class="t c">0</text>
<line x1="561.1" y1="2161.4" x2="561.1" y2="2180.4" stroke="#000" stroke-width="1.35"/>
<text transform="translate(573.1,2181.3) rotate(-90) scale(1,1.06)" text-anchor="end" class="t c">31</text>
<line x1="591.5" y1="2161.4" x2="591.5" y2="2180.4" stroke="#000" stroke-width="1.35"/>
<text transform="translate(603.5,2181.3) rotate(-90) scale(1,1.06)" text-anchor="end" class="t c">0</text>
<line x1="622.0" y1="2161.4" x2="622.0" y2="2180.4" stroke="#000" stroke-width="1.35"/>
<text transform="translate(633.9,2181.3) rotate(-90) scale(1,1.06)" text-anchor="end" class="t c">0</text>
<line x1="652.4" y1="2161.4" x2="652.4" y2="2180.4" stroke="#000" stroke-width="1.35"/>
<text transform="translate(664.3,2181.3) rotate(-90) scale(1,1.06)" text-anchor="end" class="t c">0</text>
<line x1="682.9" y1="2161.4" x2="682.9" y2="2180.4" stroke="#000" stroke-width="1.35"/>
<text transform="translate(694.7,2181.3) rotate(-90) scale(1,1.06)" text-anchor="end" class="t c">0</text>
<line x1="713.3" y1="2161.4" x2="713.3" y2="2180.4" stroke="#000" stroke-width="1.35"/>
<text transform="translate(725.1,2181.3) rotate(-90) scale(1,1.06)" text-anchor="end" class="t c">26</text>
<line x1="743.8" y1="2161.4" x2="743.8" y2="2180.4" stroke="#000" stroke-width="1.35"/>
<text transform="translate(755.5,2181.3) rotate(-90) scale(1,1.06)" text-anchor="end" class="t c">2</text>
<line x1="774.2" y1="2161.4" x2="774.2" y2="2180.4" stroke="#000" stroke-width="1.35"/>
<text transform="translate(785.9,2181.3) rotate(-90) scale(1,1.06)" text-anchor="end" class="t c">0</text>
<line x1="804.7" y1="2161.4" x2="804.7" y2="2180.4" stroke="#000" stroke-width="1.35"/>
<text transform="translate(816.3,2181.3) rotate(-90) scale(1,1.06)" text-anchor="end" class="t c">3</text>
<line x1="835.1" y1="2161.4" x2="835.1" y2="2180.4" stroke="#000" stroke-width="1.35"/>
<text transform="translate(846.7,2181.3) rotate(-90) scale(1,1.06)" text-anchor="end" class="t c">13</text>
<line x1="865.6" y1="2161.4" x2="865.6" y2="2180.4" stroke="#000" stroke-width="1.35"/>
<text transform="translate(877.1,2181.3) rotate(-90) scale(1,1.06)" text-anchor="end" class="t c">0</text>
<line x1="896.0" y1="2161.4" x2="896.0" y2="2180.4" stroke="#000" stroke-width="1.35"/>
<text transform="translate(907.5,2181.3) rotate(-90) scale(1,1.06)" text-anchor="end" class="t c">0</text>
<line x1="926.4" y1="2161.4" x2="926.4" y2="2180.4" stroke="#000" stroke-width="1.35"/>
<text transform="translate(937.9,2181.3) rotate(-90) scale(1,1.06)" text-anchor="end" class="t c">0</text>
<line x1="956.9" y1="2161.4" x2="956.9" y2="2180.4" stroke="#000" stroke-width="1.35"/>
<text transform="translate(968.3,2181.3) rotate(-90) scale(1,1.06)" text-anchor="end" class="t c">0</text>
<line x1="987.3" y1="2161.4" x2="987.3" y2="2180.4" stroke="#000" stroke-width="1.35"/>
<text transform="translate(998.7,2181.3) rotate(-90) scale(1,1.06)" text-anchor="end" class="t c">2</text>
<line x1="1017.8" y1="2161.4" x2="1017.8" y2="2180.4" stroke="#000" stroke-width="1.35"/>
<text transform="translate(1029.1,2181.3) rotate(-90) scale(1,1.06)" text-anchor="end" class="t c">0</text>
<line x1="1048.2" y1="2161.4" x2="1048.2" y2="2180.4" stroke="#000" stroke-width="1.35"/>
<text transform="translate(1059.5,2181.3) rotate(-90) scale(1,1.06)" text-anchor="end" class="t c">0</text>
<text transform="translate(1113,2022.2) scale(1,1.06)" class="t" style="font-style:italic;fill:#009140">25S</text>
<text transform="translate(1113,2058.2) scale(1,1.06)" class="t">T2620C</text>
<text transform="translate(1113,2094.2) scale(1,1.06)" class="t">n = 110</text>
<text transform="translate(173.9,2227.8) rotate(-90) scale(1,1.074)" text-anchor="end" class="t" style="font-size:29.6px">African beer (20)</text>
<text transform="translate(204.3,2227.8) rotate(-90) scale(1,1.074)" text-anchor="end" class="t" style="font-size:29.6px">Ale beer (18)</text>
<text transform="translate(234.7,2227.8) rotate(-90) scale(1,1.074)" text-anchor="end" class="t" style="font-size:29.6px">Alpechin (17)</text>
<text transform="translate(265.1,2227.8) rotate(-90) scale(1,1.074)" text-anchor="end" class="t" style="font-size:29.6px">Asian fermentation (39)</text>
<text transform="translate(295.5,2227.8) rotate(-90) scale(1,1.074)" text-anchor="end" class="t" style="font-size:29.6px">Asian islands (11)</text>
<text transform="translate(325.9,2227.8) rotate(-90) scale(1,1.074)" text-anchor="end" class="t" style="font-size:29.6px">Brazilian bioethanol (35)</text>
<text transform="translate(356.3,2227.8) rotate(-90) scale(1,1.074)" text-anchor="end" class="t" style="font-size:29.6px">CHN V (2)</text>
<text transform="translate(386.7,2227.8) rotate(-90) scale(1,1.074)" text-anchor="end" class="t" style="font-size:29.6px">CHNI (1)</text>
<text transform="translate(417.1,2227.8) rotate(-90) scale(1,1.074)" text-anchor="end" class="t" style="font-size:29.6px">CHNII (2)</text>
<text transform="translate(447.5,2227.8) rotate(-90) scale(1,1.074)" text-anchor="end" class="t" style="font-size:29.6px">CHNIII (2)</text>
<text transform="translate(477.9,2227.8) rotate(-90) scale(1,1.074)" text-anchor="end" class="t" style="font-size:29.6px">Ecuadorean (10)</text>
<text transform="translate(508.3,2227.8) rotate(-90) scale(1,1.074)" text-anchor="end" class="t" style="font-size:29.6px">Far East Asia (9)</text>
<text transform="translate(538.7,2227.8) rotate(-90) scale(1,1.074)" text-anchor="end" class="t" style="font-size:29.6px">Far East Russian (4)</text>
<text transform="translate(569.1,2227.8) rotate(-90) scale(1,1.074)" text-anchor="end" class="t" style="font-size:29.6px">French dairy (32)</text>
<text transform="translate(599.5,2227.8) rotate(-90) scale(1,1.074)" text-anchor="end" class="t" style="font-size:29.6px">French Guiana (31)</text>
<text transform="translate(629.9,2227.8) rotate(-90) scale(1,1.074)" text-anchor="end" class="t" style="font-size:29.6px">Malaysian (6)</text>
<text transform="translate(660.3,2227.8) rotate(-90) scale(1,1.074)" text-anchor="end" class="t" style="font-size:29.6px">Mediterranean oak (8)</text>
<text transform="translate(690.7,2227.8) rotate(-90) scale(1,1.074)" text-anchor="end" class="t" style="font-size:29.6px">Mexican agave (7)</text>
<text transform="translate(721.1,2227.8) rotate(-90) scale(1,1.074)" text-anchor="end" class="t" style="font-size:29.6px">Mixed origin (72)</text>
<text transform="translate(751.5,2227.8) rotate(-90) scale(1,1.074)" text-anchor="end" class="t" style="font-size:29.6px">Mosaic beer (21)</text>
<text transform="translate(781.9,2227.8) rotate(-90) scale(1,1.074)" text-anchor="end" class="t" style="font-size:29.6px">Mosaic region 1 (17)</text>
<text transform="translate(812.3,2227.8) rotate(-90) scale(1,1.074)" text-anchor="end" class="t" style="font-size:29.6px">Mosaic region 2 (20)</text>
<text transform="translate(842.7,2227.8) rotate(-90) scale(1,1.074)" text-anchor="end" class="t" style="font-size:29.6px">Mosaic region 3 (113)</text>
<text transform="translate(873.1,2227.8) rotate(-90) scale(1,1.074)" text-anchor="end" class="t" style="font-size:29.6px">North American (13)</text>
<text transform="translate(903.5,2227.8) rotate(-90) scale(1,1.074)" text-anchor="end" class="t" style="font-size:29.6px">Palm wine (28)</text>
<text transform="translate(933.9,2227.8) rotate(-90) scale(1,1.074)" text-anchor="end" class="t" style="font-size:29.6px">Sake (47)</text>
<text transform="translate(964.3,2227.8) rotate(-90) scale(1,1.074)" text-anchor="end" class="t" style="font-size:29.6px">Taiwanese (3)</text>
<text transform="translate(994.7,2227.8) rotate(-90) scale(1,1.074)" text-anchor="end" class="t" style="font-size:29.6px">Unclustered (48)</text>
<text transform="translate(1025.1,2227.8) rotate(-90) scale(1,1.074)" text-anchor="end" class="t" style="font-size:29.6px">West African cocoa (13)</text>
<text transform="translate(1055.5,2227.8) rotate(-90) scale(1,1.074)" text-anchor="end" class="t" style="font-size:29.6px">Wine/European (362)</text>
<text transform="translate(23.8,1252.2) rotate(-90) scale(1,1.019)" text-anchor="middle" class="t" style="font-size:31.2px">iVF, %</text>
</svg>
</body></html>
